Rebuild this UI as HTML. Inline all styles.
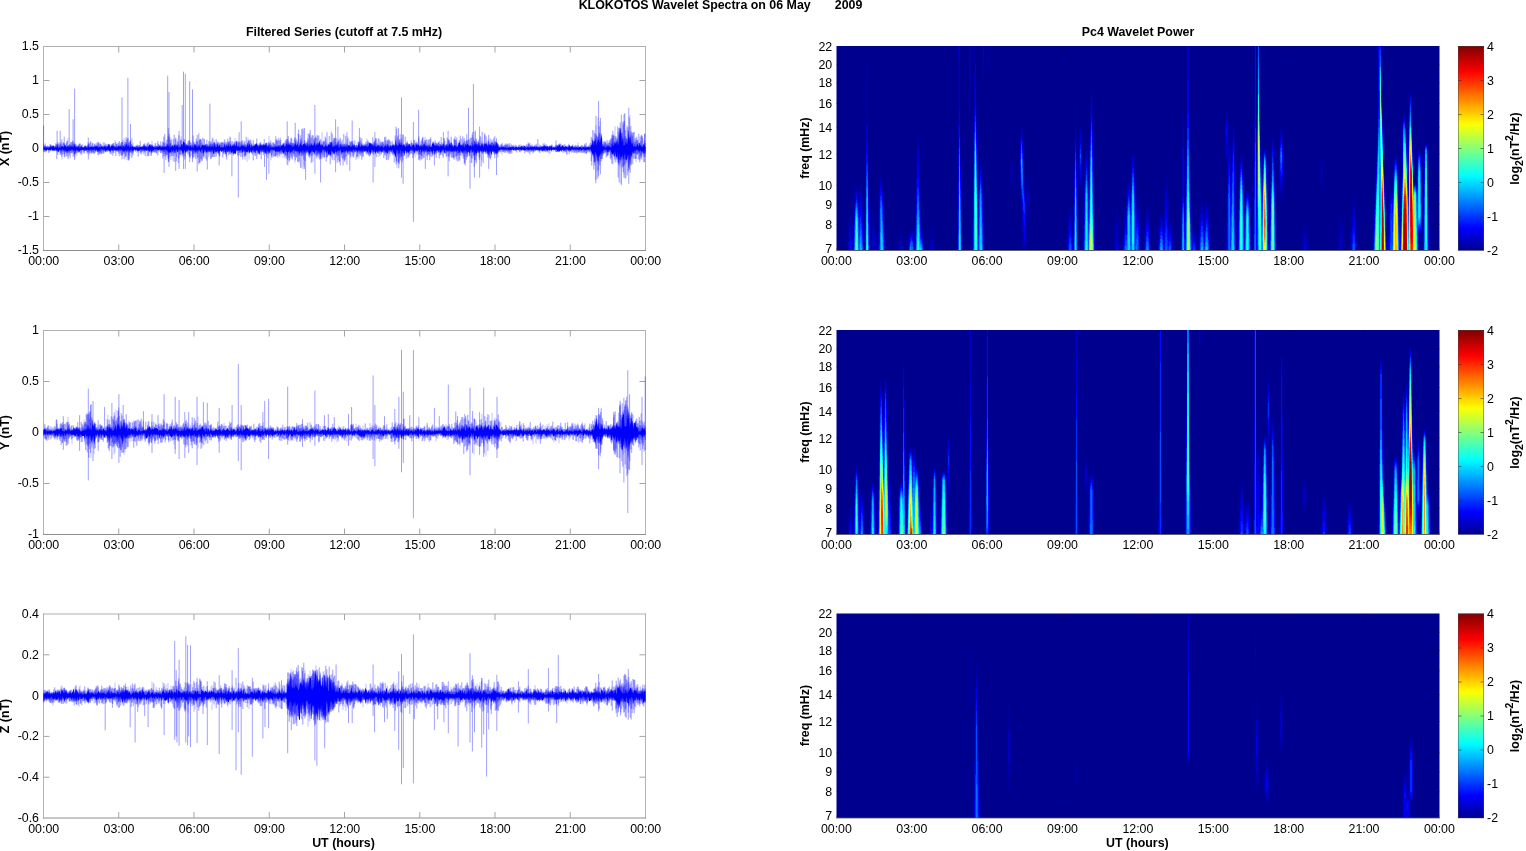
<!DOCTYPE html>
<html lang="en"><head><meta charset="utf-8"><title>KLOKOTOS Wavelet Spectra on 06 May 2009</title>
<style>html,body{margin:0;padding:0;background:#fff;overflow:hidden}svg{display:block}text{font-family:'Liberation Sans', sans-serif;fill:#000;white-space:pre}</style>
</head><body>
<svg width="1526" height="851" viewBox="0 0 1526 851">
<rect width="1526" height="851" fill="#fff"/>
<defs><linearGradient id="jet" x1="0" y1="1" x2="0" y2="0">
<stop offset="0.0000" stop-color="#00008f"/>
<stop offset="0.0156" stop-color="#00009f"/>
<stop offset="0.0312" stop-color="#0000af"/>
<stop offset="0.0469" stop-color="#0000be"/>
<stop offset="0.0625" stop-color="#0000ce"/>
<stop offset="0.0781" stop-color="#0000de"/>
<stop offset="0.0938" stop-color="#0000ee"/>
<stop offset="0.1094" stop-color="#0000fd"/>
<stop offset="0.1250" stop-color="#000eff"/>
<stop offset="0.1406" stop-color="#001eff"/>
<stop offset="0.1562" stop-color="#002dff"/>
<stop offset="0.1719" stop-color="#003dff"/>
<stop offset="0.1875" stop-color="#004dff"/>
<stop offset="0.2031" stop-color="#005cff"/>
<stop offset="0.2188" stop-color="#006cff"/>
<stop offset="0.2344" stop-color="#007cff"/>
<stop offset="0.2500" stop-color="#008bff"/>
<stop offset="0.2656" stop-color="#009bff"/>
<stop offset="0.2812" stop-color="#00abff"/>
<stop offset="0.2969" stop-color="#00bbff"/>
<stop offset="0.3125" stop-color="#00caff"/>
<stop offset="0.3281" stop-color="#00daff"/>
<stop offset="0.3438" stop-color="#00eaff"/>
<stop offset="0.3594" stop-color="#00f9ff"/>
<stop offset="0.3750" stop-color="#0afff5"/>
<stop offset="0.3906" stop-color="#1affe5"/>
<stop offset="0.4062" stop-color="#29ffd6"/>
<stop offset="0.4219" stop-color="#39ffc6"/>
<stop offset="0.4375" stop-color="#49ffb6"/>
<stop offset="0.4531" stop-color="#58ffa7"/>
<stop offset="0.4688" stop-color="#68ff97"/>
<stop offset="0.4844" stop-color="#78ff87"/>
<stop offset="0.5000" stop-color="#87ff78"/>
<stop offset="0.5156" stop-color="#97ff68"/>
<stop offset="0.5312" stop-color="#a7ff58"/>
<stop offset="0.5469" stop-color="#b7ff48"/>
<stop offset="0.5625" stop-color="#c6ff39"/>
<stop offset="0.5781" stop-color="#d6ff29"/>
<stop offset="0.5938" stop-color="#e6ff19"/>
<stop offset="0.6094" stop-color="#f5ff0a"/>
<stop offset="0.6250" stop-color="#fff900"/>
<stop offset="0.6406" stop-color="#ffe900"/>
<stop offset="0.6562" stop-color="#ffda00"/>
<stop offset="0.6719" stop-color="#ffca00"/>
<stop offset="0.6875" stop-color="#ffba00"/>
<stop offset="0.7031" stop-color="#ffab00"/>
<stop offset="0.7188" stop-color="#ff9b00"/>
<stop offset="0.7344" stop-color="#ff8b00"/>
<stop offset="0.7500" stop-color="#ff7c00"/>
<stop offset="0.7656" stop-color="#ff6c00"/>
<stop offset="0.7812" stop-color="#ff5c00"/>
<stop offset="0.7969" stop-color="#ff4c00"/>
<stop offset="0.8125" stop-color="#ff3d00"/>
<stop offset="0.8281" stop-color="#ff2d00"/>
<stop offset="0.8438" stop-color="#ff1d00"/>
<stop offset="0.8594" stop-color="#ff0e00"/>
<stop offset="0.8750" stop-color="#fd0000"/>
<stop offset="0.8906" stop-color="#ed0000"/>
<stop offset="0.9062" stop-color="#de0000"/>
<stop offset="0.9219" stop-color="#ce0000"/>
<stop offset="0.9375" stop-color="#be0000"/>
<stop offset="0.9531" stop-color="#af0000"/>
<stop offset="0.9688" stop-color="#9f0000"/>
<stop offset="0.9844" stop-color="#8f0000"/>
<stop offset="1.0000" stop-color="#800000"/>
</linearGradient>
<filter id="bl" color-interpolation-filters="sRGB" x="-5%" y="-5%" width="110%" height="110%"><feGaussianBlur stdDeviation="0.4 0.3"/></filter>
<clipPath id="cp0"><rect x="836.5" y="46.0" width="603.0" height="204.5"/></clipPath>
<clipPath id="cp1"><rect x="836.5" y="330.0" width="603.0" height="204.5"/></clipPath>
<clipPath id="cp2"><rect x="836.5" y="613.5" width="603.0" height="204.5"/></clipPath>
</defs>
<text x="720.5" y="9.4" text-anchor="middle" font-weight="bold" font-size="12.4" xml:space="preserve">KLOKOTOS Wavelet Spectra on 06 May       2009</text>
<text x="344.0" y="36.4" text-anchor="middle" font-weight="bold" font-size="12.4" >Filtered Series (cutoff at 7.5 mHz)</text>
<text x="1138.0" y="36.4" text-anchor="middle" font-weight="bold" font-size="12.4" >Pc4 Wavelet Power</text>
<text x="343.5" y="847.4" text-anchor="middle" font-weight="bold" font-size="12.4" >UT (hours)</text>
<text x="1137.4" y="847.4" text-anchor="middle" font-weight="bold" font-size="12.4" >UT (hours)</text>
<path d="M43.5 46.0V251.0M645.5 46.0V251.0" stroke="#b4b4b4" stroke-width="1" fill="none"/>
<path d="M43.0 46.5H646.0" stroke="#b0b0b0" stroke-width="1" fill="none"/>
<path d="M43.0 250.5H646.0" stroke="#8e8e8e" stroke-width="1" fill="none"/>
<path d="M118.75 46.5v6M118.75 250.5v-6M194.00 46.5v6M194.00 250.5v-6M269.25 46.5v6M269.25 250.5v-6M344.50 46.5v6M344.50 250.5v-6M419.75 46.5v6M419.75 250.5v-6M495.00 46.5v6M495.00 250.5v-6M570.25 46.5v6M570.25 250.5v-6M43.5 80.50h6M645.5 80.50h-6M43.5 114.50h6M645.5 114.50h-6M43.5 148.50h6M645.5 148.50h-6M43.5 182.50h6M645.5 182.50h-6M43.5 216.50h6M645.5 216.50h-6" stroke="#a4a4a4" stroke-width="1" fill="none"/>
<g transform="scale(0.1)"><path d="M435 1476L440 1477L445 1477L450 1466L455 1477L460 1474L465 1476L470 1477L475 1477L480 1476L485 1477L490 1477L495 1477L500 1465L505 1467L510 1463L515 1465L520 1477L525 1458L530 1454L535 1462L540 1456L545 1477L550 1477L555 1464L560 1477L565 1476L570 1468L575 1446L580 1475L585 1477L590 1477L595 1477L600 1477L605 1477L610 1477L615 1461L620 1460L625 1465L630 1475L635 1467L640 1477L645 1443L650 1448L655 1455L660 1468L665 1474L670 1469L675 1454L680 1474L685 1471L690 1445L695 1475L700 1472L705 1460L710 1477L715 1460L720 1459L725 1477L730 1461L735 1477L740 1436L745 1459L750 1438L755 1475L760 1472L765 1476L770 1458L775 1476L780 1477L785 1452L790 1477L795 1477L800 1475L805 1473L810 1477L815 1444L820 1477L825 1477L830 1467L835 1477L840 1477L845 1467L850 1452L855 1477L860 1472L865 1475L870 1474L875 1477L880 1477L885 1459L890 1473L895 1477L900 1471L905 1471L910 1473L915 1469L920 1459L925 1473L930 1477L935 1471L940 1464L945 1464L950 1477L955 1448L960 1467L965 1454L970 1474L975 1460L980 1474L985 1477L990 1465L995 1476L1000 1470L1005 1477L1010 1475L1015 1463L1020 1466L1025 1472L1030 1462L1035 1477L1040 1477L1045 1458L1050 1453L1055 1476L1060 1456L1065 1477L1070 1472L1075 1465L1080 1463L1085 1444L1090 1437L1095 1445L1100 1474L1105 1475L1110 1461L1115 1452L1120 1468L1125 1444L1130 1473L1135 1459L1140 1458L1145 1477L1150 1469L1155 1472L1160 1466L1165 1477L1170 1473L1175 1476L1180 1463L1185 1452L1190 1467L1195 1460L1200 1471L1205 1452L1210 1473L1215 1470L1220 1455L1225 1471L1230 1477L1235 1454L1240 1460L1245 1477L1250 1460L1255 1470L1260 1444L1265 1443L1270 1458L1275 1476L1280 1449L1285 1463L1290 1460L1295 1477L1300 1473L1305 1472L1310 1458L1315 1473L1320 1477L1325 1454L1330 1465L1335 1476L1340 1477L1345 1464L1350 1476L1355 1472L1360 1477L1365 1477L1370 1466L1375 1465L1380 1477L1385 1477L1390 1470L1395 1475L1400 1473L1405 1470L1410 1476L1415 1465L1420 1477L1425 1466L1430 1467L1435 1466L1440 1458L1445 1451L1450 1477L1455 1459L1460 1477L1465 1467L1470 1477L1475 1474L1480 1462L1485 1469L1490 1454L1495 1447L1500 1450L1505 1458L1510 1476L1515 1456L1520 1453L1525 1459L1530 1470L1535 1469L1540 1476L1545 1476L1550 1476L1555 1476L1560 1477L1565 1477L1570 1461L1575 1471L1580 1465L1585 1470L1590 1475L1595 1452L1600 1471L1605 1457L1610 1472L1615 1477L1620 1459L1625 1471L1630 1475L1635 1456L1640 1477L1645 1464L1650 1469L1655 1473L1660 1470L1665 1467L1670 1435L1675 1459L1680 1458L1685 1457L1690 1472L1695 1474L1700 1438L1705 1474L1710 1474L1715 1470L1720 1455L1725 1460L1730 1459L1735 1474L1740 1449L1745 1444L1750 1450L1755 1469L1760 1474L1765 1457L1770 1456L1775 1443L1780 1467L1785 1477L1790 1477L1795 1471L1800 1475L1805 1463L1810 1472L1815 1437L1820 1441L1825 1470L1830 1410L1835 1418L1840 1420L1845 1428L1850 1457L1855 1462L1860 1462L1865 1433L1870 1476L1875 1444L1880 1455L1885 1449L1890 1476L1895 1470L1900 1449L1905 1449L1910 1474L1915 1471L1920 1474L1925 1476L1930 1458L1935 1477L1940 1470L1945 1441L1950 1450L1955 1440L1960 1459L1965 1476L1970 1455L1975 1473L1980 1477L1985 1463L1990 1448L1995 1460L2000 1476L2005 1475L2010 1474L2015 1466L2020 1450L2025 1450L2030 1446L2035 1466L2040 1446L2045 1455L2050 1464L2055 1433L2060 1472L2065 1465L2070 1435L2075 1464L2080 1474L2085 1469L2090 1472L2095 1456L2100 1458L2105 1472L2110 1473L2115 1464L2120 1462L2125 1470L2130 1432L2135 1474L2140 1470L2145 1425L2150 1430L2155 1475L2160 1473L2165 1470L2170 1468L2175 1426L2180 1469L2185 1462L2190 1462L2195 1441L2200 1474L2205 1474L2210 1467L2215 1475L2220 1468L2225 1474L2230 1477L2235 1477L2240 1454L2245 1434L2250 1475L2255 1472L2260 1456L2265 1457L2270 1473L2275 1453L2280 1462L2285 1444L2290 1458L2295 1468L2300 1467L2305 1442L2310 1453L2315 1473L2320 1459L2325 1458L2330 1438L2335 1452L2340 1470L2345 1426L2350 1453L2355 1471L2360 1408L2365 1417L2370 1469L2375 1469L2380 1445L2385 1463L2390 1477L2395 1467L2400 1477L2405 1460L2410 1474L2415 1458L2420 1459L2425 1450L2430 1464L2435 1457L2440 1461L2445 1472L2450 1458L2455 1475L2460 1470L2465 1473L2470 1467L2475 1439L2480 1417L2485 1464L2490 1456L2495 1432L2500 1451L2505 1476L2510 1474L2515 1451L2520 1466L2525 1466L2530 1477L2535 1448L2540 1468L2545 1451L2550 1455L2555 1432L2560 1448L2565 1429L2570 1437L2575 1463L2580 1448L2585 1469L2590 1467L2595 1457L2600 1448L2605 1443L2610 1460L2615 1457L2620 1446L2625 1464L2630 1431L2635 1444L2640 1461L2645 1450L2650 1448L2655 1456L2660 1434L2665 1450L2670 1474L2675 1470L2680 1458L2685 1445L2690 1473L2695 1472L2700 1444L2705 1475L2710 1473L2715 1477L2720 1467L2725 1474L2730 1476L2735 1473L2740 1477L2745 1465L2750 1474L2755 1461L2760 1470L2765 1471L2770 1458L2775 1476L2780 1459L2785 1466L2790 1456L2795 1475L2800 1465L2805 1472L2810 1464L2815 1453L2820 1450L2825 1462L2830 1436L2835 1453L2840 1441L2845 1472L2850 1473L2855 1455L2860 1463L2865 1429L2870 1444L2875 1458L2880 1396L2885 1445L2890 1452L2895 1444L2900 1419L2905 1455L2910 1453L2915 1455L2920 1469L2925 1469L2930 1443L2935 1472L2940 1460L2945 1461L2950 1446L2955 1444L2960 1422L2965 1463L2970 1448L2975 1415L2980 1470L2985 1470L2990 1468L2995 1455L3000 1421L3005 1450L3010 1402L3015 1465L3020 1440L3025 1470L3030 1444L3035 1441L3040 1441L3045 1424L3050 1451L3055 1424L3060 1465L3065 1461L3070 1422L3075 1433L3080 1465L3085 1469L3090 1436L3095 1469L3100 1412L3105 1463L3110 1453L3115 1425L3120 1459L3125 1454L3130 1455L3135 1453L3140 1447L3145 1420L3150 1435L3155 1475L3160 1431L3165 1440L3170 1461L3175 1416L3180 1455L3185 1428L3190 1430L3195 1406L3200 1442L3205 1450L3210 1461L3215 1464L3220 1411L3225 1452L3230 1458L3235 1476L3240 1467L3245 1463L3250 1477L3255 1444L3260 1461L3265 1458L3270 1467L3275 1469L3280 1452L3285 1442L3290 1451L3295 1440L3300 1465L3305 1426L3310 1419L3315 1418L3320 1458L3325 1470L3330 1465L3335 1471L3340 1463L3345 1454L3350 1462L3355 1469L3360 1441L3365 1472L3370 1433L3375 1451L3380 1471L3385 1452L3390 1477L3395 1476L3400 1473L3405 1436L3410 1466L3415 1462L3420 1471L3425 1475L3430 1434L3435 1471L3440 1462L3445 1470L3450 1456L3455 1471L3460 1473L3465 1470L3470 1454L3475 1467L3480 1477L3485 1452L3490 1452L3495 1453L3500 1461L3505 1473L3510 1465L3515 1466L3520 1473L3525 1431L3530 1471L3535 1462L3540 1440L3545 1453L3550 1477L3555 1475L3560 1474L3565 1473L3570 1476L3575 1475L3580 1461L3585 1440L3590 1432L3595 1473L3600 1458L3605 1469L3610 1469L3615 1421L3620 1465L3625 1471L3630 1432L3635 1466L3640 1468L3645 1455L3650 1444L3655 1458L3660 1460L3665 1474L3670 1451L3675 1469L3680 1470L3685 1460L3690 1455L3695 1422L3700 1434L3705 1435L3710 1437L3715 1430L3720 1471L3725 1442L3730 1442L3735 1470L3740 1433L3745 1472L3750 1425L3755 1473L3760 1460L3765 1462L3770 1476L3775 1456L3780 1450L3785 1445L3790 1476L3795 1471L3800 1438L3805 1473L3810 1472L3815 1452L3820 1463L3825 1463L3830 1477L3835 1473L3840 1477L3845 1458L3850 1455L3855 1459L3860 1465L3865 1469L3870 1459L3875 1448L3880 1434L3885 1473L3890 1468L3895 1476L3900 1472L3905 1458L3910 1455L3915 1474L3920 1460L3925 1461L3930 1441L3935 1460L3940 1432L3945 1469L3950 1455L3955 1423L3960 1404L3965 1468L3970 1451L3975 1466L3980 1449L3985 1449L3990 1456L3995 1425L4000 1441L4005 1454L4010 1439L4015 1457L4020 1420L4025 1471L4030 1445L4035 1452L4040 1438L4045 1460L4050 1470L4055 1471L4060 1461L4065 1460L4070 1429L4075 1458L4080 1468L4085 1438L4090 1460L4095 1432L4100 1467L4105 1452L4110 1475L4115 1475L4120 1454L4125 1459L4130 1448L4135 1450L4140 1444L4145 1467L4150 1475L4155 1474L4160 1446L4165 1451L4170 1442L4175 1446L4180 1473L4185 1439L4190 1452L4195 1472L4200 1455L4205 1473L4210 1448L4215 1470L4220 1450L4225 1464L4230 1472L4235 1437L4240 1459L4245 1420L4250 1464L4255 1452L4260 1467L4265 1456L4270 1472L4275 1473L4280 1444L4285 1477L4290 1468L4295 1449L4300 1466L4305 1473L4310 1469L4315 1470L4320 1445L4325 1424L4330 1443L4335 1416L4340 1455L4345 1441L4350 1468L4355 1453L4360 1453L4365 1453L4370 1470L4375 1454L4380 1448L4385 1462L4390 1456L4395 1467L4400 1474L4405 1456L4410 1451L4415 1462L4420 1461L4425 1447L4430 1470L4435 1445L4440 1441L4445 1475L4450 1471L4455 1474L4460 1438L4465 1469L4470 1432L4475 1474L4480 1453L4485 1471L4490 1440L4495 1449L4500 1424L4505 1438L4510 1471L4515 1422L4520 1424L4525 1468L4530 1464L4535 1474L4540 1458L4545 1447L4550 1458L4555 1459L4560 1465L4565 1463L4570 1475L4575 1470L4580 1464L4585 1423L4590 1433L4595 1421L4600 1435L4605 1450L4610 1467L4615 1447L4620 1451L4625 1465L4630 1433L4635 1472L4640 1432L4645 1475L4650 1474L4655 1440L4660 1437L4665 1459L4670 1448L4675 1439L4680 1441L4685 1468L4690 1447L4695 1462L4700 1461L4705 1451L4710 1459L4715 1463L4720 1474L4725 1428L4730 1464L4735 1455L4740 1467L4745 1398L4750 1412L4755 1454L4760 1405L4765 1471L4770 1413L4775 1462L4780 1437L4785 1413L4790 1470L4795 1444L4800 1457L4805 1463L4810 1468L4815 1425L4820 1464L4825 1428L4830 1468L4835 1462L4840 1470L4845 1445L4850 1435L4855 1439L4860 1447L4865 1415L4870 1468L4875 1461L4880 1404L4885 1442L4890 1466L4895 1446L4900 1446L4905 1444L4910 1463L4915 1456L4920 1414L4925 1472L4930 1448L4935 1451L4940 1438L4945 1461L4950 1461L4955 1427L4960 1472L4965 1421L4970 1423L4975 1461L4980 1437L4985 1476L4990 1477L4995 1473L5000 1477L5005 1477L5010 1477L5015 1465L5020 1477L5025 1470L5030 1458L5035 1477L5040 1467L5045 1474L5050 1477L5055 1472L5060 1477L5065 1477L5070 1477L5075 1477L5080 1477L5085 1477L5090 1472L5095 1477L5100 1466L5105 1477L5110 1469L5115 1477L5120 1466L5125 1477L5130 1468L5135 1475L5140 1477L5145 1477L5150 1477L5155 1471L5160 1475L5165 1462L5170 1476L5175 1477L5180 1476L5185 1464L5190 1473L5195 1477L5200 1472L5205 1471L5210 1469L5215 1465L5220 1456L5225 1476L5230 1475L5235 1477L5240 1466L5245 1459L5250 1460L5255 1474L5260 1477L5265 1477L5270 1477L5275 1471L5280 1471L5285 1477L5290 1469L5295 1476L5300 1474L5305 1462L5310 1466L5315 1472L5320 1469L5325 1465L5330 1471L5335 1465L5340 1477L5345 1463L5350 1469L5355 1477L5360 1462L5365 1464L5370 1477L5375 1473L5380 1477L5385 1477L5390 1468L5395 1477L5400 1473L5405 1477L5410 1471L5415 1471L5420 1462L5425 1460L5430 1477L5435 1453L5440 1475L5445 1451L5450 1455L5455 1458L5460 1473L5465 1464L5470 1463L5475 1454L5480 1477L5485 1470L5490 1477L5495 1455L5500 1477L5505 1462L5510 1458L5515 1461L5520 1477L5525 1477L5530 1477L5535 1475L5540 1470L5545 1477L5550 1477L5555 1477L5560 1470L5565 1474L5570 1477L5575 1452L5580 1462L5585 1464L5590 1455L5595 1444L5600 1461L5605 1473L5610 1465L5615 1475L5620 1448L5625 1457L5630 1449L5635 1466L5640 1475L5645 1471L5650 1468L5655 1461L5660 1467L5665 1465L5670 1477L5675 1476L5680 1476L5685 1476L5690 1453L5695 1454L5700 1454L5705 1477L5710 1470L5715 1458L5720 1472L5725 1461L5730 1471L5735 1477L5740 1477L5745 1477L5750 1477L5755 1472L5760 1472L5765 1473L5770 1477L5775 1477L5780 1477L5785 1476L5790 1471L5795 1470L5800 1472L5805 1468L5810 1477L5815 1477L5820 1477L5825 1477L5830 1463L5835 1475L5840 1468L5845 1477L5850 1476L5855 1475L5860 1475L5865 1477L5870 1470L5875 1477L5880 1470L5885 1468L5890 1465L5895 1477L5900 1476L5905 1477L5910 1453L5915 1445L5920 1452L5925 1394L5930 1414L5935 1459L5940 1429L5945 1412L5950 1397L5955 1401L5960 1452L5965 1451L5970 1433L5975 1415L5980 1392L5985 1406L5990 1400L5995 1427L6000 1426L6005 1408L6010 1333L6015 1352L6020 1388L6025 1459L6030 1470L6035 1462L6040 1457L6045 1467L6050 1477L6055 1476L6060 1477L6065 1472L6070 1449L6075 1470L6080 1461L6085 1452L6090 1476L6095 1467L6100 1459L6105 1477L6110 1476L6115 1466L6120 1417L6125 1446L6130 1465L6135 1448L6140 1461L6145 1409L6150 1442L6155 1424L6160 1438L6165 1400L6170 1461L6175 1428L6180 1369L6185 1448L6190 1443L6195 1264L6200 1359L6205 1271L6210 1328L6215 1397L6220 1428L6225 1384L6230 1388L6235 1460L6240 1458L6245 1447L6250 1454L6255 1405L6260 1439L6265 1434L6270 1393L6275 1449L6280 1418L6285 1297L6290 1385L6295 1361L6300 1439L6305 1310L6310 1440L6315 1420L6320 1455L6325 1421L6330 1454L6335 1472L6340 1451L6345 1467L6350 1461L6355 1470L6360 1467L6365 1466L6370 1444L6375 1436L6380 1459L6385 1472L6390 1429L6395 1431L6400 1458L6405 1442L6410 1471L6415 1465L6420 1468L6425 1471L6430 1475L6435 1445L6440 1433L6445 1449L6450 1470L6455 1464L6455 1542L6450 1503L6445 1549L6440 1495L6435 1530L6430 1538L6425 1499L6420 1529L6415 1512L6410 1514L6405 1503L6400 1497L6395 1534L6390 1499L6385 1525L6380 1496L6375 1506L6370 1497L6365 1501L6360 1494L6355 1503L6350 1535L6345 1502L6340 1511L6335 1532L6330 1535L6325 1507L6320 1549L6315 1567L6310 1510L6305 1654L6300 1526L6295 1599L6290 1690L6285 1536L6280 1559L6275 1546L6270 1596L6265 1602L6260 1591L6255 1586L6250 1517L6245 1559L6240 1548L6235 1598L6230 1574L6225 1533L6220 1589L6215 1558L6210 1568L6205 1572L6200 1699L6195 1550L6190 1530L6185 1656L6180 1592L6175 1521L6170 1609L6165 1562L6160 1575L6155 1536L6150 1501L6145 1565L6140 1571L6135 1531L6130 1536L6125 1546L6120 1536L6115 1526L6110 1513L6105 1493L6100 1501L6095 1499L6090 1494L6085 1514L6080 1518L6075 1517L6070 1510L6065 1501L6060 1493L6055 1499L6050 1493L6045 1493L6040 1505L6035 1497L6030 1514L6025 1511L6020 1576L6015 1511L6010 1545L6005 1523L6000 1553L5995 1578L5990 1517L5985 1651L5980 1540L5975 1640L5970 1529L5965 1578L5960 1518L5955 1523L5950 1532L5945 1630L5940 1511L5935 1580L5930 1532L5925 1560L5920 1526L5915 1516L5910 1494L5905 1496L5900 1493L5895 1493L5890 1493L5885 1493L5880 1499L5875 1493L5870 1504L5865 1493L5860 1499L5855 1502L5850 1499L5845 1498L5840 1493L5835 1493L5830 1500L5825 1493L5820 1498L5815 1510L5810 1496L5805 1496L5800 1496L5795 1494L5790 1502L5785 1501L5780 1499L5775 1493L5770 1498L5765 1493L5760 1501L5755 1493L5750 1493L5745 1493L5740 1504L5735 1493L5730 1495L5725 1493L5720 1493L5715 1498L5710 1508L5705 1502L5700 1523L5695 1500L5690 1499L5685 1504L5680 1493L5675 1493L5670 1493L5665 1494L5660 1493L5655 1498L5650 1498L5645 1510L5640 1493L5635 1515L5630 1502L5625 1497L5620 1495L5615 1518L5610 1502L5605 1500L5600 1513L5595 1510L5590 1523L5585 1497L5580 1513L5575 1518L5570 1505L5565 1493L5560 1501L5555 1493L5550 1493L5545 1501L5540 1499L5535 1496L5530 1493L5525 1495L5520 1500L5515 1510L5510 1493L5505 1497L5500 1496L5495 1505L5490 1509L5485 1494L5480 1495L5475 1523L5470 1497L5465 1497L5460 1508L5455 1493L5450 1493L5445 1506L5440 1510L5435 1497L5430 1509L5425 1513L5420 1493L5415 1506L5410 1493L5405 1496L5400 1502L5395 1497L5390 1511L5385 1495L5380 1493L5375 1500L5370 1499L5365 1493L5360 1507L5355 1503L5350 1493L5345 1493L5340 1497L5335 1501L5330 1493L5325 1493L5320 1513L5315 1501L5310 1495L5305 1493L5300 1507L5295 1493L5290 1501L5285 1503L5280 1493L5275 1497L5270 1493L5265 1493L5260 1493L5255 1502L5250 1501L5245 1505L5240 1503L5235 1495L5230 1504L5225 1495L5220 1493L5215 1515L5210 1494L5205 1498L5200 1493L5195 1493L5190 1500L5185 1493L5180 1498L5175 1493L5170 1502L5165 1493L5160 1509L5155 1493L5150 1501L5145 1493L5140 1495L5135 1510L5130 1494L5125 1493L5120 1494L5115 1503L5110 1493L5105 1502L5100 1506L5095 1502L5090 1494L5085 1507L5080 1501L5075 1493L5070 1495L5065 1493L5060 1501L5055 1493L5050 1498L5045 1493L5040 1505L5035 1493L5030 1498L5025 1493L5020 1501L5015 1493L5010 1493L5005 1493L5000 1502L4995 1506L4990 1500L4985 1503L4980 1531L4975 1532L4970 1504L4965 1541L4960 1528L4955 1541L4950 1505L4945 1517L4940 1528L4935 1528L4930 1495L4925 1515L4920 1521L4915 1545L4910 1545L4905 1509L4900 1507L4895 1530L4890 1504L4885 1554L4880 1513L4875 1553L4870 1505L4865 1498L4860 1545L4855 1510L4850 1515L4845 1495L4840 1510L4835 1517L4830 1512L4825 1504L4820 1529L4815 1514L4810 1500L4805 1508L4800 1507L4795 1522L4790 1541L4785 1510L4780 1506L4775 1502L4770 1524L4765 1546L4760 1509L4755 1532L4750 1553L4745 1547L4740 1503L4735 1501L4730 1535L4725 1517L4720 1509L4715 1495L4710 1495L4705 1496L4700 1530L4695 1536L4690 1495L4685 1515L4680 1528L4675 1514L4670 1538L4665 1508L4660 1501L4655 1506L4650 1531L4645 1507L4640 1500L4635 1532L4630 1497L4625 1535L4620 1507L4615 1533L4610 1496L4605 1499L4600 1531L4595 1519L4590 1509L4585 1507L4580 1540L4575 1495L4570 1497L4565 1525L4560 1509L4555 1496L4550 1523L4545 1506L4540 1512L4535 1503L4530 1515L4525 1509L4520 1523L4515 1501L4510 1522L4505 1500L4500 1515L4495 1496L4490 1524L4485 1497L4480 1506L4475 1515L4470 1501L4465 1521L4460 1496L4455 1498L4450 1506L4445 1539L4440 1496L4435 1499L4430 1496L4425 1495L4420 1504L4415 1502L4410 1539L4405 1515L4400 1530L4395 1503L4390 1496L4385 1533L4380 1505L4375 1497L4370 1511L4365 1499L4360 1530L4355 1504L4350 1524L4345 1529L4340 1501L4335 1510L4330 1512L4325 1539L4320 1544L4315 1507L4310 1518L4305 1497L4300 1496L4295 1521L4290 1518L4285 1506L4280 1515L4275 1516L4270 1518L4265 1497L4260 1497L4255 1504L4250 1504L4245 1498L4240 1541L4235 1503L4230 1506L4225 1495L4220 1523L4215 1530L4210 1496L4205 1499L4200 1498L4195 1530L4190 1495L4185 1501L4180 1498L4175 1506L4170 1514L4165 1496L4160 1512L4155 1493L4150 1509L4145 1532L4140 1524L4135 1500L4130 1495L4125 1511L4120 1493L4115 1495L4110 1494L4105 1496L4100 1512L4095 1510L4090 1529L4085 1529L4080 1504L4075 1529L4070 1514L4065 1544L4060 1504L4055 1509L4050 1500L4045 1551L4040 1545L4035 1499L4030 1527L4025 1501L4020 1550L4015 1521L4010 1502L4005 1496L4000 1544L3995 1538L3990 1496L3985 1519L3980 1548L3975 1508L3970 1497L3965 1506L3960 1547L3955 1578L3950 1563L3945 1529L3940 1538L3935 1526L3930 1506L3925 1498L3920 1496L3915 1518L3910 1503L3905 1500L3900 1500L3895 1498L3890 1517L3885 1496L3880 1528L3875 1537L3870 1507L3865 1540L3860 1498L3855 1532L3850 1517L3845 1496L3840 1516L3835 1493L3830 1498L3825 1517L3820 1529L3815 1504L3810 1526L3805 1497L3800 1518L3795 1507L3790 1497L3785 1513L3780 1520L3775 1532L3770 1494L3765 1521L3760 1513L3755 1542L3750 1529L3745 1499L3740 1496L3735 1516L3730 1532L3725 1500L3720 1500L3715 1497L3710 1546L3705 1547L3700 1518L3695 1531L3690 1508L3685 1496L3680 1521L3675 1521L3670 1515L3665 1509L3660 1504L3655 1518L3650 1493L3645 1515L3640 1508L3635 1496L3630 1533L3625 1500L3620 1530L3615 1498L3610 1521L3605 1503L3600 1511L3595 1498L3590 1522L3585 1504L3580 1496L3575 1529L3570 1526L3565 1506L3560 1495L3555 1493L3550 1526L3545 1508L3540 1495L3535 1496L3530 1499L3525 1526L3520 1496L3515 1529L3510 1505L3505 1503L3500 1522L3495 1493L3490 1526L3485 1513L3480 1494L3475 1534L3470 1531L3465 1497L3460 1500L3455 1517L3450 1530L3445 1527L3440 1493L3435 1522L3430 1520L3425 1529L3420 1514L3415 1539L3410 1503L3405 1496L3400 1494L3395 1520L3390 1493L3385 1518L3380 1499L3375 1513L3370 1517L3365 1516L3360 1536L3355 1496L3350 1504L3345 1547L3340 1531L3335 1547L3330 1512L3325 1527L3320 1505L3315 1505L3310 1536L3305 1556L3300 1564L3295 1514L3290 1555L3285 1540L3280 1535L3275 1495L3270 1524L3265 1531L3260 1511L3255 1494L3250 1527L3245 1508L3240 1493L3235 1501L3230 1496L3225 1498L3220 1503L3215 1523L3210 1534L3205 1502L3200 1567L3195 1501L3190 1553L3185 1519L3180 1499L3175 1510L3170 1547L3165 1501L3160 1496L3155 1513L3150 1496L3145 1548L3140 1514L3135 1522L3130 1520L3125 1497L3120 1520L3115 1503L3110 1525L3105 1533L3100 1516L3095 1562L3090 1543L3085 1527L3080 1500L3075 1500L3070 1531L3065 1509L3060 1498L3055 1506L3050 1540L3045 1504L3040 1554L3035 1506L3030 1502L3025 1500L3020 1573L3015 1500L3010 1552L3005 1499L3000 1528L2995 1547L2990 1510L2985 1515L2980 1540L2975 1510L2970 1506L2965 1523L2960 1505L2955 1513L2950 1496L2945 1519L2940 1503L2935 1495L2930 1498L2925 1517L2920 1506L2915 1521L2910 1522L2905 1525L2900 1542L2895 1499L2890 1509L2885 1528L2880 1509L2875 1560L2870 1518L2865 1515L2860 1523L2855 1499L2850 1495L2845 1536L2840 1515L2835 1535L2830 1535L2825 1518L2820 1497L2815 1511L2810 1493L2805 1503L2800 1511L2795 1518L2790 1504L2785 1523L2780 1497L2775 1516L2770 1528L2765 1507L2760 1514L2755 1519L2750 1509L2745 1494L2740 1502L2735 1499L2730 1500L2725 1493L2720 1499L2715 1493L2710 1496L2705 1497L2700 1517L2695 1518L2690 1535L2685 1509L2680 1503L2675 1522L2670 1498L2665 1510L2660 1520L2655 1532L2650 1536L2645 1497L2640 1543L2635 1504L2630 1501L2625 1494L2620 1519L2615 1493L2610 1521L2605 1494L2600 1498L2595 1539L2590 1539L2585 1514L2580 1536L2575 1500L2570 1510L2565 1506L2560 1496L2555 1531L2550 1536L2545 1504L2540 1530L2535 1493L2530 1499L2525 1499L2520 1511L2515 1520L2510 1518L2505 1494L2500 1526L2495 1537L2490 1514L2485 1498L2480 1513L2475 1520L2470 1518L2465 1528L2460 1505L2455 1537L2450 1498L2445 1523L2440 1496L2435 1506L2430 1515L2425 1520L2420 1515L2415 1496L2410 1494L2405 1501L2400 1516L2395 1499L2390 1504L2385 1500L2380 1502L2375 1507L2370 1497L2365 1498L2360 1531L2355 1540L2350 1546L2345 1524L2340 1542L2335 1541L2330 1505L2325 1528L2320 1509L2315 1529L2310 1528L2305 1506L2300 1501L2295 1503L2290 1529L2285 1501L2280 1507L2275 1518L2270 1508L2265 1498L2260 1546L2255 1522L2250 1511L2245 1497L2240 1496L2235 1513L2230 1511L2225 1505L2220 1498L2215 1519L2210 1519L2205 1495L2200 1509L2195 1531L2190 1503L2185 1538L2180 1534L2175 1513L2170 1503L2165 1522L2160 1513L2155 1526L2150 1497L2145 1503L2140 1541L2135 1541L2130 1525L2125 1494L2120 1502L2115 1503L2110 1523L2105 1505L2100 1508L2095 1526L2090 1494L2085 1504L2080 1533L2075 1496L2070 1534L2065 1521L2060 1516L2055 1497L2050 1503L2045 1496L2040 1532L2035 1537L2030 1516L2025 1495L2020 1500L2015 1495L2010 1511L2005 1519L2000 1509L1995 1495L1990 1506L1985 1495L1980 1516L1975 1506L1970 1493L1965 1526L1960 1496L1955 1520L1950 1529L1945 1496L1940 1505L1935 1500L1930 1513L1925 1499L1920 1494L1915 1495L1910 1505L1905 1509L1900 1495L1895 1503L1890 1495L1885 1493L1880 1503L1875 1521L1870 1498L1865 1508L1860 1533L1855 1531L1850 1506L1845 1502L1840 1501L1835 1552L1830 1515L1825 1565L1820 1511L1815 1499L1810 1504L1805 1494L1800 1493L1795 1493L1790 1496L1785 1493L1780 1517L1775 1524L1770 1496L1765 1498L1760 1496L1755 1497L1750 1539L1745 1508L1740 1507L1735 1496L1730 1516L1725 1520L1720 1499L1715 1498L1710 1527L1705 1521L1700 1524L1695 1523L1690 1529L1685 1506L1680 1533L1675 1498L1670 1512L1665 1495L1660 1508L1655 1493L1650 1495L1645 1495L1640 1508L1635 1499L1630 1494L1625 1507L1620 1496L1615 1502L1610 1505L1605 1494L1600 1498L1595 1493L1590 1498L1585 1500L1580 1505L1575 1497L1570 1493L1565 1493L1560 1493L1555 1500L1550 1493L1545 1493L1540 1493L1535 1506L1530 1494L1525 1518L1520 1508L1515 1535L1510 1495L1505 1507L1500 1497L1495 1528L1490 1505L1485 1509L1480 1497L1475 1493L1470 1493L1465 1511L1460 1501L1455 1505L1450 1493L1445 1504L1440 1505L1435 1493L1430 1497L1425 1493L1420 1500L1415 1493L1410 1496L1405 1493L1400 1498L1395 1502L1390 1508L1385 1502L1380 1515L1375 1512L1370 1493L1365 1493L1360 1515L1355 1496L1350 1496L1345 1493L1340 1496L1335 1505L1330 1515L1325 1510L1320 1508L1315 1493L1310 1493L1305 1507L1300 1499L1295 1530L1290 1501L1285 1500L1280 1535L1275 1495L1270 1495L1265 1522L1260 1501L1255 1503L1250 1501L1245 1519L1240 1512L1235 1505L1230 1509L1225 1502L1220 1494L1215 1498L1210 1496L1205 1493L1200 1518L1195 1493L1190 1496L1185 1502L1180 1505L1175 1500L1170 1506L1165 1494L1160 1508L1155 1500L1150 1504L1145 1493L1140 1503L1135 1493L1130 1502L1125 1507L1120 1506L1115 1494L1110 1501L1105 1512L1100 1531L1095 1508L1090 1510L1085 1493L1080 1504L1075 1493L1070 1501L1065 1505L1060 1503L1055 1524L1050 1493L1045 1495L1040 1514L1035 1495L1030 1493L1025 1493L1020 1493L1015 1493L1010 1495L1005 1495L1000 1520L995 1504L990 1504L985 1502L980 1519L975 1513L970 1500L965 1493L960 1512L955 1509L950 1493L945 1493L940 1493L935 1502L930 1501L925 1496L920 1510L915 1493L910 1493L905 1503L900 1510L895 1493L890 1498L885 1508L880 1493L875 1494L870 1502L865 1502L860 1501L855 1510L850 1493L845 1510L840 1498L835 1493L830 1501L825 1493L820 1508L815 1500L810 1501L805 1507L800 1503L795 1524L790 1507L785 1519L780 1493L775 1511L770 1497L765 1493L760 1513L755 1514L750 1508L745 1495L740 1499L735 1515L730 1494L725 1501L720 1493L715 1493L710 1507L705 1501L700 1515L695 1495L690 1515L685 1495L680 1523L675 1516L670 1508L665 1512L660 1527L655 1494L650 1527L645 1494L640 1509L635 1493L630 1504L625 1493L620 1493L615 1511L610 1493L605 1508L600 1495L595 1493L590 1505L585 1523L580 1518L575 1498L570 1511L565 1504L560 1493L555 1493L550 1493L545 1510L540 1495L535 1511L530 1503L525 1510L520 1493L515 1493L510 1493L505 1508L500 1504L495 1493L490 1503L485 1497L480 1495L475 1493L470 1494L465 1512L460 1505L455 1497L450 1510L445 1493L440 1499L435 1503Z" fill="#0000ff"/>
<path d="M438 1444v74M448 1463v40M458 1454v42M468 1462v38M478 1455v42M488 1460v70M498 1467v34M508 1442v59M518 1452v54M528 1468v38M538 1474v32M548 1470v40M558 1432v78M568 1445v145M578 1419v131M588 1443v69M598 1457v53M608 1435v106M618 1393v173M628 1458v54M638 1427v113M648 1433v141M658 1466v39M668 1415v115M678 1466v68M688 1454v67M698 1444v84M708 1422v82M718 1451v75M728 1407v108M738 1433v132M748 1470v77M758 1461v69M768 1466v46M778 1449v80M788 1448v70M798 1440v67M808 1463v39M818 1468v30M828 1472v33M838 1471v41M848 1461v46M858 1463v38M868 1465v49M878 1453v70M888 1451v74M898 1465v59M908 1410v122M918 1452v85M928 1434v91M938 1464v73M948 1442v67M958 1475v25M968 1459v62M978 1460v62M988 1419v105M998 1438v107M1008 1443v90M1018 1461v80M1028 1454v72M1038 1463v50M1048 1426v84M1058 1440v82M1068 1446v68M1078 1446v60M1088 1473v37M1098 1456v47M1108 1473v39M1118 1444v64M1128 1453v105M1138 1433v98M1148 1461v45M1158 1420v141M1168 1442v73M1178 1466v50M1188 1425v112M1198 1455v57M1208 1465v90M1218 1420v129M1228 1404v140M1238 1466v73M1248 1418v88M1258 1419v156M1268 1398v125M1278 1450v59M1288 1428v175M1298 1418v97M1308 1400v120M1318 1442v138M1328 1455v60M1338 1469v37M1348 1469v34M1358 1455v45M1368 1459v37M1378 1474v37M1388 1472v24M1398 1454v48M1408 1470v54M1418 1471v46M1428 1471v37M1438 1442v100M1448 1434v84M1458 1455v45M1468 1468v42M1478 1445v65M1488 1421v139M1498 1443v77M1508 1446v77M1518 1470v30M1528 1466v38M1538 1453v73M1548 1458v67M1558 1458v45M1568 1459v69M1578 1412v144M1588 1446v72M1598 1461v45M1608 1414v117M1618 1455v53M1628 1416v170M1638 1365v198M1648 1340v177M1658 1457v141M1668 1400v150M1678 1456v91M1688 1442v174M1698 1368v206M1708 1432v76M1718 1462v75M1728 1469v46M1738 1468v92M1748 1464v62M1758 1446v73M1768 1460v112M1778 1461v61M1788 1352v235M1798 1454v90M1808 1397v117M1818 1451v92M1828 1452v57M1838 1460v49M1848 1394v201M1858 1444v76M1868 1450v57M1878 1429v75M1888 1465v39M1898 1469v90M1908 1455v48M1918 1454v60M1928 1452v134M1938 1423v109M1948 1447v73M1958 1453v138M1968 1412v123M1978 1412v169M1988 1333v312M1998 1390v239M2008 1395v194M2018 1425v172M2028 1378v151M2038 1448v131M2048 1451v66M2058 1441v147M2068 1397v208M2078 1458v60M2088 1412v156M2098 1456v58M2108 1437v155M2118 1442v85M2128 1443v124M2138 1426v143M2148 1419v150M2158 1444v93M2168 1442v76M2178 1447v58M2188 1443v67M2198 1447v118M2208 1449v60M2218 1419v95M2228 1429v147M2238 1417v121M2248 1393v128M2258 1425v115M2268 1438v158M2278 1385v139M2288 1418v134M2298 1437v102M2308 1436v79M2318 1455v59M2328 1412v122M2338 1461v80M2348 1449v57M2358 1414v118M2368 1407v101M2378 1422v131M2388 1430v84M2398 1461v67M2408 1441v129M2418 1451v79M2428 1435v159M2438 1446v72M2448 1455v97M2458 1444v113M2468 1450v69M2478 1447v87M2488 1413v104M2498 1447v71M2508 1451v70M2518 1434v93M2528 1460v84M2538 1460v54M2548 1456v101M2558 1443v116M2568 1385v205M2578 1448v96M2588 1446v89M2598 1433v96M2608 1418v98M2618 1453v70M2628 1470v48M2638 1453v72M2648 1463v40M2658 1432v81M2668 1424v112M2678 1452v131M2688 1420v113M2698 1439v94M2708 1406v103M2718 1456v120M2728 1428v97M2738 1427v136M2748 1445v120M2758 1364v192M2768 1401v115M2778 1405v172M2788 1452v87M2798 1400v134M2808 1445v82M2818 1450v72M2828 1437v84M2838 1435v71M2848 1461v115M2858 1439v120M2868 1423v96M2878 1443v157M2888 1427v89M2898 1460v143M2908 1427v89M2918 1439v144M2928 1429v105M2938 1435v104M2948 1377v190M2958 1410v108M2968 1449v128M2978 1407v212M2988 1340v181M2998 1433v124M3008 1352v328M3018 1289v274M3028 1446v111M3038 1458v138M3048 1403v113M3058 1466v38M3068 1429v89M3078 1384v136M3088 1447v124M3098 1352v228M3108 1382v166M3118 1367v149M3128 1434v84M3138 1392v128M3148 1384v152M3158 1364v157M3168 1379v208M3178 1356v207M3188 1355v222M3198 1408v189M3208 1442v132M3218 1441v150M3228 1460v111M3238 1404v163M3248 1463v109M3258 1384v141M3268 1463v110M3278 1458v101M3288 1467v83M3298 1425v114M3308 1420v123M3318 1426v148M3328 1406v132M3338 1378v139M3348 1385v134M3358 1416v101M3368 1433v114M3378 1424v133M3388 1417v145M3398 1439v175M3408 1436v77M3418 1446v135M3428 1437v158M3438 1340v241M3448 1439v181M3458 1360v209M3468 1451v56M3478 1386v128M3488 1458v81M3498 1407v133M3508 1421v155M3518 1410v105M3528 1410v118M3538 1458v93M3548 1404v127M3558 1457v54M3568 1451v118M3578 1453v117M3588 1415v101M3598 1431v103M3608 1406v121M3618 1382v214M3628 1451v117M3638 1466v53M3648 1437v78M3658 1421v96M3668 1444v66M3678 1433v103M3688 1422v117M3698 1430v136M3708 1429v89M3718 1441v84M3728 1373v167M3738 1422v129M3748 1422v98M3758 1381v144M3768 1436v83M3778 1457v76M3788 1453v64M3798 1455v106M3808 1445v72M3818 1418v103M3828 1415v101M3838 1417v163M3848 1371v184M3858 1400v123M3868 1444v158M3878 1403v125M3888 1463v49M3898 1451v90M3908 1453v63M3918 1460v76M3928 1448v96M3938 1463v45M3948 1458v99M3958 1397v124M3968 1288v329M3978 1356v208M3988 1405v279M3998 1397v180M4008 1428v147M4018 1434v127M4028 1344v253M4038 1453v77M4048 1453v69M4058 1432v76M4068 1426v84M4078 1431v145M4088 1440v134M4098 1441v104M4108 1434v76M4118 1430v79M4128 1455v127M4138 1405v147M4148 1398v116M4158 1447v76M4168 1415v99M4178 1446v75M4188 1379v218M4198 1454v132M4208 1446v108M4218 1400v161M4228 1367v151M4238 1446v135M4248 1401v124M4258 1400v115M4268 1392v170M4278 1455v100M4288 1452v93M4298 1438v165M4308 1373v147M4318 1456v112M4328 1414v147M4338 1422v120M4348 1429v107M4358 1427v113M4368 1428v84M4378 1469v39M4388 1428v93M4398 1440v72M4408 1446v70M4418 1440v71M4428 1439v116M4438 1440v75M4448 1410v119M4458 1452v81M4468 1446v113M4478 1452v58M4488 1404v110M4498 1413v144M4508 1429v111M4518 1459v59M4528 1444v125M4538 1460v120M4548 1399v119M4558 1396v121M4568 1374v185M4578 1455v100M4588 1454v159M4598 1455v97M4608 1453v100M4618 1458v53M4628 1363v163M4638 1417v173M4648 1409v218M4658 1450v88M4668 1343v195M4678 1398v157M4688 1452v65M4698 1462v97M4708 1378v134M4718 1417v211M4728 1319v266M4738 1446v113M4748 1443v158M4758 1441v71M4768 1441v122M4778 1449v77M4788 1396v131M4798 1455v49M4808 1451v58M4818 1445v63M4828 1435v104M4838 1434v91M4848 1332v188M4858 1450v71M4868 1441v96M4878 1448v129M4888 1457v99M4898 1443v141M4908 1431v87M4918 1398v151M4928 1464v44M4938 1378v134M4948 1362v220M4958 1414v105M4968 1431v100M4978 1437v138M4988 1459v65M4998 1463v51M5008 1459v44M5018 1452v44M5028 1468v30M5038 1468v39M5048 1444v57M5058 1433v93M5068 1444v68M5078 1457v66M5088 1467v33M5098 1431v109M5108 1465v54M5118 1470v66M5128 1462v34M5138 1463v42M5148 1458v53M5158 1447v64M5168 1464v61M5178 1474v24M5188 1451v48M5198 1446v78M5208 1462v39M5218 1458v42M5228 1465v37M5238 1450v53M5248 1467v68M5258 1472v26M5268 1444v66M5278 1454v71M5288 1437v71M5298 1429v114M5308 1453v64M5318 1467v39M5328 1472v38M5338 1466v46M5348 1449v47M5358 1477v15M5368 1461v32M5378 1475v38M5388 1462v46M5398 1459v73M5408 1467v42M5418 1476v36M5428 1474v40M5438 1461v52M5448 1467v48M5458 1469v54M5468 1461v49M5478 1463v37M5488 1459v71M5498 1456v44M5508 1453v49M5518 1446v71M5528 1460v38M5538 1476v38M5548 1475v24M5558 1456v61M5568 1450v67M5578 1453v60M5588 1442v79M5598 1432v79M5608 1438v59M5618 1462v57M5628 1475v25M5638 1473v23M5648 1473v29M5658 1458v61M5668 1468v76M5678 1466v35M5688 1437v76M5698 1473v31M5708 1461v42M5718 1459v69M5728 1446v77M5738 1472v40M5748 1456v44M5758 1449v65M5768 1455v80M5778 1460v66M5788 1472v50M5798 1467v57M5808 1460v46M5818 1476v38M5828 1477v16M5838 1475v44M5848 1437v95M5858 1466v35M5868 1466v66M5878 1460v41M5888 1472v44M5898 1471v47M5908 1459v47M5918 1455v201M5928 1301v242M5938 1412v284M5948 1327v329M5958 1385v447M5968 1358v249M5978 1369v417M5988 1354v260M5998 1330v323M6008 1446v142M6018 1446v144M6028 1458v97M6038 1415v126M6048 1445v68M6058 1424v96M6068 1454v73M6078 1438v124M6088 1426v89M6098 1429v84M6108 1391v163M6118 1351v284M6128 1348v176M6138 1345v183M6148 1436v161M6158 1365v170M6168 1417v132M6178 1264v327M6188 1280v367M6198 1285v312M6208 1284v323M6218 1332v255M6228 1216v460M6238 1386v273M6248 1131v467M6258 1363v244M6268 1387v204M6278 1388v184M6288 1399v268M6298 1396v198M6308 1398v156M6318 1348v226M6328 1364v278M6338 1423v162M6348 1438v101M6358 1381v150M6368 1366v179M6378 1404v143M6388 1338v188M6398 1429v194M6408 1409v183M6418 1346v229M6428 1380v155M6438 1443v180M6448 1342v180" fill="none" stroke="#0000ff" stroke-width="5" stroke-opacity="0.8"/>
<path d="M442 1460v60M452 1435v89M462 1468v48M472 1462v35M482 1474v28M492 1467v50M502 1449v51M512 1474v24M522 1462v32M532 1457v47M542 1471v32M552 1459v48M562 1445v54M572 1439v85M582 1471v41M592 1461v41M602 1448v102M612 1464v63M622 1465v81M632 1422v98M642 1367v198M652 1456v60M662 1436v123M672 1407v161M682 1458v132M692 1454v104M702 1441v137M712 1421v110M722 1437v97M732 1467v48M742 1464v67M752 1445v98M762 1442v83M772 1469v34M782 1463v61M792 1434v71M802 1434v101M812 1457v77M822 1442v56M832 1470v53M842 1470v65M852 1448v55M862 1463v41M872 1458v77M882 1438v63M892 1428v119M902 1426v78M912 1461v63M922 1428v86M932 1464v60M942 1435v103M952 1467v61M962 1456v44M972 1422v81M982 1425v127M992 1465v70M1002 1431v92M1012 1443v95M1022 1464v43M1032 1424v111M1042 1468v34M1052 1458v51M1062 1470v29M1072 1465v55M1082 1437v77M1092 1456v43M1102 1445v92M1112 1463v81M1122 1439v67M1132 1430v97M1142 1454v55M1152 1464v35M1162 1440v65M1172 1433v76M1182 1458v61M1192 1411v151M1202 1435v96M1212 1425v83M1222 1422v139M1232 1451v70M1242 1438v154M1252 1446v120M1262 1430v125M1272 1381v127M1282 1383v222M1292 1448v145M1302 1418v109M1312 1446v82M1322 1471v74M1332 1473v60M1342 1463v33M1352 1474v44M1362 1458v46M1372 1445v59M1382 1451v115M1392 1453v55M1402 1410v121M1412 1467v80M1422 1461v63M1432 1448v63M1442 1464v47M1452 1463v97M1462 1461v46M1472 1427v139M1482 1461v94M1492 1460v49M1502 1440v77M1512 1448v110M1522 1443v86M1532 1467v49M1542 1469v48M1552 1430v90M1562 1465v71M1572 1466v43M1582 1435v68M1592 1451v45M1602 1458v58M1612 1470v60M1622 1458v65M1632 1419v98M1642 1432v87M1652 1426v116M1662 1458v94M1672 1440v83M1682 1362v231M1692 1336v189M1702 1427v109M1712 1398v162M1722 1451v110M1732 1392v136M1742 1347v273M1752 1392v139M1762 1445v168M1772 1413v113M1782 1422v207M1792 1445v71M1802 1411v137M1812 1396v113M1822 1439v63M1832 1450v78M1842 1422v92M1852 1432v133M1862 1444v74M1872 1455v46M1882 1410v127M1892 1400v170M1902 1414v167M1912 1426v86M1922 1450v95M1932 1355v218M1942 1432v138M1952 1454v87M1962 1387v125M1972 1454v78M1982 1441v76M1992 1405v103M2002 1392v124M2012 1394v137M2022 1448v165M2032 1454v113M2042 1391v172M2052 1455v72M2062 1463v41M2072 1440v68M2082 1452v68M2092 1457v57M2102 1437v83M2112 1417v168M2122 1386v185M2132 1428v85M2142 1461v74M2152 1455v66M2162 1392v174M2172 1422v114M2182 1427v86M2192 1457v103M2202 1426v79M2212 1432v73M2222 1429v78M2232 1464v59M2242 1434v86M2252 1453v84M2262 1443v114M2272 1419v103M2282 1424v93M2292 1412v109M2302 1376v167M2312 1412v112M2322 1462v72M2332 1443v114M2342 1427v81M2352 1469v34M2362 1451v53M2372 1460v52M2382 1461v44M2392 1416v137M2402 1415v109M2412 1422v91M2422 1407v158M2432 1446v67M2442 1424v143M2452 1443v124M2462 1368v151M2472 1431v87M2482 1401v115M2492 1405v116M2502 1407v107M2512 1432v99M2522 1445v79M2532 1399v205M2542 1439v79M2552 1448v65M2562 1452v51M2572 1460v50M2582 1468v34M2592 1457v92M2602 1425v92M2612 1442v149M2622 1445v68M2632 1450v101M2642 1391v125M2652 1435v101M2662 1429v110M2672 1450v87M2682 1465v73M2692 1431v91M2702 1451v80M2712 1442v115M2722 1463v90M2732 1461v44M2742 1440v70M2752 1448v119M2762 1394v170M2772 1454v98M2782 1382v137M2792 1451v108M2802 1375v150M2812 1464v84M2822 1463v37M2832 1433v107M2842 1426v119M2852 1408v144M2862 1391v197M2872 1390v134M2882 1359v222M2892 1443v175M2902 1415v161M2912 1377v181M2922 1430v165M2932 1429v137M2942 1439v106M2952 1435v168M2962 1388v185M2972 1458v48M2982 1445v115M2992 1457v156M3002 1394v123M3012 1386v138M3022 1460v58M3032 1459v83M3042 1451v66M3052 1454v156M3062 1414v123M3072 1459v70M3082 1339v218M3092 1331v196M3102 1299v233M3112 1439v190M3122 1349v212M3132 1355v189M3142 1411v122M3152 1376v177M3162 1453v110M3172 1462v82M3182 1462v68M3192 1436v100M3202 1391v197M3212 1454v72M3222 1451v96M3232 1417v96M3242 1419v163M3252 1365v148M3262 1415v201M3272 1452v124M3282 1443v98M3292 1361v192M3302 1444v199M3312 1317v231M3322 1338v261M3332 1425v95M3342 1384v221M3352 1450v70M3362 1382v193M3372 1448v180M3382 1410v193M3392 1449v174M3402 1377v277M3412 1416v135M3422 1396v133M3432 1463v46M3442 1436v171M3452 1454v141M3462 1446v67M3472 1438v74M3482 1449v101M3492 1460v47M3502 1427v89M3512 1415v92M3522 1461v101M3532 1446v129M3542 1450v60M3552 1457v63M3562 1452v55M3572 1462v40M3582 1420v83M3592 1414v127M3602 1373v184M3612 1447v92M3622 1451v75M3632 1450v114M3642 1463v56M3652 1469v36M3662 1440v104M3672 1412v123M3682 1407v146M3692 1438v121M3702 1426v95M3712 1437v64M3722 1469v53M3732 1455v56M3742 1412v106M3752 1400v114M3762 1386v187M3772 1432v91M3782 1385v151M3792 1459v74M3802 1419v87M3812 1461v78M3822 1420v84M3832 1437v75M3842 1463v65M3852 1445v101M3862 1435v84M3872 1406v124M3882 1392v208M3892 1396v127M3902 1410v106M3912 1453v64M3922 1412v110M3932 1452v92M3942 1451v175M3952 1355v191M3962 1440v205M3972 1373v164M3982 1423v205M3992 1392v248M4002 1343v259M4012 1392v168M4022 1453v173M4032 1348v183M4042 1442v119M4052 1367v162M4062 1442v145M4072 1409v103M4082 1453v77M4092 1436v84M4102 1457v51M4112 1404v128M4122 1430v108M4132 1443v78M4142 1445v61M4152 1429v80M4162 1446v64M4172 1429v81M4182 1463v78M4192 1459v79M4202 1453v89M4212 1444v154M4222 1383v207M4232 1422v93M4242 1437v108M4252 1416v99M4262 1445v70M4272 1449v150M4282 1401v140M4292 1391v154M4302 1390v174M4312 1465v47M4322 1445v61M4332 1440v70M4342 1462v86M4352 1403v112M4362 1439v140M4372 1439v91M4382 1428v94M4392 1412v174M4402 1442v113M4412 1371v166M4422 1457v58M4432 1431v149M4442 1382v144M4452 1456v79M4462 1458v114M4472 1376v150M4482 1392v173M4492 1396v216M4502 1452v64M4512 1367v208M4522 1454v67M4532 1458v123M4542 1386v212M4552 1451v113M4562 1424v170M4572 1446v167M4582 1453v76M4592 1402v195M4602 1356v173M4612 1389v127M4622 1443v92M4632 1432v108M4642 1379v261M4652 1433v222M4662 1408v190M4672 1421v152M4682 1451v69M4692 1391v170M4702 1453v76M4712 1376v205M4722 1347v174M4732 1378v179M4742 1444v222M4752 1305v294M4762 1391v232M4772 1413v119M4782 1463v48M4792 1434v163M4802 1361v159M4812 1414v251M4822 1319v214M4832 1437v195M4842 1445v73M4852 1425v86M4862 1364v150M4872 1449v76M4882 1399v144M4892 1419v147M4902 1385v210M4912 1429v145M4922 1416v102M4932 1432v84M4942 1427v120M4952 1416v124M4962 1440v107M4972 1426v115M4982 1443v77M4992 1464v37M5002 1472v51M5012 1440v57M5022 1426v91M5032 1469v50M5042 1458v66M5052 1453v58M5062 1452v54M5072 1439v74M5082 1434v99M5092 1449v72M5102 1470v67M5112 1443v58M5122 1455v43M5132 1454v41M5142 1477v20M5152 1465v31M5162 1475v27M5172 1476v22M5182 1477v16M5192 1476v36M5202 1470v45M5212 1467v32M5222 1458v35M5232 1458v50M5242 1474v24M5252 1460v46M5262 1462v58M5272 1467v41M5282 1424v92M5292 1443v54M5302 1475v24M5312 1455v66M5322 1443v60M5332 1467v59M5342 1458v56M5352 1458v53M5362 1437v69M5372 1462v40M5382 1472v28M5392 1474v42M5402 1452v46M5412 1456v44M5422 1467v37M5432 1437v70M5442 1433v67M5452 1470v35M5462 1442v72M5472 1473v39M5482 1472v28M5492 1463v30M5502 1478v16M5512 1463v49M5522 1470v29M5532 1471v27M5542 1468v31M5552 1468v36M5562 1455v66M5572 1469v36M5582 1446v73M5592 1448v59M5602 1444v65M5612 1465v35M5622 1475v26M5632 1458v47M5642 1444v67M5652 1470v46M5662 1466v42M5672 1468v37M5682 1454v59M5692 1469v72M5702 1462v52M5712 1476v24M5722 1454v49M5732 1466v35M5742 1466v61M5752 1460v69M5762 1475v43M5772 1469v32M5782 1452v72M5792 1472v39M5802 1468v41M5812 1452v74M5822 1448v82M5832 1473v57M5842 1456v61M5852 1449v63M5862 1428v113M5872 1470v47M5882 1467v38M5892 1446v70M5902 1427v82M5912 1369v242M5922 1386v131M5932 1406v116M5942 1411v211M5952 1343v283M5962 1344v203M5972 1370v205M5982 1391v213M5992 1262v295M6002 1390v153M6012 1381v231M6022 1439v151M6032 1444v92M6042 1412v120M6052 1424v108M6062 1439v134M6072 1405v147M6082 1456v91M6092 1401v119M6102 1409v178M6112 1382v196M6122 1381v162M6132 1359v191M6142 1364v193M6152 1416v207M6162 1388v156M6172 1383v242M6182 1320v456M6192 1351v474M6202 1225v370M6212 1357v196M6222 1327v341M6232 1245v476M6242 1209v435M6252 1301v484M6262 1384v245M6272 1272v482M6282 1303v413M6292 1175v525M6302 1369v360M6312 1314v339M6322 1326v217M6332 1323v207M6342 1320v214M6352 1420v171M6362 1400v187M6372 1397v141M6382 1426v166M6392 1455v142M6402 1368v195M6412 1355v200M6422 1361v152M6432 1454v94M6442 1407v164M6452 1430v138" fill="none" stroke="#0000ff" stroke-width="5" stroke-opacity="0.8"/>
<path d="M440 1451v49M450 1461v39M460 1469v41M470 1470v31M480 1469v37M490 1469v31M500 1442v59M510 1457v58M520 1472v23M530 1475v21M540 1449v48M550 1466v34M560 1464v40M570 1459v44M580 1433v74M590 1435v91M600 1423v96M610 1419v92M620 1437v158M630 1441v64M640 1471v34M650 1468v71M660 1470v30M670 1466v38M680 1382v128M690 1459v75M700 1459v52M710 1464v45M720 1418v87M730 1413v156M740 1434v105M750 1422v160M760 1463v81M770 1463v93M780 1465v52M790 1464v57M800 1462v43M810 1459v94M820 1467v80M830 1466v35M840 1465v63M850 1459v48M860 1460v45M870 1456v68M880 1420v85M890 1441v68M900 1468v37M910 1471v32M920 1473v53M930 1471v25M940 1465v36M950 1463v57M960 1430v75M970 1441v66M980 1443v102M990 1455v51M1000 1460v45M1010 1462v53M1020 1465v41M1030 1465v41M1040 1464v73M1050 1464v58M1060 1462v46M1070 1459v40M1080 1473v32M1090 1464v34M1100 1472v33M1110 1467v33M1120 1468v39M1130 1436v73M1140 1462v44M1150 1400v106M1160 1466v55M1170 1457v43M1180 1468v42M1190 1471v30M1200 1467v36M1210 1447v54M1220 1458v51M1230 1456v50M1240 1385v136M1250 1445v85M1260 1445v66M1270 1440v159M1280 1412v162M1290 1428v121M1300 1406v163M1310 1444v71M1320 1379v132M1330 1428v130M1340 1466v33M1350 1472v28M1360 1471v35M1370 1458v73M1380 1470v43M1390 1457v57M1400 1465v42M1410 1464v45M1420 1465v41M1430 1456v52M1440 1435v72M1450 1464v62M1460 1452v54M1470 1439v65M1480 1469v38M1490 1456v47M1500 1471v36M1510 1467v87M1520 1407v102M1530 1464v55M1540 1467v38M1550 1461v42M1560 1433v95M1570 1470v31M1580 1461v36M1590 1475v20M1600 1445v50M1610 1474v21M1620 1448v48M1630 1461v81M1640 1462v71M1650 1461v103M1660 1461v103M1670 1432v77M1680 1386v189M1690 1462v53M1700 1396v122M1710 1388v212M1720 1450v69M1730 1438v171M1740 1451v84M1750 1455v71M1760 1443v73M1770 1386v124M1780 1444v64M1790 1467v37M1800 1463v87M1810 1364v204M1820 1466v39M1830 1462v116M1840 1389v168M1850 1460v56M1860 1444v84M1870 1469v53M1880 1464v88M1890 1406v102M1900 1430v75M1910 1461v51M1920 1439v121M1930 1407v117M1940 1456v81M1950 1418v86M1960 1443v122M1970 1417v103M1980 1462v109M1990 1455v171M2000 1431v192M2010 1454v159M2020 1454v83M2030 1445v112M2040 1385v131M2050 1454v63M2060 1446v85M2070 1461v48M2080 1457v51M2090 1437v68M2100 1410v137M2110 1424v101M2120 1453v67M2130 1372v145M2140 1395v123M2150 1454v62M2160 1435v75M2170 1451v56M2180 1410v97M2190 1427v118M2200 1420v91M2210 1460v49M2220 1416v97M2230 1467v63M2240 1427v121M2250 1456v66M2260 1415v158M2270 1450v69M2280 1439v76M2290 1432v84M2300 1363v161M2310 1451v95M2320 1463v44M2330 1461v48M2340 1418v105M2350 1382v138M2360 1460v52M2370 1420v88M2380 1411v153M2390 1430v99M2400 1454v62M2410 1454v77M2420 1403v130M2430 1458v69M2440 1406v111M2450 1409v190M2460 1454v97M2470 1453v163M2480 1377v155M2490 1446v150M2500 1392v124M2510 1397v119M2520 1455v89M2530 1464v43M2540 1469v59M2550 1459v43M2560 1467v36M2570 1432v92M2580 1460v73M2590 1435v72M2600 1450v99M2610 1463v74M2620 1452v65M2630 1453v63M2640 1441v75M2650 1443v74M2660 1430v133M2670 1429v77M2680 1434v83M2690 1359v190M2700 1426v90M2710 1429v173M2720 1455v63M2730 1420v157M2740 1466v43M2750 1422v81M2760 1464v74M2770 1459v55M2780 1409v107M2790 1453v67M2800 1417v159M2810 1400v140M2820 1454v81M2830 1454v124M2840 1428v89M2850 1454v62M2860 1403v153M2870 1449v124M2880 1392v263M2890 1449v67M2900 1461v68M2910 1381v125M2920 1391v128M2930 1463v66M2940 1399v109M2950 1376v251M2960 1409v104M2970 1453v80M2980 1341v278M2990 1457v173M3000 1455v60M3010 1451v220M3020 1408v113M3030 1299v221M3040 1415v241M3050 1457v53M3060 1441v113M3070 1460v66M3080 1408v104M3090 1403v108M3100 1463v47M3110 1460v101M3120 1449v167M3130 1445v179M3140 1446v66M3150 1458v49M3160 1462v51M3170 1345v210M3180 1451v65M3190 1458v54M3200 1450v59M3210 1398v114M3220 1323v206M3230 1449v72M3240 1406v143M3250 1434v87M3260 1440v101M3270 1465v44M3280 1435v76M3290 1428v89M3300 1463v45M3310 1435v74M3320 1436v85M3330 1448v73M3340 1451v91M3350 1376v167M3360 1447v68M3370 1452v92M3380 1390v141M3390 1398v119M3400 1392v132M3410 1447v97M3420 1445v74M3430 1456v79M3440 1458v63M3450 1439v69M3460 1417v92M3470 1445v115M3480 1366v153M3490 1453v61M3500 1455v105M3510 1445v73M3520 1454v62M3530 1427v88M3540 1443v132M3550 1457v61M3560 1452v150M3570 1423v168M3580 1457v104M3590 1451v133M3600 1458v62M3610 1465v93M3620 1464v49M3630 1433v68M3640 1466v47M3650 1464v62M3660 1461v48M3670 1387v144M3680 1455v48M3690 1433v106M3700 1453v61M3710 1468v61M3720 1470v32M3730 1436v64M3740 1469v43M3750 1453v75M3760 1466v44M3770 1468v36M3780 1449v121M3790 1384v132M3800 1400v116M3810 1425v121M3820 1433v75M3830 1446v80M3840 1446v74M3850 1367v149M3860 1366v229M3870 1455v107M3880 1453v87M3890 1407v176M3900 1453v112M3910 1420v96M3920 1454v71M3930 1433v124M3940 1459v56M3950 1447v79M3960 1452v62M3970 1451v227M3980 1438v84M3990 1449v85M4000 1418v199M4010 1416v129M4020 1382v184M4030 1459v55M4040 1455v108M4050 1467v39M4060 1467v36M4070 1427v75M4080 1466v38M4090 1442v115M4100 1461v86M4110 1466v73M4120 1446v56M4130 1447v56M4140 1459v79M4150 1433v141M4160 1422v113M4170 1433v120M4180 1454v62M4190 1357v243M4200 1419v191M4210 1408v135M4220 1453v119M4230 1380v136M4240 1441v135M4250 1369v148M4260 1453v75M4270 1425v106M4280 1434v83M4290 1451v69M4300 1470v50M4310 1470v65M4320 1467v34M4330 1456v47M4340 1467v36M4350 1465v85M4360 1467v37M4370 1434v67M4380 1415v88M4390 1458v49M4400 1460v88M4410 1422v129M4420 1463v55M4430 1425v92M4440 1383v146M4450 1452v85M4460 1441v75M4470 1425v94M4480 1437v76M4490 1452v122M4500 1442v87M4510 1449v60M4520 1455v127M4530 1451v82M4540 1388v134M4550 1454v62M4560 1399v173M4570 1467v42M4580 1466v81M4590 1451v80M4600 1409v198M4610 1454v60M4620 1443v138M4630 1396v165M4640 1460v102M4650 1451v71M4660 1403v163M4670 1400v170M4680 1444v83M4690 1399v122M4700 1433v91M4710 1449v182M4720 1432v92M4730 1407v114M4740 1449v72M4750 1320v208M4760 1383v253M4770 1445v77M4780 1443v80M4790 1414v158M4800 1431v147M4810 1374v143M4820 1447v158M4830 1407v105M4840 1457v59M4850 1431v108M4860 1443v92M4870 1457v54M4880 1460v51M4890 1459v82M4900 1439v78M4910 1455v72M4920 1423v91M4930 1405v105M4940 1462v43M4950 1415v118M4960 1466v37M4970 1431v103M4980 1453v48M4990 1472v25M5000 1448v49M5010 1447v76M5020 1470v74M5030 1448v69M5040 1451v73M5050 1472v58M5060 1453v52M5070 1478v33M5080 1472v29M5090 1458v41M5100 1474v20M5110 1475v18M5120 1451v52M5130 1469v27M5140 1445v51M5150 1473v23M5160 1473v24M5170 1463v35M5180 1464v35M5190 1455v47M5200 1471v36M5210 1444v53M5220 1475v20M5230 1477v16M5240 1458v37M5250 1473v34M5260 1446v63M5270 1470v27M5280 1446v52M5290 1470v59M5300 1464v40M5310 1466v32M5320 1473v25M5330 1471v67M5340 1460v60M5350 1469v31M5360 1451v49M5370 1470v30M5380 1470v33M5390 1437v61M5400 1466v49M5410 1467v30M5420 1468v51M5430 1466v30M5440 1460v36M5450 1455v43M5460 1462v35M5470 1475v19M5480 1477v30M5490 1474v25M5500 1469v73M5510 1467v36M5520 1446v50M5530 1477v16M5540 1466v29M5550 1460v35M5560 1445v78M5570 1466v30M5580 1468v32M5590 1444v64M5600 1470v46M5610 1461v35M5620 1473v26M5630 1470v59M5640 1470v56M5650 1442v83M5660 1469v42M5670 1454v94M5680 1463v38M5690 1472v44M5700 1475v20M5710 1474v20M5720 1474v23M5730 1453v50M5740 1470v55M5750 1469v31M5760 1468v41M5770 1471v32M5780 1426v74M5790 1471v35M5800 1468v59M5810 1469v42M5820 1467v30M5830 1458v42M5840 1464v47M5850 1456v73M5860 1471v62M5870 1470v31M5880 1470v58M5890 1468v37M5900 1461v70M5910 1433v101M5920 1442v78M5930 1429v147M5940 1305v319M5950 1384v226M5960 1253v294M5970 1416v301M5980 1175v528M5990 1323v382M6000 1213v362M6010 1419v129M6020 1377v156M6030 1456v73M6040 1427v79M6050 1422v98M6060 1398v129M6070 1453v115M6080 1431v94M6090 1462v66M6100 1455v70M6110 1441v158M6120 1437v94M6130 1428v111M6140 1413v146M6150 1263v291M6160 1359v227M6170 1419v128M6180 1426v141M6190 1410v220M6200 1293v331M6210 1328v511M6220 1373v227M6230 1367v238M6240 1224v520M6250 1361v290M6260 1382v396M6270 1251v340M6280 1340v276M6290 1268v418M6300 1151v451M6310 1405v160M6320 1430v153M6330 1334v186M6340 1412v109M6350 1383v202M6360 1443v179M6370 1420v88M6380 1464v75M6390 1454v53M6400 1462v74M6410 1456v119M6420 1453v149M6430 1448v73M6440 1459v76M6450 1462v71" fill="none" stroke="#0000ff" stroke-width="10" stroke-opacity="0.25"/>
<path d="M436 1254v231M571 1308v177M602 1308v177M692 1091v394M731 1193v292M746 887v714M883 1376v218M1220 975v619M1260 1369v116M1279 778v707M1305 1240v245M1641 1485v245M1677 757v728M1683 1281v340M1690 921v748M1757 1376v333M1791 1308v381M1822 1050v435M1835 717v972M1853 737v952M1897 812v809M1925 893v728M1972 1349v367M2073 1485v211M2099 1036v449M2192 1485v170M2319 1485v279M2383 1485v490M2391 1322v163M2412 1213v272M2645 1485v184M2665 1485v313M2689 1485v252M2872 1213v435M2952 1227v258M2986 1295v190M3030 1281v408M3045 1281v408M3056 1485v313M3149 1050v687M3206 1485v340M3270 1322v163M3356 1193v530M3379 1267v218M3469 1322v326M3431 1485v170M3498 1485v224M3522 1206v279M3594 1281v204M3731 1485v340M3749 1322v347M3960 1267v340M3985 1281v340M4015 975v802M4031 1485v354M4134 1220v999M4186 1097v388M4253 1485v204M4344 1485v170M4434 1322v163M4481 1308v456M4550 1363v122M4685 1077v408M4700 1485v401M4734 839v646M4744 1485v292M4796 1267v510M4848 1349v136M4887 1349v340M4965 1383v367M5378 1390v95M5560 1403v82M5960 1159v639M5986 1009v755M6004 1179v564M6128 1308v333M6213 1145v707M6240 1145v632M6288 1077v762M6309 1261v380M6446 1335v286" fill="none" stroke="#0000ff" stroke-width="9" stroke-opacity="0.42"/></g>
<text x="39.0" y="50.4" text-anchor="end" font-weight="normal" font-size="12.4" >1.5</text>
<text x="39.0" y="84.4" text-anchor="end" font-weight="normal" font-size="12.4" >1</text>
<text x="39.0" y="118.4" text-anchor="end" font-weight="normal" font-size="12.4" >0.5</text>
<text x="39.0" y="152.4" text-anchor="end" font-weight="normal" font-size="12.4" >0</text>
<text x="39.0" y="186.4" text-anchor="end" font-weight="normal" font-size="12.4" >-0.5</text>
<text x="39.0" y="220.4" text-anchor="end" font-weight="normal" font-size="12.4" >-1</text>
<text x="39.0" y="254.4" text-anchor="end" font-weight="normal" font-size="12.4" >-1.5</text>
<text x="43.7" y="265.1" text-anchor="middle" font-weight="normal" font-size="12.4" >00:00</text>
<text x="119.0" y="265.1" text-anchor="middle" font-weight="normal" font-size="12.4" >03:00</text>
<text x="194.2" y="265.1" text-anchor="middle" font-weight="normal" font-size="12.4" >06:00</text>
<text x="269.4" y="265.1" text-anchor="middle" font-weight="normal" font-size="12.4" >09:00</text>
<text x="344.7" y="265.1" text-anchor="middle" font-weight="normal" font-size="12.4" >12:00</text>
<text x="419.9" y="265.1" text-anchor="middle" font-weight="normal" font-size="12.4" >15:00</text>
<text x="495.2" y="265.1" text-anchor="middle" font-weight="normal" font-size="12.4" >18:00</text>
<text x="570.5" y="265.1" text-anchor="middle" font-weight="normal" font-size="12.4" >21:00</text>
<text x="645.7" y="265.1" text-anchor="middle" font-weight="normal" font-size="12.4" >00:00</text>
<text transform="translate(9.0,148.5) rotate(-90)" text-anchor="middle" font-weight="bold" font-size="12.4">X (nT)</text>
<rect x="836.5" y="46.0" width="603.0" height="204.5" fill="#00008f"/>
<g clip-path="url(#cp0)"><g fill="none" stroke-width="1" filter="url(#bl)" shape-rendering="crispEdges">
<path stroke="#0000a2" d="M847.5 237v13M848.5 223v18M849.5 217v12M850.5 216v10M851.5 217v12M852.5 223v18M853.5 208v19M854.5 193v10M855.5 187v6M856.5 186v4M857.5 187v5M858.5 190v10M859.5 185v13M860.5 183v9M861.5 185v11M862.5 195v17M863.5 214v19M864.5 228v22M865.5 166v31M866.5 66v58M867.5 66v58M868.5 163v22M869.5 218v24M870.5 241v9M871.5 222v26M872.5 212v19M873.5 209v17M874.5 212v19M875.5 222v26M876.5 241v9M877.5 244v6M878.5 192v42M879.5 176v11M880.5 174v5M881.5 175v7M882.5 181v10M883.5 194v11M884.5 212v18M885.5 235v15M898.5 241v9M899.5 234v13M900.5 231v10M901.5 231v10M902.5 234v13M903.5 241v9M907.5 245v5M908.5 235v9M909.5 231v5M910.5 230v3M911.5 229v3M912.5 230v3M913.5 231v5M914.5 224v18M915.5 189v25M916.5 151v28M917.5 136v13M918.5 136v13M919.5 151v28M920.5 188v21M921.5 217v15M922.5 230v5M923.5 234v7M924.5 242v8M928.5 248v2M929.5 235v15M930.5 229v14M931.5 227v12M932.5 228v13M933.5 233v17M934.5 245v5M957.5 205v39M958.5 60v64M960.5 137v20M961.5 191v24M962.5 239v11M969.5 114v14M970.5 46v61M971.5 240v10M972.5 191v37M973.5 129v30M974.5 46v30M975.5 46v16M976.5 102v20M977.5 147v20M978.5 173v17M979.5 160v10M980.5 158v6M981.5 160v9M982.5 173v14M983.5 61v20M983.5 197v25M984.5 46v14M984.5 230v20M987.5 46v27M988.5 46v27M1009.5 169v6M1010.5 160v25M1011.5 158v9M1011.5 176v10M1012.5 161v23M1019.5 153v26M1020.5 130v9M1020.5 189v9M1021.5 126v4M1021.5 201v30M1022.5 128v8M1022.5 228v19M1023.5 146v18M1024.5 178v11M1025.5 189v11M1026.5 177v70M1027.5 174v15M1027.5 204v16M1027.5 232v15M1028.5 176v18M1028.5 199v20M1029.5 186v26M1066.5 242v8M1067.5 224v18M1068.5 212v14M1069.5 208v9M1070.5 207v8M1071.5 209v12M1072.5 218v17M1073.5 203v30M1074.5 142v21M1075.5 101v26M1076.5 129v22M1077.5 190v30M1078.5 150v29M1078.5 247v3M1079.5 128v11M1079.5 180v11M1080.5 125v7M1080.5 185v7M1081.5 130v14M1081.5 177v13M1082.5 235v15M1083.5 196v30M1084.5 167v17M1085.5 151v9M1086.5 149v5M1087.5 151v9M1088.5 165v18M1089.5 140v19M1090.5 102v18M1091.5 89v8M1092.5 93v24M1093.5 149v31M1094.5 200v23M1095.5 232v18M1113.5 246v4M1114.5 223v27M1115.5 210v23M1116.5 205v19M1117.5 207v21M1118.5 217v27M1119.5 236v14M1122.5 237v13M1123.5 220v16M1124.5 210v12M1125.5 207v8M1126.5 192v13M1127.5 181v8M1128.5 179v5M1129.5 179v6M1130.5 179v13M1131.5 157v13M1132.5 151v5M1133.5 151v5M1134.5 157v13M1135.5 180v20M1136.5 196v11M1137.5 195v9M1138.5 198v12M1139.5 208v18M1140.5 227v21M1141.5 249v1M1143.5 243v7M1144.5 225v17M1145.5 212v14M1146.5 207v9M1147.5 206v7M1148.5 208v9M1149.5 214v14M1150.5 228v18M1151.5 247v3M1157.5 242v8M1158.5 226v14M1159.5 217v10M1160.5 214v6M1161.5 213v5M1162.5 214v7M1163.5 215v14M1164.5 190v25M1165.5 176v18M1166.5 174v15M1167.5 180v20M1168.5 200v24M1169.5 219v6M1170.5 219v6M1171.5 221v10M1172.5 228v14M1173.5 242v8M1180.5 241v9M1181.5 199v17M1182.5 114v35M1183.5 46v81M1184.5 164v38M1185.5 170v29M1186.5 115v29M1189.5 115v29M1190.5 170v24M1191.5 205v17M1192.5 228v8M1193.5 228v5M1194.5 228v5M1195.5 230v6M1196.5 234v10M1197.5 243v7M1198.5 232v18M1199.5 214v16M1200.5 203v11M1201.5 200v7M1202.5 200v7M1203.5 203v11M1204.5 208v14M1205.5 201v9M1206.5 199v7M1207.5 200v8M1208.5 205v13M1209.5 218v17M1210.5 237v13M1225.5 119v11M1225.5 135v25M1225.5 236v14M1226.5 112v7M1226.5 156v7M1226.5 193v37M1227.5 114v7M1227.5 153v27M1228.5 126v24M1229.5 137v9M1230.5 146v19M1231.5 154v19M1232.5 129v15M1233.5 121v9M1234.5 124v18M1235.5 170v48M1236.5 227v23M1237.5 222v28M1238.5 186v23M1239.5 162v12M1240.5 154v5M1241.5 153v4M1242.5 155v9M1243.5 170v15M1244.5 197v17M1245.5 192v8M1246.5 188v4M1247.5 188v3M1248.5 188v5M1249.5 193v9M1250.5 207v20M1251.5 236v14M1253.5 188v39M1254.5 46v77M1256.5 119v34M1259.5 62v20M1260.5 121v18M1261.5 163v16M1262.5 160v17M1263.5 149v4M1264.5 148v2M1265.5 148v2M1266.5 152v6M1267.5 174v18M1268.5 209v23M1269.5 203v27M1270.5 168v21M1271.5 140v14M1272.5 133v6M1273.5 134v8M1274.5 149v18M1275.5 183v20M1276.5 218v28M1279.5 135v13M1279.5 179v17M1280.5 127v6M1280.5 191v8M1281.5 126v5M1281.5 192v8M1282.5 130v11M1282.5 187v11M1283.5 148v42M1301.5 241v9M1302.5 231v18M1303.5 227v12M1304.5 225v10M1305.5 225v11M1306.5 227v14M1307.5 233v17M1308.5 244v6M1320.5 163v20M1321.5 156v11M1321.5 176v13M1322.5 157v31M1337.5 235v15M1338.5 221v27M1339.5 214v22M1340.5 213v19M1341.5 214v22M1342.5 221v27M1343.5 235v15M1350.5 232v18M1351.5 212v20M1352.5 200v14M1353.5 196v10M1354.5 197v11M1355.5 203v18M1356.5 220v21M1357.5 241v9M1372.5 238v12M1373.5 216v16M1374.5 194v14M1375.5 175v11M1376.5 149v13M1377.5 99v34M1381.5 68v12M1382.5 111v8M1383.5 139v12M1384.5 167v10M1385.5 193v12M1386.5 217v18M1387.5 237v13M1388.5 205v33M1389.5 192v10M1390.5 189v5M1391.5 188v4M1392.5 186v7M1393.5 163v10M1394.5 156v4M1395.5 155v3M1396.5 156v2M1397.5 159v7M1398.5 174v16M1399.5 204v22M1400.5 207v18M1401.5 176v16M1402.5 117v8M1403.5 113v3M1404.5 113v3M1405.5 115v5M1406.5 130v9M1407.5 151v11M1408.5 116v26M1409.5 91v6M1410.5 90v4M1411.5 96v9M1412.5 127v12M1413.5 156v11M1414.5 181v2M1415.5 182v1M1416.5 173v11M1417.5 152v8M1418.5 148v3M1419.5 148v2M1419.5 233v2M1419.5 239v11M1420.5 149v4M1420.5 233v2M1421.5 157v13M1421.5 231v3M1422.5 193v57M1423.5 178v29M1424.5 145v5M1425.5 142v2M1426.5 142v2M1427.5 145v5M1428.5 178v29M1429.5 227v23"/>
<path stroke="#0000c3" d="M848.5 241v9M849.5 229v12M850.5 226v10M851.5 229v12M852.5 241v9M853.5 227v16M854.5 203v8M855.5 193v5M856.5 190v4M857.5 192v4M858.5 200v7M859.5 198v12M860.5 192v9M861.5 196v11M862.5 212v10M863.5 233v12M865.5 197v21M866.5 124v17M867.5 124v17M868.5 185v14M869.5 242v8M871.5 248v2M872.5 231v18M873.5 226v16M874.5 231v18M875.5 248v2M878.5 234v16M879.5 187v11M880.5 179v6M881.5 182v5M882.5 191v6M883.5 205v11M884.5 230v11M899.5 247v3M900.5 241v9M901.5 241v9M902.5 247v3M908.5 244v6M909.5 236v4M910.5 233v3M911.5 232v3M912.5 233v3M913.5 236v4M914.5 242v7M915.5 214v16M916.5 179v14M917.5 149v14M918.5 149v14M919.5 179v12M920.5 209v12M921.5 232v3M922.5 235v4M923.5 241v6M930.5 243v7M931.5 239v11M932.5 241v9M957.5 244v6M958.5 46v14M958.5 124v26M959.5 46v62M960.5 157v13M961.5 215v15M969.5 46v68M972.5 228v22M973.5 159v22M974.5 76v34M975.5 62v25M976.5 122v11M977.5 167v13M978.5 190v16M979.5 170v8M980.5 164v6M981.5 169v8M982.5 187v11M983.5 46v15M983.5 222v16M1011.5 167v9M1020.5 139v7M1020.5 182v7M1021.5 130v5M1021.5 196v5M1022.5 136v6M1022.5 210v18M1023.5 164v10M1023.5 232v15M1024.5 189v5M1024.5 240v7M1025.5 200v5M1025.5 232v15M1027.5 189v15M1028.5 194v5M1067.5 242v8M1068.5 226v10M1069.5 217v8M1070.5 215v8M1071.5 221v10M1072.5 235v10M1073.5 233v17M1074.5 163v15M1075.5 127v13M1076.5 151v14M1077.5 220v19M1079.5 139v9M1079.5 169v11M1080.5 132v6M1080.5 177v8M1081.5 144v9M1081.5 163v14M1083.5 226v18M1084.5 184v11M1085.5 160v8M1086.5 154v5M1087.5 160v8M1088.5 183v11M1089.5 159v15M1090.5 120v10M1091.5 97v8M1092.5 117v15M1093.5 180v16M1094.5 223v12M1115.5 233v17M1116.5 224v18M1117.5 228v19M1118.5 244v6M1123.5 236v11M1124.5 222v9M1125.5 215v8M1126.5 205v10M1127.5 189v7M1128.5 184v5M1129.5 185v5M1130.5 192v8M1131.5 170v9M1132.5 156v7M1133.5 156v7M1134.5 170v9M1135.5 200v16M1136.5 207v9M1137.5 204v9M1138.5 210v11M1139.5 226v12M1140.5 248v2M1144.5 242v8M1145.5 226v9M1146.5 216v8M1147.5 213v7M1148.5 217v8M1149.5 228v10M1150.5 246v4M1158.5 240v10M1159.5 227v7M1160.5 220v6M1161.5 218v5M1162.5 221v6M1163.5 229v7M1164.5 215v15M1165.5 194v15M1166.5 189v14M1167.5 200v17M1168.5 224v10M1169.5 225v6M1170.5 225v6M1171.5 231v7M1172.5 242v8M1181.5 216v18M1182.5 149v48M1183.5 127v22M1184.5 202v10M1185.5 199v22M1186.5 144v14M1187.5 46v33M1188.5 46v33M1189.5 144v14M1190.5 194v10M1191.5 222v13M1192.5 236v6M1193.5 233v5M1194.5 233v5M1195.5 236v6M1196.5 244v6M1199.5 230v11M1200.5 214v9M1201.5 207v7M1202.5 207v7M1203.5 214v9M1204.5 222v9M1205.5 210v9M1206.5 206v6M1207.5 208v7M1208.5 218v8M1209.5 235v10M1225.5 130v5M1226.5 119v5M1226.5 145v11M1226.5 230v20M1227.5 121v7M1227.5 139v14M1227.5 180v15M1228.5 150v12M1229.5 146v9M1230.5 165v15M1231.5 173v13M1232.5 144v9M1233.5 130v9M1234.5 142v22M1235.5 218v18M1238.5 209v17M1239.5 174v9M1240.5 159v6M1241.5 157v4M1242.5 164v6M1243.5 185v12M1244.5 214v17M1245.5 200v5M1246.5 192v4M1247.5 191v3M1248.5 193v4M1249.5 202v6M1250.5 227v18M1253.5 227v23M1254.5 123v22M1256.5 153v33M1259.5 82v12M1260.5 139v9M1261.5 179v10M1262.5 177v10M1263.5 153v4M1264.5 150v1M1265.5 150v3M1266.5 158v7M1267.5 192v11M1268.5 232v18M1269.5 230v19M1270.5 189v11M1271.5 154v10M1272.5 139v7M1273.5 142v8M1274.5 167v13M1275.5 203v17M1276.5 246v4M1279.5 148v31M1280.5 133v6M1280.5 183v8M1281.5 131v5M1281.5 185v7M1282.5 141v6M1282.5 175v12M1302.5 249v1M1303.5 239v11M1304.5 235v11M1305.5 236v10M1306.5 241v9M1321.5 167v9M1338.5 248v2M1339.5 236v14M1340.5 232v18M1341.5 236v14M1342.5 248v2M1351.5 232v13M1352.5 214v13M1353.5 206v11M1354.5 208v11M1355.5 221v12M1356.5 241v9M1373.5 232v10M1374.5 208v9M1375.5 186v6M1376.5 162v8M1377.5 133v8M1381.5 80v8M1382.5 119v4M1383.5 151v6M1384.5 177v7M1385.5 205v7M1386.5 235v10M1388.5 238v12M1389.5 202v15M1390.5 194v4M1391.5 192v4M1392.5 193v5M1393.5 173v8M1394.5 160v3M1395.5 158v2M1396.5 158v3M1397.5 166v5M1398.5 190v10M1399.5 226v13M1400.5 225v11M1401.5 192v9M1402.5 125v11M1403.5 116v3M1404.5 116v3M1405.5 120v4M1406.5 139v5M1407.5 162v6M1408.5 142v20M1409.5 97v5M1410.5 94v3M1411.5 105v9M1412.5 139v6M1413.5 167v5M1414.5 183v1M1415.5 183v1M1416.5 184v3M1417.5 160v7M1418.5 151v2M1418.5 232v13M1419.5 150v2M1419.5 232v1M1420.5 153v3M1420.5 231v2M1421.5 170v17M1421.5 227v4M1423.5 207v21M1424.5 150v10M1425.5 144v1M1426.5 144v1M1427.5 150v10M1428.5 207v21"/>
<path stroke="#0000e6" d="M849.5 241v9M850.5 236v9M851.5 241v9M853.5 243v7M854.5 211v6M855.5 198v4M856.5 194v3M857.5 196v4M858.5 207v6M859.5 210v9M860.5 201v9M861.5 207v8M862.5 222v9M863.5 245v5M865.5 218v17M866.5 141v13M867.5 141v13M868.5 199v13M872.5 249v1M873.5 242v8M874.5 249v1M879.5 198v19M880.5 185v6M881.5 187v5M882.5 197v5M883.5 216v9M884.5 241v9M909.5 240v4M910.5 236v3M911.5 235v2M912.5 236v3M913.5 240v4M914.5 249v1M915.5 230v14M916.5 193v12M917.5 163v16M918.5 163v16M919.5 191v10M920.5 221v11M921.5 235v2M922.5 239v3M923.5 247v3M958.5 150v32M959.5 108v18M960.5 170v10M961.5 230v13M973.5 181v16M974.5 110v12M975.5 87v20M976.5 133v8M977.5 180v10M978.5 206v16M979.5 178v7M980.5 170v6M981.5 177v6M982.5 198v13M983.5 238v12M1020.5 146v7M1020.5 172v10M1021.5 135v4M1021.5 193v3M1022.5 142v6M1022.5 203v7M1023.5 174v12M1023.5 220v12M1024.5 194v3M1024.5 226v14M1025.5 205v27M1068.5 236v8M1069.5 225v8M1070.5 223v8M1071.5 231v7M1072.5 245v5M1074.5 178v13M1075.5 140v7M1076.5 165v12M1077.5 239v11M1079.5 148v7M1079.5 158v11M1080.5 138v7M1080.5 170v7M1081.5 153v10M1083.5 244v6M1084.5 195v15M1085.5 168v7M1086.5 159v7M1087.5 168v7M1088.5 194v15M1089.5 174v13M1090.5 130v8M1091.5 105v12M1092.5 132v13M1093.5 196v13M1094.5 235v10M1116.5 242v8M1117.5 247v3M1123.5 247v3M1124.5 231v7M1125.5 223v7M1126.5 215v10M1127.5 196v5M1128.5 189v4M1129.5 190v5M1130.5 200v7M1131.5 179v7M1132.5 163v5M1133.5 163v5M1134.5 179v7M1135.5 216v13M1136.5 216v8M1137.5 213v8M1138.5 221v8M1139.5 238v9M1145.5 235v7M1146.5 224v6M1147.5 220v7M1148.5 225v7M1149.5 238v8M1159.5 234v6M1160.5 226v5M1161.5 223v5M1162.5 227v5M1163.5 236v7M1164.5 230v13M1165.5 209v13M1166.5 203v14M1167.5 217v12M1168.5 234v7M1169.5 231v6M1170.5 231v6M1171.5 238v6M1181.5 234v15M1182.5 197v6M1183.5 149v49M1184.5 212v11M1185.5 221v19M1186.5 158v13M1187.5 79v35M1188.5 79v35M1189.5 158v13M1190.5 204v7M1191.5 235v10M1192.5 242v5M1193.5 238v4M1194.5 238v4M1195.5 242v5M1199.5 241v8M1200.5 223v7M1201.5 214v7M1202.5 214v7M1203.5 223v7M1204.5 231v8M1205.5 219v6M1206.5 212v7M1207.5 215v6M1208.5 226v7M1209.5 245v5M1226.5 124v5M1226.5 136v9M1227.5 128v11M1227.5 195v28M1228.5 162v12M1229.5 155v12M1230.5 180v13M1231.5 186v10M1232.5 153v9M1233.5 139v8M1234.5 164v33M1235.5 236v14M1238.5 226v18M1239.5 183v8M1240.5 165v4M1241.5 161v4M1242.5 170v5M1243.5 197v13M1244.5 231v15M1245.5 205v5M1246.5 196v3M1247.5 194v3M1248.5 197v3M1249.5 208v6M1250.5 245v5M1254.5 145v22M1256.5 186v35M1257.5 46v48M1259.5 94v7M1260.5 148v8M1261.5 189v8M1262.5 187v8M1263.5 157v3M1264.5 151v2M1265.5 153v1M1266.5 165v7M1267.5 203v11M1269.5 249v1M1270.5 200v12M1271.5 164v10M1272.5 146v6M1273.5 150v6M1274.5 180v8M1275.5 220v15M1280.5 139v5M1280.5 176v7M1281.5 136v5M1281.5 179v6M1282.5 147v6M1282.5 163v12M1304.5 246v4M1305.5 246v4M1351.5 245v5M1352.5 227v9M1353.5 217v9M1354.5 219v10M1355.5 233v10M1373.5 242v8M1374.5 217v7M1375.5 192v6M1376.5 170v6M1377.5 141v5M1378.5 46v63M1381.5 88v5M1382.5 123v4M1383.5 157v4M1384.5 184v5M1385.5 212v6M1386.5 245v5M1389.5 217v23M1390.5 198v5M1391.5 196v4M1392.5 198v5M1393.5 181v6M1394.5 163v4M1395.5 160v2M1396.5 161v3M1397.5 171v5M1398.5 200v9M1399.5 239v11M1400.5 236v8M1401.5 201v8M1402.5 136v36M1403.5 119v3M1404.5 119v2M1405.5 124v4M1406.5 144v4M1407.5 168v5M1408.5 162v23M1409.5 102v5M1410.5 97v3M1411.5 114v6M1412.5 145v5M1413.5 172v6M1414.5 184v1M1415.5 184v1M1416.5 187v2M1417.5 167v8M1418.5 153v3M1418.5 230v2M1418.5 245v5M1419.5 152v2M1419.5 230v2M1420.5 156v3M1420.5 229v2M1421.5 187v16M1421.5 222v5M1423.5 228v20M1424.5 160v11M1425.5 145v1M1426.5 145v1M1427.5 160v11M1428.5 228v20"/>
<path stroke="#0008ff" d="M850.5 245v5M854.5 217v9M855.5 202v3M856.5 197v3M857.5 200v3M858.5 213v5M859.5 219v9M860.5 210v7M861.5 215v7M862.5 231v8M865.5 235v14M866.5 154v11M867.5 154v9M868.5 212v12M879.5 217v28M880.5 191v5M881.5 192v4M882.5 202v4M883.5 225v8M909.5 244v3M910.5 239v2M911.5 237v2M912.5 239v2M913.5 244v3M915.5 244v6M916.5 205v10M917.5 179v9M918.5 179v9M919.5 201v9M920.5 232v6M921.5 237v2M922.5 242v2M958.5 182v28M959.5 126v12M960.5 180v9M961.5 243v7M973.5 197v22M974.5 122v10M975.5 107v9M976.5 141v7M977.5 190v9M978.5 222v13M979.5 185v6M980.5 176v5M981.5 183v5M982.5 211v12M1020.5 153v7M1020.5 164v8M1021.5 139v3M1021.5 189v4M1022.5 148v5M1022.5 199v4M1023.5 186v3M1023.5 211v9M1024.5 197v5M1024.5 214v12M1068.5 244v6M1069.5 233v6M1070.5 231v6M1071.5 238v7M1074.5 191v14M1075.5 147v6M1076.5 177v11M1079.5 155v3M1080.5 145v4M1080.5 164v6M1084.5 210v15M1085.5 175v6M1086.5 166v4M1087.5 175v6M1088.5 209v13M1089.5 187v12M1090.5 138v7M1091.5 117v6M1092.5 145v12M1093.5 209v10M1094.5 245v5M1124.5 238v7M1125.5 230v5M1126.5 225v9M1127.5 201v5M1128.5 193v4M1129.5 195v4M1130.5 207v7M1131.5 186v7M1132.5 168v5M1133.5 168v5M1134.5 186v7M1135.5 229v13M1136.5 224v7M1137.5 221v6M1138.5 229v7M1139.5 247v3M1145.5 242v7M1146.5 230v6M1147.5 227v5M1148.5 232v6M1149.5 246v4M1159.5 240v5M1160.5 231v4M1161.5 228v4M1162.5 232v4M1163.5 243v6M1164.5 243v7M1165.5 222v11M1166.5 217v10M1167.5 229v11M1168.5 241v6M1169.5 237v4M1170.5 237v5M1171.5 244v6M1181.5 249v1M1182.5 203v5M1183.5 198v5M1184.5 223v15M1185.5 240v10M1186.5 171v13M1187.5 114v14M1188.5 114v14M1189.5 171v13M1190.5 211v7M1191.5 245v5M1192.5 247v3M1193.5 242v3M1194.5 242v3M1195.5 247v3M1199.5 249v1M1200.5 230v7M1201.5 221v5M1202.5 221v5M1203.5 230v7M1204.5 239v7M1205.5 225v6M1206.5 219v5M1207.5 221v6M1208.5 233v7M1226.5 129v7M1227.5 223v27M1228.5 174v10M1229.5 167v10M1230.5 193v25M1231.5 196v10M1232.5 162v11M1233.5 147v8M1234.5 197v23M1238.5 244v6M1239.5 191v8M1240.5 169v4M1241.5 165v4M1242.5 175v5M1243.5 210v11M1244.5 246v4M1245.5 210v5M1246.5 199v3M1247.5 197v2M1248.5 200v3M1249.5 214v12M1254.5 167v31M1255.5 46v82M1256.5 221v29M1257.5 94v20M1259.5 101v8M1260.5 156v6M1261.5 197v7M1262.5 195v8M1263.5 160v4M1264.5 153v1M1265.5 154v2M1266.5 172v6M1267.5 214v8M1270.5 212v14M1271.5 174v8M1272.5 152v5M1273.5 156v7M1274.5 188v7M1275.5 235v15M1280.5 144v4M1280.5 170v6M1281.5 141v4M1281.5 173v6M1282.5 153v10M1352.5 236v8M1353.5 226v8M1354.5 229v7M1355.5 243v7M1374.5 224v7M1375.5 198v6M1376.5 176v4M1377.5 146v5M1378.5 109v10M1379.5 46v4M1380.5 46v3M1381.5 93v5M1382.5 127v3M1383.5 161v3M1384.5 189v4M1385.5 218v7M1389.5 240v10M1390.5 203v10M1391.5 200v4M1392.5 203v10M1393.5 187v6M1394.5 167v3M1395.5 162v2M1396.5 164v2M1397.5 176v5M1398.5 209v8M1400.5 244v6M1401.5 209v6M1402.5 172v6M1403.5 122v2M1404.5 121v2M1405.5 128v3M1406.5 148v4M1407.5 173v5M1408.5 185v12M1409.5 107v8M1410.5 100v3M1411.5 120v6M1412.5 150v3M1413.5 178v5M1414.5 185v1M1415.5 185v1M1416.5 189v2M1417.5 175v15M1418.5 156v2M1418.5 228v2M1419.5 154v2M1419.5 229v1M1420.5 159v4M1420.5 227v2M1421.5 203v19M1423.5 248v2M1424.5 171v13M1425.5 146v1M1426.5 146v1M1427.5 171v13M1428.5 248v2"/>
<path stroke="#002aff" d="M854.5 226v11M855.5 205v4M856.5 200v3M857.5 203v4M858.5 218v9M859.5 228v8M860.5 217v7M861.5 222v7M862.5 239v7M865.5 249v1M866.5 165v11M867.5 163v9M868.5 224v11M879.5 245v5M880.5 196v5M881.5 196v4M882.5 206v8M883.5 233v7M909.5 247v3M910.5 241v2M911.5 239v2M912.5 241v2M913.5 247v3M916.5 215v10M917.5 188v8M918.5 188v7M919.5 210v7M920.5 238v2M921.5 239v3M922.5 244v3M958.5 210v24M959.5 138v10M960.5 189v9M973.5 219v29M974.5 132v9M975.5 116v6M976.5 148v7M977.5 199v9M978.5 235v15M979.5 191v8M980.5 181v4M981.5 188v5M982.5 223v12M1020.5 160v4M1021.5 142v4M1021.5 186v3M1022.5 153v6M1022.5 195v4M1023.5 189v5M1023.5 203v8M1024.5 202v12M1069.5 239v6M1070.5 237v6M1071.5 245v5M1074.5 205v16M1075.5 153v8M1076.5 188v11M1080.5 149v5M1080.5 158v6M1084.5 225v15M1085.5 181v6M1086.5 170v5M1087.5 181v6M1088.5 222v11M1089.5 199v10M1090.5 145v6M1091.5 123v7M1092.5 157v15M1093.5 219v7M1124.5 245v5M1125.5 235v6M1126.5 234v6M1127.5 206v5M1128.5 197v4M1129.5 199v4M1130.5 214v11M1131.5 193v10M1132.5 173v4M1133.5 173v4M1134.5 193v10M1135.5 242v8M1136.5 231v7M1137.5 227v7M1138.5 236v7M1145.5 249v1M1146.5 236v5M1147.5 232v5M1148.5 238v5M1159.5 245v5M1160.5 235v4M1161.5 232v4M1162.5 236v4M1163.5 249v1M1165.5 233v10M1166.5 227v10M1167.5 240v10M1168.5 247v3M1169.5 241v4M1170.5 242v4M1182.5 208v6M1183.5 203v4M1184.5 238v12M1186.5 184v13M1187.5 128v12M1188.5 128v12M1189.5 184v9M1190.5 218v6M1193.5 245v4M1194.5 245v4M1200.5 237v6M1201.5 226v6M1202.5 226v6M1203.5 237v6M1204.5 246v4M1205.5 231v5M1206.5 224v4M1207.5 227v5M1208.5 240v6M1228.5 184v10M1229.5 177v9M1230.5 218v29M1231.5 206v8M1232.5 173v10M1233.5 155v16M1234.5 220v13M1239.5 199v11M1240.5 173v4M1241.5 169v3M1242.5 180v5M1243.5 221v17M1245.5 215v13M1246.5 202v3M1247.5 199v2M1248.5 203v3M1249.5 226v13M1254.5 198v37M1255.5 128v15M1257.5 114v16M1257.5 207v43M1259.5 109v6M1260.5 162v6M1261.5 204v7M1262.5 203v8M1263.5 164v5M1264.5 154v2M1265.5 156v2M1266.5 178v6M1267.5 222v10M1270.5 226v14M1271.5 182v6M1272.5 157v6M1273.5 163v8M1274.5 195v7M1280.5 148v4M1280.5 163v7M1281.5 145v3M1281.5 168v5M1352.5 244v6M1353.5 234v7M1354.5 236v8M1374.5 231v6M1375.5 204v5M1376.5 180v4M1377.5 151v5M1378.5 119v9M1379.5 50v17M1379.5 91v28M1380.5 49v7M1381.5 98v4M1382.5 130v4M1383.5 164v3M1384.5 193v4M1385.5 225v6M1390.5 213v30M1391.5 204v16M1392.5 213v19M1393.5 193v6M1394.5 170v3M1395.5 164v2M1396.5 166v3M1397.5 181v5M1398.5 217v9M1401.5 215v7M1402.5 178v5M1403.5 124v2M1404.5 123v2M1405.5 131v3M1406.5 152v3M1407.5 178v5M1408.5 197v9M1409.5 115v7M1410.5 103v4M1411.5 126v2M1412.5 153v4M1413.5 183v3M1414.5 186v1M1415.5 186v1M1416.5 191v2M1417.5 190v14M1417.5 221v15M1418.5 158v2M1418.5 226v2M1419.5 156v2M1419.5 227v2M1420.5 163v4M1420.5 225v2M1424.5 184v13M1425.5 147v1M1426.5 147v1M1427.5 184v13"/>
<path stroke="#004dff" d="M854.5 237v10M855.5 209v3M856.5 203v3M857.5 207v3M858.5 227v11M859.5 236v8M860.5 224v7M861.5 229v6M862.5 246v4M866.5 176v11M867.5 172v8M868.5 235v10M880.5 201v7M881.5 200v3M882.5 214v7M883.5 240v8M910.5 243v2M911.5 241v2M912.5 243v2M916.5 225v10M917.5 196v8M918.5 195v7M919.5 217v8M920.5 240v2M921.5 242v2M922.5 247v3M958.5 234v16M959.5 148v7M960.5 198v12M973.5 248v2M974.5 141v10M975.5 122v5M976.5 155v8M977.5 208v10M979.5 199v19M980.5 185v4M981.5 193v8M982.5 235v12M1021.5 146v4M1021.5 180v6M1022.5 159v9M1022.5 185v2M1022.5 188v7M1023.5 194v9M1069.5 245v5M1070.5 243v6M1074.5 221v15M1075.5 161v9M1076.5 199v17M1080.5 154v4M1084.5 240v10M1085.5 187v6M1086.5 175v5M1087.5 187v6M1088.5 233v11M1089.5 209v9M1090.5 151v7M1091.5 130v6M1092.5 172v11M1093.5 226v6M1125.5 241v5M1126.5 240v6M1127.5 211v5M1128.5 201v3M1129.5 203v4M1130.5 225v20M1131.5 203v13M1132.5 177v5M1133.5 177v5M1134.5 203v13M1136.5 238v6M1137.5 234v6M1138.5 243v7M1146.5 241v5M1147.5 237v5M1148.5 243v6M1160.5 239v4M1161.5 236v3M1162.5 240v5M1165.5 243v7M1166.5 237v10M1169.5 245v4M1170.5 246v4M1182.5 214v10M1183.5 207v5M1186.5 197v13M1187.5 140v9M1188.5 140v9M1189.5 193v5M1190.5 224v8M1193.5 249v1M1194.5 249v1M1200.5 243v6M1201.5 232v5M1202.5 232v5M1203.5 243v6M1205.5 236v6M1206.5 228v5M1207.5 232v5M1208.5 246v4M1228.5 194v56M1229.5 186v12M1230.5 247v3M1231.5 214v13M1232.5 183v10M1233.5 171v20M1234.5 233v13M1239.5 210v11M1240.5 177v4M1241.5 172v3M1242.5 185v5M1243.5 238v12M1245.5 228v13M1246.5 205v2M1247.5 201v3M1248.5 206v3M1249.5 239v11M1254.5 235v15M1255.5 143v18M1257.5 130v77M1258.5 46v11M1259.5 115v6M1260.5 168v5M1261.5 211v7M1262.5 211v7M1263.5 169v5M1264.5 156v1M1265.5 158v1M1266.5 184v5M1267.5 232v18M1270.5 240v10M1271.5 188v5M1272.5 163v7M1273.5 171v6M1274.5 202v8M1280.5 152v11M1281.5 148v4M1281.5 162v6M1353.5 241v8M1354.5 244v6M1374.5 237v6M1375.5 209v5M1376.5 184v4M1377.5 156v6M1378.5 128v6M1379.5 67v24M1379.5 119v8M1379.5 191v15M1380.5 56v6M1381.5 102v4M1382.5 134v3M1383.5 167v3M1384.5 197v3M1385.5 231v5M1390.5 243v7M1391.5 220v30M1392.5 232v14M1393.5 199v5M1394.5 173v3M1395.5 166v3M1396.5 169v2M1397.5 186v4M1398.5 226v8M1401.5 222v5M1402.5 183v5M1403.5 126v3M1404.5 125v3M1405.5 134v3M1406.5 155v3M1407.5 183v5M1408.5 206v9M1409.5 122v5M1410.5 107v5M1411.5 128v4M1412.5 157v3M1413.5 186v2M1414.5 187v1M1415.5 187v1M1416.5 193v2M1417.5 204v17M1417.5 236v8M1418.5 160v3M1418.5 225v1M1419.5 158v2M1419.5 225v2M1420.5 167v4M1420.5 223v2M1424.5 197v18M1425.5 148v1M1426.5 148v1M1427.5 197v18"/>
<path stroke="#006eff" d="M854.5 247v3M855.5 212v4M856.5 206v2M857.5 210v3M858.5 238v10M859.5 244v6M860.5 231v6M861.5 235v7M866.5 187v11M867.5 180v8M868.5 245v5M880.5 208v24M881.5 203v6M882.5 221v8M883.5 248v2M910.5 245v2M911.5 243v2M912.5 245v2M916.5 235v10M917.5 204v8M918.5 202v8M919.5 225v8M920.5 242v2M921.5 244v2M959.5 155v12M960.5 210v12M974.5 151v13M975.5 127v6M976.5 163v8M977.5 218v11M979.5 218v18M980.5 189v5M981.5 201v14M982.5 247v3M1021.5 150v4M1021.5 173v7M1022.5 168v17M1022.5 187v1M1070.5 249v1M1074.5 236v14M1075.5 170v9M1076.5 216v16M1085.5 193v9M1086.5 180v4M1087.5 193v9M1088.5 244v6M1089.5 218v6M1090.5 158v8M1091.5 136v7M1092.5 183v11M1093.5 232v6M1125.5 246v4M1126.5 246v4M1127.5 216v19M1128.5 204v4M1129.5 207v4M1130.5 245v5M1131.5 216v34M1132.5 182v4M1133.5 182v4M1134.5 216v34M1136.5 244v6M1137.5 240v6M1146.5 246v4M1147.5 242v5M1148.5 249v1M1160.5 243v4M1161.5 239v4M1162.5 245v4M1166.5 247v3M1169.5 249v1M1182.5 224v14M1183.5 212v5M1186.5 210v12M1187.5 149v7M1188.5 149v7M1189.5 198v5M1190.5 232v7M1200.5 249v1M1201.5 237v5M1202.5 237v5M1203.5 249v1M1205.5 242v5M1206.5 233v5M1207.5 237v5M1229.5 198v52M1231.5 227v13M1232.5 193v11M1233.5 191v21M1234.5 246v4M1239.5 221v19M1240.5 181v4M1241.5 175v3M1242.5 190v5M1245.5 241v9M1246.5 207v3M1247.5 204v2M1248.5 209v3M1255.5 161v89M1258.5 57v11M1259.5 121v5M1260.5 173v5M1261.5 218v9M1262.5 218v8M1263.5 174v5M1264.5 157v1M1265.5 159v2M1266.5 189v4M1271.5 193v6M1272.5 170v6M1273.5 177v6M1274.5 210v15M1281.5 152v3M1281.5 157v5M1353.5 249v1M1374.5 243v6M1375.5 214v4M1376.5 188v4M1377.5 162v5M1378.5 134v6M1379.5 127v10M1379.5 168v23M1379.5 206v32M1380.5 62v5M1381.5 106v2M1382.5 137v3M1383.5 170v3M1384.5 200v4M1385.5 236v6M1392.5 246v4M1393.5 204v6M1394.5 176v3M1395.5 169v2M1396.5 171v2M1397.5 190v4M1398.5 234v7M1401.5 227v6M1402.5 188v3M1403.5 129v4M1404.5 128v2M1405.5 137v3M1406.5 158v3M1407.5 188v3M1408.5 215v8M1409.5 127v2M1410.5 112v5M1411.5 132v2M1412.5 160v2M1413.5 188v2M1414.5 188v1M1415.5 188v2M1416.5 195v7M1417.5 244v6M1418.5 163v4M1418.5 223v2M1419.5 160v2M1419.5 224v1M1420.5 171v12M1420.5 220v3M1424.5 215v27M1425.5 149v1M1426.5 149v1M1427.5 215v27"/>
<path stroke="#0090ff" d="M855.5 216v4M856.5 208v3M857.5 213v4M858.5 248v2M860.5 237v7M861.5 242v6M866.5 198v16M867.5 188v8M880.5 232v18M881.5 209v12M882.5 229v8M910.5 247v3M911.5 245v2M912.5 247v3M916.5 245v5M917.5 212v8M918.5 210v7M919.5 233v8M920.5 244v2M921.5 246v2M959.5 167v14M960.5 222v13M974.5 164v14M975.5 133v6M976.5 171v8M977.5 229v21M979.5 236v14M980.5 194v13M981.5 215v13M1021.5 154v5M1021.5 167v6M1075.5 179v8M1076.5 232v17M1085.5 202v19M1086.5 184v5M1087.5 202v19M1089.5 224v6M1090.5 166v12M1091.5 143v7M1092.5 194v10M1093.5 238v6M1127.5 235v15M1128.5 208v3M1129.5 211v4M1132.5 186v4M1133.5 186v4M1137.5 246v4M1147.5 247v3M1160.5 247v3M1161.5 243v4M1162.5 249v1M1182.5 238v12M1183.5 217v15M1186.5 222v21M1187.5 156v10M1188.5 156v10M1189.5 203v5M1190.5 239v8M1201.5 242v5M1202.5 242v5M1205.5 247v3M1206.5 238v5M1207.5 242v5M1231.5 240v10M1232.5 204v12M1233.5 212v16M1239.5 240v10M1240.5 185v4M1241.5 178v3M1242.5 195v10M1246.5 210v3M1247.5 206v2M1248.5 212v4M1258.5 68v11M1259.5 126v5M1260.5 178v5M1261.5 227v11M1262.5 226v9M1262.5 241v9M1263.5 179v4M1264.5 158v2M1265.5 161v4M1266.5 193v5M1271.5 199v5M1272.5 176v6M1273.5 183v4M1274.5 225v16M1281.5 155v2M1374.5 249v1M1375.5 218v6M1376.5 192v3M1377.5 167v7M1378.5 140v6M1379.5 137v31M1379.5 238v12M1380.5 166v24M1381.5 108v2M1382.5 140v4M1383.5 173v2M1384.5 204v3M1385.5 242v5M1393.5 210v7M1394.5 179v3M1395.5 171v2M1396.5 173v3M1397.5 194v4M1398.5 241v8M1401.5 233v5M1402.5 191v4M1403.5 133v6M1404.5 130v4M1405.5 140v3M1406.5 161v3M1407.5 191v4M1408.5 223v7M1409.5 129v6M1410.5 117v4M1411.5 134v3M1412.5 162v3M1413.5 190v2M1414.5 189v1M1415.5 190v1M1416.5 202v9M1418.5 167v3M1418.5 220v3M1419.5 162v3M1419.5 222v2M1420.5 183v21M1420.5 217v3M1424.5 242v8M1425.5 150v4M1426.5 150v4M1427.5 242v8"/>
<path stroke="#00b2ff" d="M855.5 220v10M856.5 211v3M857.5 217v4M860.5 244v6M861.5 248v2M866.5 214v16M867.5 196v13M881.5 221v13M882.5 237v9M911.5 247v2M917.5 220v8M918.5 217v7M919.5 241v6M920.5 246v2M921.5 248v2M959.5 181v14M960.5 235v14M974.5 178v14M975.5 139v5M976.5 179v8M980.5 207v20M981.5 228v16M1021.5 159v8M1075.5 187v9M1076.5 249v1M1085.5 221v20M1086.5 189v5M1087.5 221v20M1089.5 230v5M1090.5 178v11M1091.5 150v7M1092.5 204v10M1093.5 244v6M1128.5 211v4M1129.5 215v22M1132.5 190v5M1133.5 190v5M1161.5 247v3M1183.5 232v16M1186.5 243v7M1187.5 166v13M1188.5 166v13M1189.5 208v5M1190.5 247v3M1201.5 247v3M1202.5 247v3M1206.5 243v4M1207.5 247v3M1232.5 216v16M1233.5 228v16M1240.5 189v5M1241.5 181v4M1242.5 205v11M1246.5 213v5M1247.5 208v2M1248.5 216v17M1258.5 79v15M1258.5 245v5M1259.5 131v5M1260.5 183v6M1261.5 238v12M1262.5 235v6M1263.5 183v3M1264.5 160v2M1265.5 165v3M1266.5 198v6M1271.5 204v15M1272.5 182v3M1273.5 187v5M1274.5 241v9M1375.5 224v5M1376.5 195v5M1377.5 174v4M1378.5 146v8M1380.5 67v4M1380.5 159v7M1380.5 190v20M1381.5 110v3M1382.5 144v3M1383.5 175v3M1384.5 207v2M1385.5 247v3M1393.5 217v7M1394.5 182v3M1395.5 173v2M1396.5 176v3M1397.5 198v5M1398.5 249v1M1401.5 238v5M1402.5 195v4M1403.5 139v4M1404.5 134v3M1405.5 143v1M1406.5 164v2M1407.5 195v4M1408.5 230v8M1409.5 135v6M1410.5 121v4M1411.5 137v2M1412.5 165v1M1413.5 192v2M1414.5 190v1M1415.5 191v1M1416.5 211v8M1418.5 170v7M1418.5 218v2M1419.5 165v3M1419.5 220v2M1420.5 204v13M1425.5 154v7M1426.5 154v7"/>
<path stroke="#00d4ff" d="M855.5 230v12M856.5 214v3M857.5 221v11M866.5 230v15M867.5 209v13M881.5 234v16M882.5 246v4M911.5 249v1M917.5 228v10M918.5 224v8M919.5 247v3M920.5 248v2M959.5 195v35M960.5 249v1M974.5 192v58M975.5 144v7M976.5 187v7M980.5 227v23M981.5 244v6M1075.5 196v28M1085.5 241v9M1086.5 194v19M1087.5 241v9M1089.5 235v5M1090.5 189v11M1091.5 157v14M1092.5 214v6M1128.5 215v35M1129.5 237v13M1132.5 195v16M1132.5 244v6M1133.5 195v16M1133.5 244v6M1183.5 248v2M1187.5 179v13M1188.5 179v12M1189.5 213v4M1206.5 247v3M1232.5 232v18M1233.5 244v6M1240.5 194v8M1241.5 185v4M1242.5 216v34M1246.5 218v20M1247.5 210v3M1248.5 233v17M1258.5 228v17M1259.5 136v4M1260.5 189v5M1263.5 186v4M1264.5 162v3M1265.5 168v4M1266.5 204v6M1271.5 219v22M1272.5 185v5M1273.5 192v5M1375.5 229v6M1376.5 200v5M1377.5 178v5M1378.5 154v20M1380.5 71v5M1380.5 148v11M1380.5 210v15M1381.5 113v2M1382.5 147v3M1383.5 178v2M1384.5 209v3M1393.5 224v8M1394.5 185v4M1395.5 175v2M1396.5 179v2M1397.5 203v5M1401.5 243v4M1402.5 199v4M1403.5 143v9M1404.5 137v5M1405.5 144v3M1406.5 166v3M1407.5 199v4M1408.5 238v6M1409.5 141v6M1410.5 125v2M1411.5 139v2M1412.5 166v2M1413.5 194v2M1414.5 191v1M1415.5 192v1M1416.5 219v9M1418.5 177v41M1419.5 168v3M1419.5 218v2M1425.5 161v7M1426.5 161v7"/>
<path stroke="#00f6ff" d="M855.5 242v8M856.5 217v4M857.5 232v12M866.5 245v5M867.5 222v14M917.5 238v10M918.5 232v10M959.5 230v20M975.5 151v9M976.5 194v8M1075.5 224v26M1086.5 213v33M1089.5 240v8M1090.5 200v12M1091.5 171v14M1092.5 220v5M1132.5 211v33M1133.5 211v33M1187.5 192v9M1188.5 191v6M1189.5 217v5M1240.5 202v12M1241.5 189v4M1246.5 238v12M1247.5 213v3M1258.5 94v4M1258.5 215v13M1259.5 140v5M1260.5 194v8M1263.5 190v3M1264.5 165v3M1265.5 172v3M1266.5 210v6M1271.5 241v9M1272.5 190v4M1273.5 197v4M1375.5 235v7M1376.5 205v6M1377.5 183v7M1378.5 174v21M1380.5 76v5M1380.5 136v12M1380.5 225v10M1381.5 115v2M1382.5 150v3M1383.5 180v3M1384.5 212v3M1393.5 232v7M1394.5 189v3M1395.5 177v3M1396.5 181v3M1397.5 208v6M1401.5 247v3M1402.5 203v4M1403.5 152v12M1404.5 142v1M1405.5 147v4M1406.5 169v2M1407.5 203v4M1408.5 244v6M1409.5 147v6M1410.5 127v1M1411.5 141v3M1412.5 168v2M1413.5 196v4M1414.5 192v1M1415.5 193v1M1416.5 228v8M1419.5 171v47M1425.5 168v12M1425.5 241v9M1426.5 168v12M1426.5 241v9"/>
<path stroke="#1affe5" d="M856.5 221v14M857.5 244v6M867.5 236v14M917.5 248v2M918.5 242v8M975.5 160v13M975.5 249v1M976.5 202v20M976.5 240v10M1086.5 246v4M1089.5 248v2M1090.5 212v7M1091.5 185v13M1092.5 225v5M1187.5 201v9M1188.5 197v5M1189.5 222v10M1240.5 214v36M1241.5 193v7M1247.5 216v32M1258.5 98v12M1258.5 208v7M1259.5 145v5M1260.5 202v12M1263.5 193v4M1264.5 168v3M1265.5 175v4M1266.5 216v7M1266.5 245v5M1272.5 194v5M1273.5 201v5M1375.5 242v7M1376.5 211v5M1377.5 190v8M1378.5 195v37M1380.5 81v6M1380.5 128v8M1380.5 235v11M1381.5 117v3M1382.5 153v3M1383.5 183v2M1384.5 215v3M1393.5 239v8M1394.5 192v3M1395.5 180v3M1396.5 184v3M1397.5 214v8M1402.5 207v3M1403.5 164v10M1404.5 143v5M1405.5 151v3M1406.5 171v3M1407.5 207v3M1409.5 153v6M1410.5 128v4M1411.5 144v2M1412.5 170v2M1413.5 200v5M1414.5 193v1M1415.5 194v1M1416.5 236v9M1425.5 180v61M1426.5 180v61"/>
<path stroke="#3cffc3" d="M856.5 235v14M975.5 173v12M975.5 239v10M976.5 222v18M1090.5 219v5M1091.5 198v14M1092.5 230v5M1187.5 210v9M1188.5 202v6M1189.5 232v10M1241.5 200v16M1241.5 233v17M1247.5 248v2M1258.5 110v7M1258.5 202v6M1259.5 150v6M1259.5 239v11M1260.5 214v36M1263.5 197v6M1264.5 171v3M1265.5 179v3M1266.5 223v22M1272.5 199v5M1273.5 206v44M1375.5 249v1M1376.5 216v8M1377.5 198v11M1378.5 232v18M1380.5 87v7M1380.5 121v7M1380.5 246v4M1381.5 120v2M1382.5 156v2M1383.5 185v2M1384.5 218v5M1393.5 247v3M1394.5 195v3M1395.5 183v2M1396.5 187v3M1397.5 222v8M1402.5 210v5M1403.5 174v3M1404.5 148v5M1405.5 154v4M1406.5 174v3M1407.5 210v5M1409.5 159v18M1410.5 132v2M1411.5 146v2M1412.5 172v1M1413.5 205v5M1414.5 194v1M1415.5 195v6M1416.5 245v5"/>
<path stroke="#5effa2" d="M856.5 249v1M975.5 185v14M975.5 214v25M1090.5 224v5M1091.5 212v7M1092.5 235v5M1187.5 219v31M1188.5 208v5M1189.5 242v8M1241.5 216v17M1258.5 117v8M1258.5 196v6M1259.5 156v6M1259.5 227v12M1263.5 203v7M1263.5 249v1M1264.5 174v4M1265.5 182v3M1272.5 204v46M1376.5 224v12M1377.5 209v12M1380.5 94v10M1380.5 112v9M1381.5 122v3M1382.5 158v3M1383.5 187v3M1384.5 223v4M1394.5 198v5M1395.5 185v3M1396.5 190v3M1397.5 230v9M1402.5 215v5M1403.5 177v3M1404.5 153v5M1405.5 158v3M1406.5 177v3M1407.5 215v5M1409.5 177v18M1409.5 249v1M1410.5 134v3M1411.5 148v2M1412.5 173v4M1413.5 210v6M1414.5 195v5M1415.5 201v12"/>
<path stroke="#80ff80" d="M975.5 199v15M1090.5 229v5M1091.5 219v5M1092.5 240v9M1188.5 213v6M1258.5 125v8M1258.5 184v12M1259.5 162v7M1259.5 215v12M1263.5 210v6M1263.5 244v5M1264.5 178v3M1265.5 185v3M1376.5 236v14M1377.5 221v29M1380.5 104v8M1381.5 125v3M1382.5 161v2M1383.5 190v2M1384.5 227v5M1394.5 203v4M1395.5 188v3M1396.5 193v3M1397.5 239v9M1402.5 220v4M1403.5 180v3M1404.5 158v5M1405.5 161v4M1406.5 180v3M1407.5 220v4M1409.5 195v33M1409.5 238v11M1410.5 137v3M1411.5 150v2M1412.5 177v3M1413.5 216v5M1414.5 200v15M1415.5 213v13"/>
<path stroke="#a2ff5e" d="M1090.5 234v5M1091.5 224v5M1092.5 249v1M1188.5 219v29M1258.5 133v8M1258.5 153v31M1259.5 169v8M1259.5 206v9M1263.5 216v8M1263.5 239v5M1264.5 181v2M1265.5 188v3M1381.5 128v5M1382.5 163v3M1383.5 192v2M1384.5 232v5M1394.5 207v6M1395.5 191v3M1396.5 196v4M1397.5 248v2M1402.5 224v5M1403.5 183v3M1404.5 163v5M1405.5 165v4M1406.5 183v3M1407.5 224v5M1409.5 228v10M1410.5 140v2M1411.5 152v2M1412.5 180v3M1413.5 221v6M1414.5 215v14M1415.5 226v13"/>
<path stroke="#c3ff3c" d="M1090.5 239v9M1091.5 229v5M1188.5 248v2M1258.5 141v12M1259.5 177v12M1259.5 194v12M1263.5 224v15M1264.5 183v3M1265.5 191v3M1265.5 249v1M1381.5 133v7M1382.5 166v3M1383.5 194v2M1384.5 237v5M1394.5 213v13M1395.5 194v3M1396.5 200v5M1402.5 229v5M1403.5 186v3M1404.5 168v5M1405.5 169v4M1406.5 186v3M1407.5 229v5M1410.5 142v3M1411.5 154v2M1412.5 183v3M1413.5 227v5M1414.5 229v15M1415.5 239v11"/>
<path stroke="#e5ff1a" d="M1090.5 248v2M1091.5 234v5M1259.5 189v5M1264.5 186v3M1264.5 249v1M1265.5 194v3M1265.5 246v3M1381.5 140v13M1382.5 169v4M1383.5 196v3M1384.5 242v5M1394.5 226v13M1395.5 197v5M1396.5 205v4M1402.5 234v5M1403.5 189v2M1404.5 173v3M1405.5 173v3M1406.5 189v2M1407.5 234v5M1410.5 145v3M1411.5 156v2M1412.5 186v4M1413.5 232v6M1414.5 244v6"/>
<path stroke="#fff700" d="M1091.5 239v11M1264.5 189v3M1264.5 246v3M1265.5 197v7M1265.5 242v4M1381.5 153v27M1382.5 173v3M1383.5 199v3M1384.5 247v3M1394.5 239v11M1395.5 202v4M1396.5 209v14M1402.5 239v5M1403.5 191v3M1404.5 176v3M1405.5 176v3M1406.5 191v3M1407.5 239v5M1410.5 148v3M1411.5 158v2M1412.5 190v3M1413.5 238v11"/>
<path stroke="#ffd500" d="M1264.5 192v3M1264.5 243v3M1265.5 204v8M1265.5 239v3M1381.5 180v7M1382.5 176v3M1383.5 202v2M1395.5 206v8M1396.5 223v22M1402.5 244v5M1403.5 194v2M1404.5 179v4M1405.5 179v4M1406.5 194v2M1407.5 244v5M1410.5 151v3M1411.5 160v2M1412.5 193v4M1413.5 249v1"/>
<path stroke="#ffb300" d="M1264.5 195v5M1264.5 240v3M1265.5 212v8M1265.5 228v11M1381.5 187v5M1382.5 179v3M1383.5 204v3M1395.5 214v36M1396.5 245v5M1402.5 249v1M1403.5 196v4M1404.5 183v3M1405.5 183v3M1406.5 196v4M1407.5 249v1M1410.5 154v2M1411.5 162v2M1412.5 197v3"/>
<path stroke="#ff9100" d="M1264.5 200v9M1264.5 237v3M1265.5 220v8M1381.5 192v41M1382.5 182v3M1383.5 207v3M1403.5 200v4M1404.5 186v2M1405.5 186v2M1406.5 200v4M1410.5 156v3M1410.5 249v1M1411.5 164v2M1412.5 200v4"/>
<path stroke="#ff6e00" d="M1264.5 209v9M1264.5 226v11M1381.5 233v17M1382.5 185v3M1383.5 210v3M1403.5 204v5M1404.5 188v3M1405.5 188v3M1406.5 204v5M1410.5 159v3M1410.5 243v6M1411.5 166v2M1412.5 204v5"/>
<path stroke="#ff4c00" d="M1264.5 218v8M1382.5 188v3M1383.5 213v4M1403.5 209v5M1404.5 191v3M1405.5 191v3M1406.5 209v5M1410.5 162v4M1410.5 238v5M1411.5 168v1M1412.5 209v7"/>
<path stroke="#ff2a00" d="M1382.5 191v3M1383.5 217v10M1403.5 214v9M1404.5 194v2M1405.5 194v2M1406.5 214v9M1410.5 166v4M1410.5 227v11M1411.5 169v2M1412.5 216v9M1412.5 244v6"/>
<path stroke="#ff0800" d="M1382.5 194v5M1383.5 227v17M1403.5 223v10M1404.5 196v6M1405.5 196v6M1406.5 223v10M1410.5 170v14M1410.5 212v15M1411.5 171v3M1411.5 244v6M1412.5 225v19"/>
<path stroke="#e50000" d="M1382.5 199v8M1383.5 244v6M1403.5 233v10M1404.5 202v6M1405.5 202v6M1406.5 233v10M1410.5 184v28M1411.5 174v9M1411.5 239v5"/>
<path stroke="#c30000" d="M1382.5 207v43M1403.5 243v7M1404.5 208v16M1405.5 208v16M1406.5 243v7M1411.5 183v11M1411.5 226v13"/>
<path stroke="#a20000" d="M1404.5 224v26M1405.5 224v26M1411.5 194v32"/>
</g></g>
<path d="M836.5 64.90h6M1439.5 64.90h-6M836.5 83.00h6M1439.5 83.00h-6M836.5 103.50h6M1439.5 103.50h-6M836.5 127.20h6M1439.5 127.20h-6M836.5 154.10h6M1439.5 154.10h-6M836.5 185.30h6M1439.5 185.30h-6M836.5 204.30h6M1439.5 204.30h-6M836.5 224.30h6M1439.5 224.30h-6M836.5 248.30h6M1439.5 248.30h-6M911.88 46.5v6M911.88 250.5v-6M987.25 46.5v6M987.25 250.5v-6M1062.62 46.5v6M1062.62 250.5v-6M1138.00 46.5v6M1138.00 250.5v-6M1213.38 46.5v6M1213.38 250.5v-6M1288.75 46.5v6M1288.75 250.5v-6M1364.12 46.5v6M1364.12 250.5v-6" stroke="#000060" stroke-width="1" fill="none" opacity="0.55"/>
<path d="M836.0 250.5H1440.0" stroke="#555" stroke-width="1" fill="none" opacity="0.8"/>
<text x="832.2" y="50.6" text-anchor="end" font-weight="normal" font-size="12.4" >22</text>
<text x="832.2" y="69.3" text-anchor="end" font-weight="normal" font-size="12.4" >20</text>
<text x="832.2" y="87.4" text-anchor="end" font-weight="normal" font-size="12.4" >18</text>
<text x="832.2" y="107.9" text-anchor="end" font-weight="normal" font-size="12.4" >16</text>
<text x="832.2" y="131.6" text-anchor="end" font-weight="normal" font-size="12.4" >14</text>
<text x="832.2" y="158.5" text-anchor="end" font-weight="normal" font-size="12.4" >12</text>
<text x="832.2" y="189.7" text-anchor="end" font-weight="normal" font-size="12.4" >10</text>
<text x="832.2" y="208.7" text-anchor="end" font-weight="normal" font-size="12.4" >9</text>
<text x="832.2" y="228.7" text-anchor="end" font-weight="normal" font-size="12.4" >8</text>
<text x="832.2" y="252.7" text-anchor="end" font-weight="normal" font-size="12.4" >7</text>
<text x="836.4" y="265.1" text-anchor="middle" font-weight="normal" font-size="12.4" >00:00</text>
<text x="911.8" y="265.1" text-anchor="middle" font-weight="normal" font-size="12.4" >03:00</text>
<text x="987.1" y="265.1" text-anchor="middle" font-weight="normal" font-size="12.4" >06:00</text>
<text x="1062.5" y="265.1" text-anchor="middle" font-weight="normal" font-size="12.4" >09:00</text>
<text x="1137.9" y="265.1" text-anchor="middle" font-weight="normal" font-size="12.4" >12:00</text>
<text x="1213.3" y="265.1" text-anchor="middle" font-weight="normal" font-size="12.4" >15:00</text>
<text x="1288.7" y="265.1" text-anchor="middle" font-weight="normal" font-size="12.4" >18:00</text>
<text x="1364.0" y="265.1" text-anchor="middle" font-weight="normal" font-size="12.4" >21:00</text>
<text x="1439.4" y="265.1" text-anchor="middle" font-weight="normal" font-size="12.4" >00:00</text>
<text transform="translate(809.3,148.0) rotate(-90)" text-anchor="middle" font-weight="bold" font-size="12.4">freq (mHz)</text>
<rect x="1458.0" y="46.0" width="26.0" height="204.5" fill="url(#jet)"/>
<rect x="1458.5" y="46.5" width="25.0" height="204.0" fill="none" stroke="#444" stroke-opacity="0.45" stroke-width="1"/>
<text x="1487.0" y="50.5" text-anchor="start" font-weight="normal" font-size="12.4" >4</text>
<text x="1487.0" y="84.5" text-anchor="start" font-weight="normal" font-size="12.4" >3</text>
<text x="1487.0" y="118.5" text-anchor="start" font-weight="normal" font-size="12.4" >2</text>
<text x="1487.0" y="152.5" text-anchor="start" font-weight="normal" font-size="12.4" >1</text>
<text x="1487.0" y="186.5" text-anchor="start" font-weight="normal" font-size="12.4" >0</text>
<text x="1487.0" y="220.5" text-anchor="start" font-weight="normal" font-size="12.4" >-1</text>
<text x="1487.0" y="254.5" text-anchor="start" font-weight="normal" font-size="12.4" >-2</text>
<path d="M1458.5 80.50h3M1483.5 80.50h-3M1458.5 114.50h3M1483.5 114.50h-3M1458.5 148.50h3M1483.5 148.50h-3M1458.5 182.50h3M1483.5 182.50h-3M1458.5 216.50h3M1483.5 216.50h-3" stroke="#333" stroke-width="1" fill="none" opacity="0.6"/>
<text transform="translate(1518.8,148.5) rotate(-90)" text-anchor="middle" font-weight="bold" font-size="12.4">log<tspan dy="4.5" font-size="10.5">2</tspan><tspan dy="-4.5">(nT</tspan><tspan dy="-5.5" font-size="10.5">2</tspan><tspan dy="5.5">/Hz)</tspan></text>
<path d="M43.5 330.0V535.0M645.5 330.0V535.0" stroke="#b4b4b4" stroke-width="1" fill="none"/>
<path d="M43.0 330.5H646.0" stroke="#b0b0b0" stroke-width="1" fill="none"/>
<path d="M43.0 534.5H646.0" stroke="#8e8e8e" stroke-width="1" fill="none"/>
<path d="M118.75 330.5v6M118.75 534.5v-6M194.00 330.5v6M194.00 534.5v-6M269.25 330.5v6M269.25 534.5v-6M344.50 330.5v6M344.50 534.5v-6M419.75 330.5v6M419.75 534.5v-6M495.00 330.5v6M495.00 534.5v-6M570.25 330.5v6M570.25 534.5v-6M43.5 381.50h6M645.5 381.50h-6M43.5 432.50h6M645.5 432.50h-6M43.5 483.50h6M645.5 483.50h-6" stroke="#a4a4a4" stroke-width="1" fill="none"/>
<g transform="scale(0.1)"><path d="M435 4312L440 4284L445 4298L450 4275L455 4312L460 4282L465 4317L470 4314L475 4305L480 4317L485 4313L490 4303L495 4312L500 4311L505 4300L510 4317L515 4305L520 4317L525 4317L530 4307L535 4303L540 4316L545 4303L550 4314L555 4294L560 4305L565 4289L570 4289L575 4280L580 4312L585 4295L590 4285L595 4312L600 4277L605 4289L610 4285L615 4274L620 4300L625 4315L630 4308L635 4316L640 4313L645 4317L650 4289L655 4311L660 4293L665 4310L670 4311L675 4270L680 4308L685 4277L690 4310L695 4281L700 4310L705 4317L710 4300L715 4306L720 4308L725 4292L730 4316L735 4274L740 4276L745 4302L750 4272L755 4307L760 4256L765 4291L770 4273L775 4301L780 4268L785 4298L790 4293L795 4299L800 4311L805 4314L810 4317L815 4316L820 4312L825 4312L830 4290L835 4311L840 4307L845 4290L850 4308L855 4293L860 4301L865 4278L870 4307L875 4264L880 4244L885 4283L890 4303L895 4279L900 4276L905 4301L910 4305L915 4295L920 4279L925 4247L930 4196L935 4297L940 4236L945 4221L950 4286L955 4304L960 4266L965 4305L970 4313L975 4299L980 4296L985 4317L990 4295L995 4295L1000 4290L1005 4312L1010 4257L1015 4311L1020 4308L1025 4309L1030 4282L1035 4294L1040 4281L1045 4307L1050 4313L1055 4317L1060 4290L1065 4312L1070 4310L1075 4257L1080 4244L1085 4303L1090 4273L1095 4266L1100 4294L1105 4281L1110 4290L1115 4297L1120 4297L1125 4309L1130 4304L1135 4307L1140 4300L1145 4278L1150 4283L1155 4237L1160 4291L1165 4300L1170 4280L1175 4251L1180 4235L1185 4247L1190 4261L1195 4277L1200 4301L1205 4291L1210 4274L1215 4230L1220 4283L1225 4286L1230 4230L1235 4188L1240 4300L1245 4190L1250 4260L1255 4293L1260 4278L1265 4265L1270 4215L1275 4298L1280 4310L1285 4274L1290 4287L1295 4293L1300 4273L1305 4306L1310 4301L1315 4275L1320 4296L1325 4296L1330 4288L1335 4295L1340 4314L1345 4278L1350 4287L1355 4281L1360 4271L1365 4310L1370 4308L1375 4314L1380 4313L1385 4281L1390 4312L1395 4283L1400 4310L1405 4307L1410 4317L1415 4313L1420 4308L1425 4313L1430 4303L1435 4303L1440 4303L1445 4306L1450 4302L1455 4314L1460 4279L1465 4309L1470 4309L1475 4281L1480 4257L1485 4295L1490 4266L1495 4266L1500 4264L1505 4292L1510 4299L1515 4290L1520 4308L1525 4276L1530 4291L1535 4294L1540 4290L1545 4267L1550 4291L1555 4282L1560 4279L1565 4285L1570 4277L1575 4291L1580 4284L1585 4314L1590 4306L1595 4302L1600 4303L1605 4298L1610 4314L1615 4296L1620 4313L1625 4293L1630 4280L1635 4308L1640 4286L1645 4311L1650 4287L1655 4311L1660 4304L1665 4306L1670 4308L1675 4313L1680 4316L1685 4298L1690 4283L1695 4297L1700 4276L1705 4305L1710 4272L1715 4257L1720 4306L1725 4304L1730 4273L1735 4297L1740 4286L1745 4306L1750 4287L1755 4289L1760 4274L1765 4301L1770 4284L1775 4314L1780 4285L1785 4305L1790 4312L1795 4307L1800 4315L1805 4310L1810 4315L1815 4284L1820 4314L1825 4308L1830 4271L1835 4307L1840 4309L1845 4259L1850 4310L1855 4312L1860 4288L1865 4301L1870 4278L1875 4285L1880 4300L1885 4294L1890 4286L1895 4286L1900 4297L1905 4311L1910 4278L1915 4297L1920 4299L1925 4270L1930 4308L1935 4314L1940 4294L1945 4315L1950 4267L1955 4294L1960 4294L1965 4311L1970 4309L1975 4314L1980 4291L1985 4301L1990 4297L1995 4298L2000 4280L2005 4305L2010 4243L2015 4305L2020 4256L2025 4272L2030 4263L2035 4299L2040 4287L2045 4299L2050 4316L2055 4316L2060 4276L2065 4284L2070 4311L2075 4314L2080 4290L2085 4282L2090 4304L2095 4313L2100 4315L2105 4289L2110 4285L2115 4305L2120 4312L2125 4303L2130 4316L2135 4309L2140 4307L2145 4315L2150 4278L2155 4300L2160 4291L2165 4293L2170 4299L2175 4305L2180 4298L2185 4305L2190 4293L2195 4295L2200 4292L2205 4297L2210 4315L2215 4317L2220 4297L2225 4300L2230 4315L2235 4283L2240 4290L2245 4299L2250 4306L2255 4312L2260 4301L2265 4294L2270 4290L2275 4278L2280 4289L2285 4307L2290 4300L2295 4313L2300 4306L2305 4305L2310 4312L2315 4272L2320 4316L2325 4305L2330 4302L2335 4289L2340 4293L2345 4302L2350 4303L2355 4317L2360 4317L2365 4313L2370 4296L2375 4280L2380 4286L2385 4307L2390 4311L2395 4310L2400 4303L2405 4282L2410 4298L2415 4316L2420 4291L2425 4315L2430 4314L2435 4268L2440 4307L2445 4298L2450 4287L2455 4294L2460 4262L2465 4287L2470 4268L2475 4290L2480 4277L2485 4305L2490 4270L2495 4300L2500 4313L2505 4316L2510 4297L2515 4317L2520 4299L2525 4296L2530 4314L2535 4307L2540 4289L2545 4312L2550 4276L2555 4294L2560 4317L2565 4315L2570 4296L2575 4317L2580 4285L2585 4276L2590 4282L2595 4304L2600 4313L2605 4313L2610 4308L2615 4317L2620 4302L2625 4297L2630 4317L2635 4315L2640 4314L2645 4312L2650 4313L2655 4291L2660 4285L2665 4300L2670 4310L2675 4286L2680 4312L2685 4314L2690 4275L2695 4304L2700 4313L2705 4285L2710 4316L2715 4278L2720 4295L2725 4301L2730 4272L2735 4299L2740 4316L2745 4317L2750 4317L2755 4313L2760 4298L2765 4317L2770 4314L2775 4302L2780 4303L2785 4312L2790 4314L2795 4313L2800 4311L2805 4307L2810 4305L2815 4302L2820 4313L2825 4297L2830 4300L2835 4312L2840 4315L2845 4296L2850 4317L2855 4317L2860 4310L2865 4302L2870 4294L2875 4287L2880 4312L2885 4308L2890 4298L2895 4301L2900 4317L2905 4311L2910 4287L2915 4302L2920 4306L2925 4315L2930 4316L2935 4299L2940 4268L2945 4272L2950 4301L2955 4306L2960 4306L2965 4286L2970 4315L2975 4313L2980 4315L2985 4314L2990 4317L2995 4310L3000 4287L3005 4315L3010 4316L3015 4315L3020 4297L3025 4313L3030 4306L3035 4286L3040 4317L3045 4305L3050 4310L3055 4314L3060 4310L3065 4312L3070 4307L3075 4315L3080 4315L3085 4309L3090 4304L3095 4313L3100 4289L3105 4294L3110 4301L3115 4288L3120 4286L3125 4286L3130 4317L3135 4290L3140 4307L3145 4317L3150 4307L3155 4292L3160 4303L3165 4306L3170 4291L3175 4290L3180 4311L3185 4304L3190 4317L3195 4317L3200 4317L3205 4307L3210 4309L3215 4313L3220 4299L3225 4293L3230 4305L3235 4299L3240 4300L3245 4314L3250 4304L3255 4291L3260 4301L3265 4315L3270 4292L3275 4304L3280 4300L3285 4278L3290 4315L3295 4306L3300 4312L3305 4282L3310 4307L3315 4316L3320 4306L3325 4310L3330 4297L3335 4284L3340 4267L3345 4275L3350 4303L3355 4277L3360 4296L3365 4312L3370 4310L3375 4317L3380 4305L3385 4293L3390 4299L3395 4299L3400 4303L3405 4278L3410 4298L3415 4300L3420 4309L3425 4307L3430 4290L3435 4294L3440 4305L3445 4297L3450 4290L3455 4281L3460 4314L3465 4317L3470 4290L3475 4316L3480 4289L3485 4312L3490 4286L3495 4303L3500 4314L3505 4317L3510 4317L3515 4304L3520 4315L3525 4313L3530 4317L3535 4306L3540 4314L3545 4292L3550 4307L3555 4307L3560 4312L3565 4317L3570 4307L3575 4314L3580 4293L3585 4292L3590 4308L3595 4295L3600 4315L3605 4298L3610 4315L3615 4315L3620 4291L3625 4299L3630 4313L3635 4312L3640 4303L3645 4307L3650 4292L3655 4308L3660 4313L3665 4302L3670 4302L3675 4305L3680 4297L3685 4307L3690 4300L3695 4315L3700 4316L3705 4317L3710 4315L3715 4303L3720 4297L3725 4306L3730 4292L3735 4317L3740 4314L3745 4317L3750 4317L3755 4307L3760 4301L3765 4307L3770 4316L3775 4302L3780 4289L3785 4287L3790 4305L3795 4302L3800 4317L3805 4313L3810 4290L3815 4315L3820 4297L3825 4315L3830 4293L3835 4314L3840 4311L3845 4301L3850 4317L3855 4300L3860 4295L3865 4308L3870 4305L3875 4317L3880 4314L3885 4300L3890 4316L3895 4317L3900 4305L3905 4315L3910 4316L3915 4306L3920 4304L3925 4296L3930 4303L3935 4309L3940 4304L3945 4275L3950 4299L3955 4301L3960 4283L3965 4309L3970 4312L3975 4257L3980 4309L3985 4296L3990 4313L3995 4305L4000 4270L4005 4314L4010 4297L4015 4311L4020 4306L4025 4304L4030 4313L4035 4284L4040 4306L4045 4314L4050 4307L4055 4312L4060 4288L4065 4295L4070 4293L4075 4313L4080 4300L4085 4290L4090 4312L4095 4317L4100 4304L4105 4314L4110 4311L4115 4294L4120 4317L4125 4312L4130 4308L4135 4317L4140 4317L4145 4317L4150 4297L4155 4298L4160 4307L4165 4310L4170 4274L4175 4296L4180 4282L4185 4288L4190 4301L4195 4316L4200 4309L4205 4292L4210 4280L4215 4301L4220 4306L4225 4314L4230 4317L4235 4302L4240 4317L4245 4307L4250 4295L4255 4317L4260 4314L4265 4317L4270 4299L4275 4307L4280 4295L4285 4316L4290 4304L4295 4312L4300 4300L4305 4303L4310 4317L4315 4317L4320 4312L4325 4311L4330 4317L4335 4317L4340 4313L4345 4302L4350 4294L4355 4317L4360 4299L4365 4313L4370 4312L4375 4306L4380 4308L4385 4313L4390 4301L4395 4317L4400 4301L4405 4306L4410 4311L4415 4312L4420 4293L4425 4316L4430 4286L4435 4271L4440 4286L4445 4252L4450 4272L4455 4309L4460 4252L4465 4301L4470 4316L4475 4311L4480 4310L4485 4316L4490 4300L4495 4316L4500 4308L4505 4291L4510 4303L4515 4303L4520 4308L4525 4312L4530 4310L4535 4281L4540 4302L4545 4307L4550 4302L4555 4283L4560 4317L4565 4292L4570 4316L4575 4304L4580 4291L4585 4306L4590 4281L4595 4291L4600 4312L4605 4303L4610 4310L4615 4276L4620 4277L4625 4297L4630 4246L4635 4285L4640 4304L4645 4239L4650 4307L4655 4308L4660 4307L4665 4251L4670 4248L4675 4277L4680 4305L4685 4274L4690 4261L4695 4273L4700 4269L4705 4300L4710 4314L4715 4286L4720 4288L4725 4293L4730 4285L4735 4289L4740 4311L4745 4302L4750 4310L4755 4311L4760 4275L4765 4256L4770 4277L4775 4255L4780 4303L4785 4297L4790 4264L4795 4286L4800 4270L4805 4290L4810 4241L4815 4277L4820 4245L4825 4310L4830 4257L4835 4310L4840 4284L4845 4273L4850 4253L4855 4246L4860 4300L4865 4260L4870 4288L4875 4263L4880 4254L4885 4241L4890 4297L4895 4292L4900 4307L4905 4259L4910 4244L4915 4299L4920 4296L4925 4291L4930 4297L4935 4309L4940 4254L4945 4259L4950 4277L4955 4308L4960 4251L4965 4253L4970 4249L4975 4264L4980 4281L4985 4303L4990 4264L4995 4308L5000 4282L5005 4309L5010 4313L5015 4317L5020 4317L5025 4310L5030 4301L5035 4314L5040 4292L5045 4317L5050 4309L5055 4313L5060 4309L5065 4303L5070 4303L5075 4291L5080 4317L5085 4291L5090 4313L5095 4306L5100 4308L5105 4301L5110 4312L5115 4293L5120 4312L5125 4301L5130 4310L5135 4306L5140 4301L5145 4301L5150 4290L5155 4311L5160 4283L5165 4281L5170 4309L5175 4303L5180 4310L5185 4286L5190 4314L5195 4296L5200 4303L5205 4289L5210 4307L5215 4301L5220 4292L5225 4317L5230 4300L5235 4284L5240 4317L5245 4316L5250 4288L5255 4313L5260 4305L5265 4317L5270 4283L5275 4306L5280 4316L5285 4313L5290 4306L5295 4308L5300 4294L5305 4316L5310 4312L5315 4303L5320 4308L5325 4289L5330 4317L5335 4317L5340 4312L5345 4295L5350 4300L5355 4299L5360 4316L5365 4316L5370 4317L5375 4298L5380 4293L5385 4317L5390 4286L5395 4300L5400 4314L5405 4290L5410 4311L5415 4301L5420 4304L5425 4307L5430 4299L5435 4296L5440 4293L5445 4295L5450 4309L5455 4311L5460 4293L5465 4294L5470 4314L5475 4280L5480 4312L5485 4291L5490 4297L5495 4304L5500 4316L5505 4317L5510 4290L5515 4314L5520 4293L5525 4311L5530 4291L5535 4298L5540 4279L5545 4300L5550 4316L5555 4317L5560 4313L5565 4307L5570 4297L5575 4286L5580 4317L5585 4315L5590 4314L5595 4307L5600 4316L5605 4311L5610 4304L5615 4293L5620 4314L5625 4291L5630 4316L5635 4317L5640 4317L5645 4317L5650 4317L5655 4314L5660 4289L5665 4294L5670 4308L5675 4307L5680 4317L5685 4317L5690 4311L5695 4302L5700 4308L5705 4313L5710 4317L5715 4298L5720 4312L5725 4314L5730 4317L5735 4317L5740 4303L5745 4296L5750 4312L5755 4306L5760 4306L5765 4299L5770 4310L5775 4309L5780 4308L5785 4307L5790 4288L5795 4305L5800 4293L5805 4305L5810 4317L5815 4316L5820 4317L5825 4317L5830 4299L5835 4289L5840 4310L5845 4286L5850 4308L5855 4312L5860 4302L5865 4288L5870 4317L5875 4289L5880 4317L5885 4312L5890 4300L5895 4308L5900 4317L5905 4317L5910 4314L5915 4316L5920 4293L5925 4287L5930 4303L5935 4312L5940 4267L5945 4305L5950 4259L5955 4249L5960 4203L5965 4176L5970 4256L5975 4278L5980 4225L5985 4261L5990 4280L5995 4292L6000 4289L6005 4300L6010 4225L6015 4250L6020 4298L6025 4245L6030 4293L6035 4302L6040 4287L6045 4286L6050 4269L6055 4305L6060 4291L6065 4278L6070 4306L6075 4298L6080 4253L6085 4270L6090 4278L6095 4299L6100 4291L6105 4299L6110 4262L6115 4297L6120 4280L6125 4258L6130 4296L6135 4226L6140 4287L6145 4246L6150 4292L6155 4280L6160 4264L6165 4232L6170 4219L6175 4254L6180 4283L6185 4255L6190 4273L6195 4277L6200 4254L6205 4295L6210 4242L6215 4295L6220 4169L6225 4179L6230 4098L6235 4153L6240 4138L6245 4270L6250 4261L6255 4270L6260 4256L6265 4259L6270 4037L6275 4149L6280 4219L6285 4063L6290 4200L6295 4279L6300 4261L6305 4220L6310 4238L6315 4137L6320 4252L6325 4199L6330 4244L6335 4300L6340 4215L6345 4231L6350 4234L6355 4204L6360 4270L6365 4269L6370 4264L6375 4304L6380 4252L6385 4314L6390 4316L6395 4310L6400 4314L6405 4316L6410 4293L6415 4309L6420 4281L6425 4276L6430 4303L6435 4280L6440 4300L6445 4282L6450 4303L6455 4314L6455 4333L6450 4354L6445 4358L6440 4359L6435 4337L6430 4376L6425 4382L6420 4359L6415 4358L6410 4346L6405 4348L6400 4349L6395 4351L6390 4334L6385 4356L6380 4397L6375 4356L6370 4405L6365 4401L6360 4360L6355 4444L6350 4348L6345 4385L6340 4383L6335 4375L6330 4390L6325 4449L6320 4372L6315 4436L6310 4384L6305 4442L6300 4403L6295 4520L6290 4421L6285 4476L6280 4596L6275 4398L6270 4385L6265 4514L6260 4433L6255 4399L6250 4484L6245 4372L6240 4392L6235 4456L6230 4470L6225 4498L6220 4496L6215 4494L6210 4387L6205 4367L6200 4420L6195 4399L6190 4411L6185 4410L6180 4380L6175 4369L6170 4437L6165 4408L6160 4431L6155 4359L6150 4371L6145 4411L6140 4383L6135 4376L6130 4376L6125 4344L6120 4401L6115 4402L6110 4375L6105 4339L6100 4375L6095 4337L6090 4347L6085 4372L6080 4346L6075 4386L6070 4366L6065 4337L6060 4336L6055 4342L6050 4347L6045 4343L6040 4335L6035 4351L6030 4351L6025 4393L6020 4363L6015 4384L6010 4414L6005 4413L6000 4419L5995 4356L5990 4366L5985 4404L5980 4373L5975 4361L5970 4423L5965 4371L5960 4360L5955 4460L5950 4404L5945 4424L5940 4384L5935 4393L5930 4382L5925 4348L5920 4342L5915 4345L5910 4347L5905 4340L5900 4358L5895 4334L5890 4351L5885 4357L5880 4368L5875 4333L5870 4334L5865 4360L5860 4333L5855 4354L5850 4335L5845 4333L5840 4348L5835 4358L5830 4356L5825 4337L5820 4336L5815 4333L5810 4335L5805 4334L5800 4333L5795 4339L5790 4345L5785 4349L5780 4358L5775 4375L5770 4340L5765 4336L5760 4337L5755 4342L5750 4350L5745 4347L5740 4333L5735 4333L5730 4337L5725 4334L5720 4360L5715 4337L5710 4333L5705 4333L5700 4349L5695 4333L5690 4353L5685 4351L5680 4342L5675 4333L5670 4347L5665 4336L5660 4333L5655 4348L5650 4339L5645 4346L5640 4333L5635 4339L5630 4344L5625 4353L5620 4345L5615 4333L5610 4338L5605 4354L5600 4348L5595 4343L5590 4336L5585 4335L5580 4352L5575 4333L5570 4349L5565 4334L5560 4345L5555 4356L5550 4334L5545 4365L5540 4355L5535 4369L5530 4352L5525 4334L5520 4340L5515 4335L5510 4334L5505 4334L5500 4362L5495 4335L5490 4344L5485 4339L5480 4370L5475 4336L5470 4380L5465 4371L5460 4344L5455 4365L5450 4334L5445 4341L5440 4335L5435 4334L5430 4345L5425 4337L5420 4361L5415 4361L5410 4345L5405 4333L5400 4348L5395 4343L5390 4343L5385 4344L5380 4339L5375 4334L5370 4335L5365 4342L5360 4335L5355 4347L5350 4333L5345 4333L5340 4337L5335 4344L5330 4351L5325 4339L5320 4348L5315 4362L5310 4352L5305 4354L5300 4340L5295 4337L5290 4335L5285 4339L5280 4339L5275 4361L5270 4341L5265 4363L5260 4337L5255 4343L5250 4338L5245 4341L5240 4352L5235 4363L5230 4358L5225 4343L5220 4363L5215 4333L5210 4334L5205 4336L5200 4337L5195 4370L5190 4347L5185 4359L5180 4365L5175 4363L5170 4355L5165 4333L5160 4365L5155 4351L5150 4359L5145 4333L5140 4363L5135 4353L5130 4340L5125 4335L5120 4350L5115 4334L5110 4339L5105 4347L5100 4336L5095 4335L5090 4342L5085 4353L5080 4358L5075 4349L5070 4334L5065 4339L5060 4334L5055 4354L5050 4349L5045 4348L5040 4346L5035 4356L5030 4353L5025 4349L5020 4333L5015 4336L5010 4343L5005 4339L5000 4334L4995 4375L4990 4340L4985 4384L4980 4363L4975 4361L4970 4390L4965 4354L4960 4345L4955 4366L4950 4387L4945 4369L4940 4343L4935 4341L4930 4375L4925 4345L4920 4349L4915 4359L4910 4382L4905 4356L4900 4357L4895 4421L4890 4391L4885 4393L4880 4342L4875 4357L4870 4365L4865 4345L4860 4401L4855 4392L4850 4344L4845 4383L4840 4339L4835 4375L4830 4353L4825 4406L4820 4387L4815 4357L4810 4411L4805 4342L4800 4366L4795 4346L4790 4365L4785 4359L4780 4373L4775 4394L4770 4368L4765 4352L4760 4367L4755 4347L4750 4380L4745 4399L4740 4388L4735 4335L4730 4334L4725 4363L4720 4335L4715 4335L4710 4348L4705 4362L4700 4377L4695 4384L4690 4336L4685 4355L4680 4365L4675 4367L4670 4377L4665 4365L4660 4367L4655 4381L4650 4349L4645 4406L4640 4344L4635 4396L4630 4387L4625 4410L4620 4375L4615 4360L4610 4356L4605 4383L4600 4341L4595 4374L4590 4389L4585 4363L4580 4343L4575 4338L4570 4335L4565 4355L4560 4368L4555 4337L4550 4334L4545 4363L4540 4339L4535 4340L4530 4378L4525 4336L4520 4348L4515 4356L4510 4345L4505 4366L4500 4344L4495 4333L4490 4342L4485 4352L4480 4359L4475 4335L4470 4361L4465 4344L4460 4353L4455 4388L4450 4351L4445 4352L4440 4379L4435 4362L4430 4343L4425 4364L4420 4337L4415 4349L4410 4333L4405 4333L4400 4333L4395 4333L4390 4334L4385 4336L4380 4336L4375 4340L4370 4337L4365 4341L4360 4335L4355 4343L4350 4341L4345 4350L4340 4341L4335 4338L4330 4344L4325 4346L4320 4341L4315 4345L4310 4356L4305 4348L4300 4333L4295 4345L4290 4343L4285 4360L4280 4333L4275 4360L4270 4339L4265 4339L4260 4346L4255 4336L4250 4355L4245 4356L4240 4358L4235 4335L4230 4340L4225 4363L4220 4333L4215 4339L4210 4360L4205 4336L4200 4344L4195 4339L4190 4336L4185 4382L4180 4364L4175 4351L4170 4360L4165 4343L4160 4334L4155 4354L4150 4338L4145 4338L4140 4333L4135 4342L4130 4350L4125 4356L4120 4336L4115 4333L4110 4334L4105 4336L4100 4333L4095 4349L4090 4348L4085 4367L4080 4349L4075 4360L4070 4335L4065 4363L4060 4339L4055 4355L4050 4346L4045 4335L4040 4374L4035 4361L4030 4347L4025 4348L4020 4379L4015 4387L4010 4357L4005 4343L4000 4334L3995 4355L3990 4337L3985 4371L3980 4384L3975 4341L3970 4342L3965 4392L3960 4346L3955 4349L3950 4372L3945 4337L3940 4369L3935 4347L3930 4337L3925 4333L3920 4334L3915 4333L3910 4333L3905 4336L3900 4353L3895 4337L3890 4342L3885 4333L3880 4333L3875 4333L3870 4333L3865 4352L3860 4339L3855 4348L3850 4334L3845 4336L3840 4360L3835 4353L3830 4368L3825 4339L3820 4368L3815 4333L3810 4337L3805 4355L3800 4336L3795 4333L3790 4343L3785 4335L3780 4333L3775 4351L3770 4333L3765 4348L3760 4344L3755 4338L3750 4343L3745 4333L3740 4340L3735 4336L3730 4343L3725 4334L3720 4337L3715 4358L3710 4344L3705 4341L3700 4333L3695 4345L3690 4335L3685 4339L3680 4350L3675 4333L3670 4333L3665 4348L3660 4334L3655 4334L3650 4369L3645 4375L3640 4352L3635 4381L3630 4349L3625 4368L3620 4381L3615 4360L3610 4375L3605 4364L3600 4347L3595 4365L3590 4362L3585 4339L3580 4358L3575 4337L3570 4334L3565 4333L3560 4337L3555 4333L3550 4333L3545 4364L3540 4336L3535 4339L3530 4342L3525 4360L3520 4344L3515 4333L3510 4333L3505 4346L3500 4340L3495 4355L3490 4346L3485 4333L3480 4334L3475 4365L3470 4344L3465 4333L3460 4347L3455 4362L3450 4343L3445 4340L3440 4344L3435 4335L3430 4365L3425 4365L3420 4345L3415 4340L3410 4355L3405 4343L3400 4365L3395 4338L3390 4349L3385 4338L3380 4338L3375 4347L3370 4334L3365 4347L3360 4340L3355 4337L3350 4342L3345 4350L3340 4339L3335 4335L3330 4335L3325 4355L3320 4347L3315 4353L3310 4335L3305 4352L3300 4366L3295 4336L3290 4345L3285 4346L3280 4344L3275 4334L3270 4345L3265 4352L3260 4360L3255 4366L3250 4345L3245 4344L3240 4341L3235 4358L3230 4338L3225 4333L3220 4335L3215 4346L3210 4333L3205 4351L3200 4333L3195 4341L3190 4349L3185 4336L3180 4333L3175 4346L3170 4348L3165 4333L3160 4333L3155 4357L3150 4339L3145 4345L3140 4333L3135 4333L3130 4333L3125 4355L3120 4338L3115 4334L3110 4342L3105 4359L3100 4354L3095 4349L3090 4333L3085 4340L3080 4340L3075 4356L3070 4333L3065 4355L3060 4334L3055 4333L3050 4359L3045 4333L3040 4353L3035 4345L3030 4337L3025 4368L3020 4354L3015 4336L3010 4370L3005 4366L3000 4343L2995 4350L2990 4339L2985 4363L2980 4336L2975 4343L2970 4340L2965 4334L2960 4358L2955 4348L2950 4341L2945 4361L2940 4347L2935 4336L2930 4373L2925 4355L2920 4363L2915 4362L2910 4356L2905 4335L2900 4335L2895 4342L2890 4368L2885 4368L2880 4341L2875 4333L2870 4358L2865 4345L2860 4334L2855 4333L2850 4337L2845 4349L2840 4356L2835 4347L2830 4333L2825 4335L2820 4346L2815 4346L2810 4368L2805 4352L2800 4336L2795 4334L2790 4349L2785 4360L2780 4340L2775 4334L2770 4333L2765 4336L2760 4346L2755 4339L2750 4345L2745 4346L2740 4353L2735 4355L2730 4336L2725 4376L2720 4349L2715 4355L2710 4338L2705 4337L2700 4347L2695 4363L2690 4334L2685 4363L2680 4349L2675 4338L2670 4338L2665 4358L2660 4373L2655 4349L2650 4334L2645 4335L2640 4335L2635 4357L2630 4361L2625 4335L2620 4366L2615 4335L2610 4376L2605 4367L2600 4352L2595 4356L2590 4375L2585 4372L2580 4334L2575 4366L2570 4351L2565 4334L2560 4366L2555 4362L2550 4343L2545 4344L2540 4355L2535 4351L2530 4344L2525 4347L2520 4357L2515 4339L2510 4333L2505 4360L2500 4349L2495 4368L2490 4353L2485 4367L2480 4361L2475 4338L2470 4349L2465 4358L2460 4346L2455 4381L2450 4406L2445 4354L2440 4344L2435 4347L2430 4364L2425 4352L2420 4338L2415 4356L2410 4342L2405 4333L2400 4355L2395 4354L2390 4336L2385 4353L2380 4351L2375 4365L2370 4337L2365 4340L2360 4333L2355 4351L2350 4339L2345 4344L2340 4346L2335 4361L2330 4337L2325 4339L2320 4375L2315 4364L2310 4345L2305 4333L2300 4362L2295 4333L2290 4350L2285 4345L2280 4352L2275 4365L2270 4378L2265 4346L2260 4377L2255 4376L2250 4343L2245 4360L2240 4333L2235 4357L2230 4363L2225 4335L2220 4366L2215 4339L2210 4339L2205 4366L2200 4335L2195 4362L2190 4349L2185 4356L2180 4338L2175 4371L2170 4361L2165 4346L2160 4336L2155 4368L2150 4359L2145 4363L2140 4339L2135 4352L2130 4375L2125 4370L2120 4348L2115 4347L2110 4339L2105 4333L2100 4333L2095 4366L2090 4363L2085 4346L2080 4342L2075 4368L2070 4337L2065 4340L2060 4344L2055 4340L2050 4338L2045 4370L2040 4356L2035 4371L2030 4340L2025 4343L2020 4355L2015 4392L2010 4396L2005 4357L2000 4352L1995 4338L1990 4385L1985 4347L1980 4338L1975 4374L1970 4373L1965 4355L1960 4340L1955 4364L1950 4381L1945 4340L1940 4336L1935 4365L1930 4352L1925 4350L1920 4364L1915 4350L1910 4396L1905 4347L1900 4366L1895 4336L1890 4341L1885 4371L1880 4357L1875 4375L1870 4355L1865 4351L1860 4354L1855 4345L1850 4381L1845 4368L1840 4344L1835 4376L1830 4355L1825 4356L1820 4339L1815 4366L1810 4341L1805 4369L1800 4376L1795 4334L1790 4364L1785 4362L1780 4366L1775 4361L1770 4348L1765 4336L1760 4339L1755 4334L1750 4349L1745 4363L1740 4352L1735 4346L1730 4343L1725 4375L1720 4361L1715 4389L1710 4358L1705 4365L1700 4357L1695 4348L1690 4337L1685 4335L1680 4357L1675 4339L1670 4339L1665 4347L1660 4334L1655 4335L1650 4347L1645 4358L1640 4349L1635 4371L1630 4374L1625 4347L1620 4347L1615 4385L1610 4343L1605 4347L1600 4356L1595 4382L1590 4383L1585 4343L1580 4351L1575 4355L1570 4336L1565 4350L1560 4351L1555 4342L1550 4356L1545 4338L1540 4341L1535 4343L1530 4363L1525 4354L1520 4336L1515 4344L1510 4334L1505 4356L1500 4360L1495 4370L1490 4369L1485 4338L1480 4355L1475 4372L1470 4388L1465 4380L1460 4385L1455 4366L1450 4339L1445 4335L1440 4335L1435 4333L1430 4342L1425 4353L1420 4333L1415 4333L1410 4339L1405 4350L1400 4352L1395 4336L1390 4348L1385 4352L1380 4342L1375 4354L1370 4367L1365 4346L1360 4343L1355 4368L1350 4378L1345 4353L1340 4334L1335 4343L1330 4364L1325 4355L1320 4336L1315 4340L1310 4343L1305 4344L1300 4345L1295 4347L1290 4360L1285 4337L1280 4394L1275 4363L1270 4350L1265 4388L1260 4366L1255 4381L1250 4395L1245 4371L1240 4351L1235 4352L1230 4446L1225 4438L1220 4374L1215 4400L1210 4384L1205 4364L1200 4344L1195 4347L1190 4395L1185 4343L1180 4368L1175 4382L1170 4427L1165 4350L1160 4367L1155 4354L1150 4383L1145 4360L1140 4349L1135 4356L1130 4368L1125 4341L1120 4389L1115 4349L1110 4391L1105 4338L1100 4352L1095 4418L1090 4370L1085 4354L1080 4423L1075 4380L1070 4340L1065 4364L1060 4361L1055 4338L1050 4365L1045 4377L1040 4369L1035 4350L1030 4340L1025 4347L1020 4342L1015 4399L1010 4345L1005 4338L1000 4364L995 4342L990 4367L985 4367L980 4338L975 4335L970 4355L965 4354L960 4345L955 4351L950 4400L945 4450L940 4400L935 4354L930 4359L925 4401L920 4354L915 4433L910 4388L905 4348L900 4359L895 4371L890 4346L885 4394L880 4383L875 4352L870 4368L865 4365L860 4342L855 4343L850 4359L845 4389L840 4358L835 4361L830 4358L825 4359L820 4361L815 4352L810 4346L805 4335L800 4379L795 4339L790 4362L785 4359L780 4372L775 4360L770 4337L765 4343L760 4364L755 4352L750 4371L745 4351L740 4350L735 4346L730 4357L725 4340L720 4356L715 4352L710 4338L705 4345L700 4337L695 4335L690 4338L685 4347L680 4337L675 4335L670 4334L665 4334L660 4357L655 4366L650 4335L645 4338L640 4361L635 4359L630 4347L625 4338L620 4370L615 4343L610 4355L605 4367L600 4335L595 4345L590 4335L585 4337L580 4374L575 4356L570 4355L565 4344L560 4339L555 4367L550 4358L545 4344L540 4336L535 4333L530 4338L525 4333L520 4333L515 4337L510 4344L505 4349L500 4334L495 4338L490 4357L485 4333L480 4333L475 4358L470 4335L465 4335L460 4333L455 4349L450 4346L445 4335L440 4342L435 4377Z" fill="#0000ff"/>
<path d="M438 4296v54M448 4238v148M458 4300v95M468 4294v115M478 4265v85M488 4287v87M498 4291v64M508 4305v40M518 4302v79M528 4305v43M538 4273v100M548 4260v135M558 4276v109M568 4193v184M578 4291v64M588 4288v65M598 4290v74M608 4230v136M618 4292v81M628 4220v208M638 4273v121M648 4287v129M658 4297v60M668 4301v121M678 4217v140M688 4256v135M698 4276v81M708 4277v84M718 4253v141M728 4303v74M738 4278v66M748 4283v75M758 4304v42M768 4268v136M778 4221v189M788 4279v111M798 4295v83M808 4300v76M818 4279v94M828 4267v80M838 4283v72M848 4241v173M858 4217v283M868 4238v204M878 4140v315M888 4133v443M898 4115v327M908 4232v149M918 4190v285M928 4243v201M938 4260v114M948 4271v127M958 4237v130M968 4293v74M978 4290v135M988 4278v141M998 4249v132M1008 4260v93M1018 4253v96M1028 4296v104M1038 4273v103M1048 4300v66M1058 4275v106M1068 4277v85M1078 4273v109M1088 4238v168M1098 4240v216M1108 4271v113M1118 4273v191M1128 4191v228M1138 4201v238M1148 4155v273M1158 4204v236M1168 4202v259M1178 4174v305M1188 4074v365M1198 4244v220M1208 4206v296M1218 4211v317M1228 4263v151M1238 4265v147M1248 4225v269M1258 4230v200M1268 4242v244M1278 4251v132M1288 4283v97M1298 4288v84M1308 4303v79M1318 4293v55M1328 4224v140M1338 4274v203M1348 4210v173M1358 4207v214M1368 4283v175M1378 4295v57M1388 4198v185M1398 4218v133M1408 4265v112M1418 4288v117M1428 4271v103M1438 4275v76M1448 4297v69M1458 4218v178M1468 4295v78M1478 4248v101M1488 4275v156M1498 4282v139M1508 4282v100M1518 4216v212M1528 4256v118M1538 4217v171M1548 4272v163M1558 4233v167M1568 4300v55M1578 4304v98M1588 4301v46M1598 4265v87M1608 4246v181M1618 4257v103M1628 4250v118M1638 4244v109M1648 4293v77M1658 4289v110M1668 4287v77M1678 4290v78M1688 4298v126M1698 4259v108M1708 4270v140M1718 4226v146M1728 4291v114M1738 4263v96M1748 4288v105M1758 4275v76M1768 4245v128M1778 4240v172M1788 4268v145M1798 4272v79M1808 4257v114M1818 4274v120M1828 4301v56M1838 4225v217M1848 4269v99M1858 4215v259M1868 4267v178M1878 4225v231M1888 4284v92M1898 4295v60M1908 4265v149M1918 4285v134M1928 4270v81M1938 4251v160M1948 4236v200M1958 4203v162M1968 4286v141M1978 4300v76M1988 4302v55M1998 4291v138M2008 4292v125M2018 4284v147M2028 4287v92M2038 4253v199M2048 4232v148M2058 4250v116M2068 4260v102M2078 4283v151M2088 4298v75M2098 4302v98M2108 4252v120M2118 4295v53M2128 4280v90M2138 4270v85M2148 4309v35M2158 4291v74M2168 4275v83M2178 4217v162M2188 4289v133M2198 4269v86M2208 4289v52M2218 4309v58M2228 4292v53M2238 4262v100M2248 4260v98M2258 4255v110M2268 4302v82M2278 4288v96M2288 4254v121M2298 4217v138M2308 4276v112M2318 4296v68M2328 4299v70M2338 4301v72M2348 4289v53M2358 4302v67M2368 4297v67M2378 4274v95M2388 4289v95M2398 4269v119M2408 4247v135M2418 4247v110M2428 4249v172M2438 4258v158M2448 4293v74M2458 4253v156M2468 4288v65M2478 4297v71M2488 4289v73M2498 4257v113M2508 4269v77M2518 4299v53M2528 4296v79M2538 4237v128M2548 4293v129M2558 4291v106M2568 4273v81M2578 4301v48M2588 4237v125M2598 4231v180M2608 4258v171M2618 4291v61M2628 4255v138M2638 4279v65M2648 4280v87M2658 4304v54M2668 4302v53M2678 4274v73M2688 4290v86M2698 4289v69M2708 4281v89M2718 4305v41M2728 4270v91M2738 4280v66M2748 4309v64M2758 4289v62M2768 4305v61M2778 4294v73M2788 4305v50M2798 4297v78M2808 4291v82M2818 4298v111M2828 4247v139M2838 4297v92M2848 4296v62M2858 4300v95M2868 4301v85M2878 4292v107M2888 4293v113M2898 4265v87M2908 4302v38M2918 4301v65M2928 4309v52M2938 4299v43M2948 4276v110M2958 4301v64M2968 4231v189M2978 4262v119M2988 4251v105M2998 4281v132M3008 4281v86M3018 4279v96M3028 4302v38M3038 4263v123M3048 4291v122M3058 4256v99M3068 4259v141M3078 4227v149M3088 4302v67M3098 4287v90M3108 4306v55M3118 4284v60M3128 4272v101M3138 4276v94M3148 4264v100M3158 4244v119M3168 4240v116M3178 4299v65M3188 4246v180M3198 4299v61M3208 4297v74M3218 4303v67M3228 4305v56M3238 4289v119M3248 4257v90M3258 4303v45M3268 4311v63M3278 4283v89M3288 4283v56M3298 4284v88M3308 4290v78M3318 4285v132M3328 4237v156M3338 4303v87M3348 4298v63M3358 4296v90M3368 4304v39M3378 4311v68M3388 4301v46M3398 4269v93M3408 4298v69M3418 4289v86M3428 4283v88M3438 4264v128M3448 4299v106M3458 4283v68M3468 4305v40M3478 4290v55M3488 4305v34M3498 4301v101M3508 4249v103M3518 4240v115M3528 4251v99M3538 4284v68M3548 4285v70M3558 4273v70M3568 4271v75M3578 4264v124M3588 4247v104M3598 4300v60M3608 4296v81M3618 4305v45M3628 4303v41M3638 4304v76M3648 4298v61M3658 4298v87M3668 4279v87M3678 4278v101M3688 4302v60M3698 4309v68M3708 4308v58M3718 4294v56M3728 4280v61M3738 4312v39M3748 4311v63M3758 4288v56M3768 4247v102M3778 4298v56M3788 4276v110M3798 4301v116M3808 4273v122M3818 4302v101M3828 4303v91M3838 4249v117M3848 4298v52M3858 4294v95M3868 4242v126M3878 4301v49M3888 4307v36M3898 4306v50M3908 4301v82M3918 4303v85M3928 4289v72M3938 4269v110M3948 4238v207M3958 4220v182M3968 4267v108M3978 4284v137M3988 4236v180M3998 4248v132M4008 4231v145M4018 4297v64M4028 4240v148M4038 4186v210M4048 4275v83M4058 4286v114M4068 4300v45M4078 4296v53M4088 4300v66M4098 4286v98M4108 4302v78M4118 4266v148M4128 4291v57M4138 4290v61M4148 4299v61M4158 4295v72M4168 4267v89M4178 4289v64M4188 4294v43M4198 4289v47M4208 4273v79M4218 4288v65M4228 4280v128M4238 4279v107M4248 4264v148M4258 4299v84M4268 4306v69M4278 4294v85M4288 4301v60M4298 4286v63M4308 4301v104M4318 4267v91M4328 4246v119M4338 4309v53M4348 4303v53M4358 4277v95M4368 4302v81M4378 4272v80M4388 4286v55M4398 4291v50M4408 4277v71M4418 4304v44M4428 4239v143M4438 4310v50M4448 4309v43M4458 4313v54M4468 4312v35M4478 4255v106M4488 4263v105M4498 4258v109M4508 4283v93M4518 4239v120M4528 4270v84M4538 4283v158M4548 4226v181M4558 4115v259M4568 4253v166M4578 4246v118M4588 4261v177M4598 4224v217M4608 4199v171M4618 4172v253M4628 4169v263M4638 4266v275M4648 4142v324M4658 4161v293M4668 4242v275M4678 4148v348M4688 4206v223M4698 4244v192M4708 4285v85M4718 4224v165M4728 4237v126M4738 4262v144M4748 4188v181M4758 4272v149M4768 4254v102M4778 4253v136M4788 4291v79M4798 4240v128M4808 4258v205M4818 4281v148M4828 4286v82M4838 4267v199M4848 4162v206M4858 4208v155M4868 4276v86M4878 4301v71M4888 4284v107M4898 4288v95M4908 4266v87M4918 4206v238M4928 4290v81M4938 4271v98M4948 4202v272M4958 4247v116M4968 4188v308M4978 4263v223M4988 4213v177M4998 4289v108M5008 4307v37M5018 4274v78M5028 4302v79M5038 4302v54M5048 4293v54M5058 4251v135M5068 4269v92M5078 4305v44M5088 4282v126M5098 4257v159M5108 4281v75M5118 4264v94M5128 4291v102M5138 4298v75M5148 4313v29M5158 4306v39M5168 4249v114M5178 4293v61M5188 4302v53M5198 4272v74M5208 4288v97M5218 4306v72M5228 4305v67M5238 4288v52M5248 4311v29M5258 4277v68M5268 4294v107M5278 4291v116M5288 4265v95M5298 4282v59M5308 4287v73M5318 4293v80M5328 4307v35M5338 4271v74M5348 4292v65M5358 4257v84M5368 4293v53M5378 4256v85M5388 4287v101M5398 4274v80M5408 4280v111M5418 4310v78M5428 4247v96M5438 4291v57M5448 4299v53M5458 4310v63M5468 4296v41M5478 4261v120M5488 4295v65M5498 4279v84M5508 4261v116M5518 4256v100M5528 4217v186M5538 4288v70M5548 4275v122M5558 4271v139M5568 4287v81M5578 4286v97M5588 4251v93M5598 4279v105M5608 4226v138M5618 4286v58M5628 4305v67M5638 4313v39M5648 4290v74M5658 4314v27M5668 4297v80M5678 4261v91M5688 4298v63M5698 4301v81M5708 4284v85M5718 4236v114M5728 4228v124M5738 4296v52M5748 4294v62M5758 4292v119M5768 4256v157M5778 4235v115M5788 4302v123M5798 4283v97M5808 4254v158M5818 4239v115M5828 4256v121M5838 4296v89M5848 4289v47M5858 4300v43M5868 4295v57M5878 4308v40M5888 4303v81M5898 4235v196M5908 4301v70M5918 4256v96M5928 4208v160M5938 4243v124M5948 4187v237M5958 4268v125M5968 4154v236M5978 4236v190M5988 4141v410M5998 4144v291M6008 4278v173M6018 4268v178M6028 4205v159M6038 4280v79M6048 4245v110M6058 4298v69M6068 4288v68M6078 4293v91M6088 4276v96M6098 4256v121M6108 4239v182M6118 4270v168M6128 4254v149M6138 4119v374M6148 4257v254M6158 4249v276M6168 4248v322M6178 4209v369M6188 4128v292M6198 4066v518M6208 4149v322M6218 4152v460M6228 4128v539M6238 4224v204M6248 4068v414M6258 4007v484M6268 3966v794M6278 4188v549M6288 4123v570M6298 4137v474M6308 4180v314M6318 4211v215M6328 4147v301M6338 4230v230M6348 4272v132M6358 4211v212M6368 4183v191M6378 4238v138M6388 4279v194M6398 4251v191M6408 4252v130M6418 4268v174M6428 4257v234M6438 4277v92M6448 4251v124" fill="none" stroke="#0000ff" stroke-width="5" stroke-opacity="0.8"/>
<path d="M442 4291v62M452 4295v90M462 4281v68M472 4276v86M482 4251v146M492 4296v54M502 4307v39M512 4291v62M522 4276v80M532 4306v54M542 4295v86M552 4293v74M562 4200v153M572 4237v161M582 4282v83M592 4289v105M602 4293v118M612 4238v211M622 4253v175M632 4248v133M642 4238v169M652 4242v148M662 4225v232M672 4224v231M682 4249v192M692 4240v138M702 4299v66M712 4302v47M722 4294v57M732 4253v100M742 4289v83M752 4293v71M762 4293v80M772 4272v92M782 4297v101M792 4272v131M802 4277v89M812 4218v204M822 4237v183M832 4253v103M842 4225v162M852 4218v153M862 4142v251M872 4151v373M882 4253v209M892 4188v303M902 4116v284M912 4042v382M922 4207v193M932 4254v165M942 4244v244M952 4241v241M962 4279v107M972 4269v75M982 4309v31M992 4301v77M1002 4239v142M1012 4254v145M1022 4263v94M1032 4292v125M1042 4301v74M1052 4301v56M1062 4262v97M1072 4191v237M1082 4264v221M1092 4198v313M1102 4250v211M1112 4163v206M1122 4285v142M1132 4167v303M1142 4124v334M1152 4257v186M1162 4259v163M1172 4227v239M1182 4111v293M1192 4159v325M1202 4222v346M1212 4130v368M1222 4154v318M1232 4233v154M1242 4190v188M1252 4268v224M1262 4143v234M1272 4282v185M1282 4280v188M1292 4223v156M1302 4222v139M1312 4281v101M1322 4290v74M1332 4293v78M1342 4223v190M1352 4261v109M1362 4265v97M1372 4196v168M1382 4275v131M1392 4241v116M1402 4209v201M1412 4187v167M1422 4280v111M1432 4208v147M1442 4295v99M1452 4302v116M1462 4292v68M1472 4291v75M1482 4213v149M1492 4271v170M1502 4278v110M1512 4262v164M1522 4299v99M1532 4296v77M1542 4294v115M1552 4297v116M1562 4246v107M1572 4300v79M1582 4243v197M1592 4235v118M1602 4284v109M1612 4234v193M1622 4291v133M1632 4192v203M1642 4213v173M1652 4299v126M1662 4234v119M1672 4237v121M1682 4297v105M1692 4267v96M1702 4239v111M1712 4264v103M1722 4196v160M1732 4292v107M1742 4255v108M1752 4279v121M1762 4220v143M1772 4282v74M1782 4271v129M1792 4302v76M1802 4275v75M1812 4285v86M1822 4253v126M1832 4237v134M1842 4272v93M1852 4242v207M1862 4199v187M1872 4273v123M1882 4265v112M1892 4285v77M1902 4286v102M1912 4284v169M1922 4172v310M1932 4283v126M1942 4180v183M1952 4282v88M1962 4273v178M1972 4230v152M1982 4281v73M1992 4252v119M2002 4237v133M2012 4274v89M2022 4254v182M2032 4298v60M2042 4286v103M2052 4277v132M2062 4235v165M2072 4292v78M2082 4209v151M2092 4251v130M2102 4258v113M2112 4244v152M2122 4306v39M2132 4309v67M2142 4302v71M2152 4279v101M2162 4295v62M2172 4300v63M2182 4263v123M2192 4254v134M2202 4260v147M2212 4238v122M2222 4248v129M2232 4295v58M2242 4305v91M2252 4302v81M2262 4293v116M2272 4283v85M2282 4298v75M2292 4275v82M2302 4239v134M2312 4225v175M2322 4290v58M2332 4285v79M2342 4274v84M2352 4303v48M2362 4268v105M2372 4250v109M2382 4241v114M2392 4261v112M2402 4279v90M2412 4261v101M2422 4298v80M2432 4271v108M2442 4292v89M2452 4249v145M2462 4258v144M2472 4245v139M2482 4302v50M2492 4277v124M2502 4284v103M2512 4258v99M2522 4301v70M2532 4302v40M2542 4304v91M2552 4294v71M2562 4294v67M2572 4267v87M2582 4290v86M2592 4274v89M2602 4291v79M2612 4263v107M2622 4295v105M2632 4297v95M2642 4295v105M2652 4274v75M2662 4275v105M2672 4293v52M2682 4297v55M2692 4276v79M2702 4255v125M2712 4274v89M2722 4286v109M2732 4301v65M2742 4305v74M2752 4308v40M2762 4309v31M2772 4267v96M2782 4277v79M2792 4294v108M2802 4280v128M2812 4273v79M2822 4290v89M2832 4302v46M2842 4272v128M2852 4272v76M2862 4301v85M2872 4264v116M2882 4274v100M2892 4265v89M2902 4305v80M2912 4276v123M2922 4261v140M2932 4269v106M2942 4298v48M2952 4297v83M2962 4271v76M2972 4284v111M2982 4261v92M2992 4288v65M3002 4252v167M3012 4242v155M3022 4239v153M3032 4277v80M3042 4292v88M3052 4280v110M3062 4261v120M3072 4284v76M3082 4300v64M3092 4295v83M3102 4291v131M3112 4250v111M3122 4291v111M3132 4297v60M3142 4291v85M3152 4306v64M3162 4278v61M3172 4302v43M3182 4239v119M3192 4288v124M3202 4262v109M3212 4291v73M3222 4285v77M3232 4259v88M3242 4305v42M3252 4261v86M3262 4306v76M3272 4275v93M3282 4269v76M3292 4288v104M3302 4288v68M3312 4268v74M3322 4276v68M3332 4283v85M3342 4294v49M3352 4308v41M3362 4304v62M3372 4285v83M3382 4292v115M3392 4277v79M3402 4283v73M3412 4299v52M3422 4298v81M3432 4303v50M3442 4305v57M3452 4299v87M3462 4295v80M3472 4307v30M3482 4282v84M3492 4305v40M3502 4297v47M3512 4246v161M3522 4262v125M3532 4237v121M3542 4284v66M3552 4305v43M3562 4308v75M3572 4291v60M3582 4270v130M3592 4292v119M3602 4276v76M3612 4282v118M3622 4301v105M3632 4298v95M3642 4289v106M3652 4234v117M3662 4303v44M3672 4292v110M3682 4301v50M3692 4286v120M3702 4275v134M3712 4273v103M3722 4252v145M3732 4296v69M3742 4259v147M3752 4237v118M3762 4264v130M3772 4291v92M3782 4293v96M3792 4297v93M3802 4280v84M3812 4306v63M3822 4292v54M3832 4308v42M3842 4310v42M3852 4313v25M3862 4312v33M3872 4297v60M3882 4292v47M3892 4295v41M3902 4309v30M3912 4272v146M3922 4224v195M3932 4267v112M3942 4272v143M3952 4274v134M3962 4286v95M3972 4249v124M3982 4287v92M3992 4297v100M4002 4247v101M4012 4297v65M4022 4294v64M4032 4263v131M4042 4268v87M4052 4256v98M4062 4300v42M4072 4281v82M4082 4280v64M4092 4286v55M4102 4271v88M4112 4287v60M4122 4301v52M4132 4296v87M4142 4281v91M4152 4279v74M4162 4258v132M4172 4284v78M4182 4268v123M4192 4300v84M4202 4299v71M4212 4307v51M4222 4283v56M4232 4300v43M4242 4264v104M4252 4306v48M4262 4294v57M4272 4231v134M4282 4286v70M4292 4272v146M4302 4293v106M4312 4282v69M4322 4301v52M4332 4300v64M4342 4284v80M4352 4310v45M4362 4285v58M4372 4298v41M4382 4281v77M4392 4272v71M4402 4304v55M4412 4259v99M4422 4286v62M4432 4249v105M4442 4298v74M4452 4297v54M4462 4307v55M4472 4268v96M4482 4273v121M4492 4238v123M4502 4281v74M4512 4297v86M4522 4298v57M4532 4297v54M4542 4280v77M4552 4270v131M4562 4228v189M4572 4203v223M4582 4293v61M4592 4238v142M4602 4286v103M4612 4247v140M4622 4256v163M4632 4266v84M4642 4292v57M4652 4241v141M4662 4287v81M4672 4262v156M4682 4207v253M4692 4280v159M4702 4284v78M4712 4242v117M4722 4267v114M4732 4282v78M4742 4189v253M4752 4264v184M4762 4256v177M4772 4278v178M4782 4248v122M4792 4284v184M4802 4294v85M4812 4192v171M4822 4229v148M4832 4271v161M4842 4256v277M4852 4215v162M4862 4277v136M4872 4267v170M4882 4270v126M4892 4252v136M4902 4209v182M4912 4286v105M4922 4292v65M4932 4251v195M4942 4230v147M4952 4208v225M4962 4277v112M4972 4249v152M4982 4144v333M4992 4224v155M5002 4298v62M5012 4304v112M5022 4268v75M5032 4295v46M5042 4288v51M5052 4301v44M5062 4287v82M5072 4313v24M5082 4299v62M5092 4286v80M5102 4301v130M5112 4264v119M5122 4299v69M5132 4297v59M5142 4270v77M5152 4279v89M5162 4308v100M5172 4297v65M5182 4307v57M5192 4311v62M5202 4260v93M5212 4246v102M5222 4299v79M5232 4231v185M5242 4251v107M5252 4294v59M5262 4307v74M5272 4274v75M5282 4289v72M5292 4281v73M5302 4220v138M5312 4305v101M5322 4305v89M5332 4289v58M5342 4303v72M5352 4258v83M5362 4282v74M5372 4294v100M5382 4285v86M5392 4290v74M5402 4294v81M5412 4263v110M5422 4309v54M5432 4306v33M5442 4304v83M5452 4310v47M5462 4281v62M5472 4281v81M5482 4309v40M5492 4309v65M5502 4300v66M5512 4308v79M5522 4300v47M5532 4282v79M5542 4298v57M5552 4302v100M5562 4303v73M5572 4254v96M5582 4296v45M5592 4291v76M5602 4300v81M5612 4276v93M5622 4269v129M5632 4290v62M5642 4292v110M5652 4228v165M5662 4301v63M5672 4283v67M5682 4282v74M5692 4270v89M5702 4259v82M5712 4267v83M5722 4257v90M5732 4286v116M5742 4282v83M5752 4260v89M5762 4281v82M5772 4286v76M5782 4252v94M5792 4277v69M5802 4298v86M5812 4298v52M5822 4226v203M5832 4278v122M5842 4250v95M5852 4304v84M5862 4304v78M5872 4308v50M5882 4299v72M5892 4268v79M5902 4294v98M5912 4239v121M5922 4297v102M5932 4245v176M5942 4255v122M5952 4216v212M5962 4221v264M5972 4247v241M5982 4205v227M5992 4226v200M6002 4236v327M6012 4084v359M6022 4180v216M6032 4280v92M6042 4291v65M6052 4288v81M6062 4210v163M6072 4257v99M6082 4249v106M6092 4255v124M6102 4290v96M6112 4278v124M6122 4287v130M6132 4281v89M6142 4144v394M6152 4114v437M6162 4254v233M6172 4270v135M6182 4266v167M6192 4246v167M6202 4006v435M6212 4199v238M6222 4033v456M6232 4194v232M6242 4099v354M6252 4044v600M6262 4156v314M6272 4095v377M6282 4151v365M6292 4229v196M6302 4154v286M6312 4182v222M6322 4213v167M6332 4254v145M6342 4279v112M6352 4241v164M6362 4265v108M6372 4274v89M6382 4276v155M6392 4168v216M6402 4202v303M6412 4135v266M6422 4213v213M6432 4234v220M6442 4216v299M6452 4272v128" fill="none" stroke="#0000ff" stroke-width="5" stroke-opacity="0.8"/>
<path d="M440 4303v46M450 4265v83M460 4302v98M470 4294v95M480 4293v54M490 4311v28M500 4260v139M510 4266v127M520 4301v47M530 4292v56M540 4307v56M550 4308v49M560 4305v39M570 4304v58M580 4300v60M590 4271v89M600 4243v142M610 4280v90M620 4243v118M630 4299v49M640 4308v50M650 4308v109M660 4297v98M670 4293v60M680 4171v207M690 4220v150M700 4291v66M710 4258v127M720 4294v141M730 4301v47M740 4303v42M750 4298v46M760 4282v62M770 4302v86M780 4284v69M790 4287v59M800 4308v60M810 4309v36M820 4301v50M830 4287v69M840 4195v161M850 4282v165M860 4249v126M870 4126v256M880 4277v157M890 4148v227M900 4267v166M910 4169v412M920 4170v241M930 4248v169M940 4252v290M950 4218v173M960 4288v67M970 4293v81M980 4247v109M990 4296v119M1000 4296v101M1010 4295v81M1020 4296v69M1030 4275v82M1040 4300v50M1050 4299v51M1060 4263v117M1070 4296v58M1080 4149v268M1090 4275v209M1100 4278v149M1110 4275v95M1120 4276v93M1130 4262v216M1140 4221v326M1150 4220v309M1160 4095v307M1170 4180v254M1180 4102v316M1190 4254v176M1200 4267v214M1210 4260v115M1220 4257v158M1230 4253v270M1240 4191v357M1250 4264v257M1260 4242v147M1270 4254v123M1280 4244v114M1290 4204v187M1300 4236v186M1310 4306v50M1320 4217v195M1330 4262v109M1340 4200v213M1350 4299v60M1360 4206v152M1370 4301v51M1380 4305v105M1390 4307v66M1400 4297v119M1410 4231v165M1420 4255v97M1430 4265v80M1440 4305v51M1450 4305v79M1460 4299v72M1470 4295v59M1480 4296v126M1490 4214v246M1500 4293v118M1510 4292v55M1520 4305v39M1530 4305v39M1540 4272v83M1550 4257v95M1560 4249v160M1570 4304v81M1580 4260v131M1590 4260v88M1600 4305v40M1610 4299v53M1620 4275v108M1630 4287v101M1640 4285v81M1650 4282v81M1660 4296v58M1670 4226v131M1680 4242v118M1690 4297v107M1700 4298v50M1710 4263v84M1720 4292v61M1730 4280v80M1740 4248v198M1750 4272v221M1760 4258v101M1770 4249v148M1780 4295v58M1790 4290v61M1800 4294v67M1810 4273v104M1820 4297v72M1830 4282v73M1840 4291v79M1850 4291v75M1860 4238v117M1870 4248v110M1880 4282v70M1890 4288v62M1900 4243v139M1910 4287v62M1920 4226v156M1930 4250v174M1940 4298v144M1950 4215v232M1960 4268v100M1970 4280v173M1980 4166v319M1990 4258v108M2000 4287v76M2010 4287v131M2020 4272v203M2030 4289v73M2040 4288v73M2050 4218v142M2060 4289v147M2070 4288v78M2080 4287v57M2090 4308v35M2100 4296v52M2110 4238v173M2120 4294v62M2130 4289v73M2140 4304v40M2150 4310v30M2160 4306v34M2170 4302v53M2180 4307v37M2190 4258v96M2200 4297v57M2210 4263v99M2220 4243v151M2230 4274v82M2240 4228v124M2250 4301v94M2260 4305v41M2270 4261v84M2280 4296v61M2290 4296v91M2300 4292v66M2310 4270v124M2320 4277v85M2330 4292v66M2340 4296v57M2350 4297v54M2360 4270v77M2370 4310v30M2380 4309v38M2390 4271v79M2400 4277v98M2410 4301v49M2420 4283v117M2430 4260v86M2440 4297v61M2450 4251v119M2460 4255v124M2470 4296v93M2480 4294v59M2490 4310v30M2500 4289v56M2510 4305v34M2520 4291v52M2530 4305v53M2540 4299v43M2550 4285v54M2560 4305v58M2570 4298v49M2580 4301v46M2590 4255v91M2600 4301v46M2610 4286v81M2620 4257v123M2630 4222v131M2640 4294v58M2650 4302v56M2660 4307v36M2670 4305v38M2680 4306v38M2690 4305v37M2700 4304v37M2710 4263v81M2720 4297v61M2730 4297v62M2740 4297v56M2750 4301v50M2760 4307v67M2770 4267v79M2780 4274v93M2790 4310v30M2800 4312v28M2810 4309v36M2820 4282v61M2830 4312v26M2840 4305v38M2850 4298v45M2860 4302v63M2870 4264v119M2880 4276v73M2890 4260v87M2900 4302v47M2910 4292v119M2920 4300v88M2930 4261v147M2940 4278v95M2950 4287v70M2960 4261v141M2970 4252v96M2980 4302v43M2990 4244v131M3000 4305v48M3010 4304v46M3020 4307v36M3030 4299v65M3040 4305v57M3050 4256v140M3060 4288v68M3070 4277v80M3080 4272v80M3090 4299v64M3100 4217v168M3110 4237v144M3120 4269v81M3130 4299v46M3140 4257v100M3150 4304v56M3160 4280v67M3170 4309v49M3180 4288v50M3190 4310v33M3200 4297v48M3210 4305v43M3220 4304v42M3230 4302v48M3240 4301v48M3250 4301v110M3260 4296v88M3270 4297v54M3280 4289v63M3290 4296v61M3300 4307v39M3310 4295v48M3320 4305v74M3330 4302v49M3340 4273v101M3350 4285v117M3360 4296v54M3370 4292v132M3380 4275v104M3390 4257v86M3400 4303v38M3410 4308v34M3420 4265v130M3430 4307v39M3440 4307v37M3450 4304v68M3460 4300v50M3470 4275v139M3480 4292v58M3490 4279v61M3500 4309v32M3510 4278v66M3520 4256v89M3530 4307v56M3540 4305v62M3550 4302v72M3560 4236v123M3570 4283v67M3580 4301v48M3590 4301v48M3600 4254v101M3610 4292v62M3620 4301v60M3630 4253v107M3640 4300v48M3650 4310v32M3660 4312v61M3670 4313v41M3680 4309v66M3690 4307v36M3700 4230v118M3710 4301v95M3720 4303v89M3730 4274v88M3740 4294v46M3750 4311v40M3760 4309v33M3770 4302v45M3780 4307v46M3790 4258v87M3800 4280v73M3810 4306v87M3820 4286v77M3830 4272v103M3840 4260v129M3850 4261v101M3860 4308v83M3870 4280v59M3880 4302v92M3890 4301v47M3900 4283v68M3910 4302v79M3920 4301v65M3930 4297v58M3940 4266v88M3950 4299v51M3960 4297v55M3970 4296v58M3980 4233v122M3990 4272v74M4000 4285v76M4010 4285v61M4020 4298v61M4030 4293v64M4040 4191v166M4050 4288v71M4060 4290v49M4070 4285v53M4080 4297v50M4090 4287v56M4100 4298v50M4110 4297v79M4120 4310v74M4130 4272v72M4140 4312v29M4150 4295v45M4160 4302v47M4170 4298v82M4180 4251v120M4190 4301v59M4200 4303v38M4210 4289v68M4220 4301v112M4230 4302v72M4240 4309v60M4250 4307v32M4260 4307v63M4270 4252v94M4280 4294v105M4290 4272v74M4300 4297v51M4310 4301v49M4320 4254v100M4330 4297v51M4340 4286v61M4350 4291v55M4360 4258v157M4370 4290v58M4380 4302v86M4390 4301v47M4400 4305v41M4410 4255v111M4420 4288v60M4430 4266v82M4440 4289v59M4450 4302v52M4460 4239v105M4470 4306v92M4480 4301v39M4490 4311v44M4500 4312v55M4510 4307v47M4520 4295v77M4530 4298v93M4540 4294v63M4550 4298v127M4560 4302v87M4570 4256v92M4580 4303v47M4590 4265v115M4600 4294v168M4610 4260v104M4620 4281v117M4630 4280v88M4640 4285v107M4650 4180v213M4660 4188v194M4670 4282v217M4680 4279v101M4690 4278v105M4700 4279v174M4710 4224v146M4720 4279v116M4730 4258v112M4740 4182v363M4750 4283v112M4760 4203v163M4770 4269v94M4780 4290v81M4790 4248v207M4800 4197v269M4810 4250v183M4820 4140v224M4830 4294v66M4840 4293v136M4850 4285v113M4860 4275v283M4870 4169v243M4880 4276v147M4890 4150v244M4900 4279v92M4910 4210v214M4920 4130v283M4930 4271v124M4940 4198v181M4950 4177v259M4960 4239v142M4970 4289v163M4980 4279v135M4990 4200v211M5000 4302v50M5010 4221v171M5020 4310v35M5030 4309v31M5040 4307v32M5050 4293v52M5060 4295v58M5070 4303v45M5080 4299v94M5090 4312v31M5100 4302v39M5110 4314v30M5120 4313v69M5130 4303v77M5140 4310v39M5150 4288v58M5160 4313v37M5170 4303v40M5180 4299v71M5190 4242v115M5200 4221v167M5210 4277v83M5220 4286v60M5230 4283v84M5240 4304v43M5250 4307v39M5260 4282v96M5270 4304v49M5280 4308v83M5290 4284v71M5300 4304v43M5310 4284v104M5320 4303v45M5330 4282v161M5340 4302v46M5350 4284v74M5360 4270v165M5370 4299v81M5380 4302v58M5390 4300v105M5400 4241v108M5410 4297v99M5420 4300v49M5430 4299v86M5440 4289v91M5450 4257v83M5460 4277v120M5470 4243v106M5480 4302v67M5490 4233v121M5500 4290v52M5510 4280v67M5520 4274v69M5530 4296v51M5540 4301v121M5550 4300v62M5560 4296v66M5570 4268v103M5580 4294v76M5590 4298v134M5600 4260v90M5610 4264v89M5620 4307v81M5630 4305v40M5640 4305v40M5650 4305v40M5660 4297v62M5670 4304v40M5680 4283v63M5690 4301v103M5700 4274v83M5710 4307v33M5720 4306v35M5730 4254v139M5740 4304v42M5750 4235v113M5760 4245v123M5770 4310v30M5780 4266v80M5790 4303v37M5800 4314v24M5810 4292v82M5820 4277v142M5830 4262v87M5840 4286v79M5850 4232v117M5860 4298v45M5870 4291v60M5880 4281v93M5890 4307v53M5900 4306v52M5910 4312v32M5920 4306v47M5930 4295v82M5940 4267v149M5950 4278v105M5960 4238v144M5970 4195v169M5980 4248v158M5990 4166v207M6000 4156v273M6010 4250v246M6020 4244v190M6030 4242v120M6040 4299v51M6050 4278v87M6060 4302v46M6070 4306v38M6080 4292v64M6090 4302v84M6100 4295v55M6110 4295v58M6120 4246v107M6130 4275v80M6140 4292v73M6150 4272v106M6160 4264v124M6170 4227v175M6180 4232v181M6190 4225v217M6200 4036v447M6210 4192v230M6220 4178v333M6230 4165v384M6240 4204v241M6250 4055v474M6260 3999v686M6270 4060v393M6280 4223v345M6290 4183v246M6300 4183v222M6310 4260v127M6320 4134v248M6330 4259v117M6340 4281v97M6350 4288v84M6360 4195v208M6370 4231v141M6380 4233v139M6390 4213v210M6400 4279v164M6410 4282v87M6420 4281v78M6430 4296v103M6440 4284v145M6450 4277v71" fill="none" stroke="#0000ff" stroke-width="10" stroke-opacity="0.25"/>
<path d="M633 4162v336M796 4152v357M883 3886v918M905 4050v479M930 4009v602M982 4203v306M1046 4070v255M1119 4029v561M1189 3942v689M1232 4050v479M1434 4111v214M1520 4141v388M1580 4152v173M1641 3942v383M1752 3968v571M1791 3999v591M1848 4121v459M1887 4121v408M1970 3968v683M2034 4019v306M2073 4029v296M2010 4325v163M2192 4080v449M2321 4050v275M2383 3642v969M2412 4050v652M2629 4121v204M2647 4009v316M2686 3988v602M2877 3866v581M3025 4192v276M3149 3907v551M3244 4152v173M3283 4141v184M3343 4172v153M3485 4141v317M3516 4070v255M3731 3754v836M3749 4050v612M3845 4162v163M3948 4090v235M3989 3968v520M4015 3499v1224M4033 3917v714M4098 4152v173M4134 3499v1683M4189 4172v153M4344 4080v245M4393 4162v163M4483 3846v479M4576 4162v285M4640 4192v133M4700 3876v877M4726 4111v418M4796 4121v428M4837 3876v694M4879 4141v368M4970 3968v612M5197 4213v112M5404 4223v214M5676 4223v102M5960 4152v336M5986 4080v612M6007 4121v408M6136 4172v337M6200 4050v683M6239 3978v847M6278 3703v1428M6296 3942v760M6317 4121v408M6420 3968v683M6452 3764v734" fill="none" stroke="#0000ff" stroke-width="9" stroke-opacity="0.42"/></g>
<text x="39.0" y="334.4" text-anchor="end" font-weight="normal" font-size="12.4" >1</text>
<text x="39.0" y="385.4" text-anchor="end" font-weight="normal" font-size="12.4" >0.5</text>
<text x="39.0" y="436.4" text-anchor="end" font-weight="normal" font-size="12.4" >0</text>
<text x="39.0" y="487.4" text-anchor="end" font-weight="normal" font-size="12.4" >-0.5</text>
<text x="39.0" y="538.4" text-anchor="end" font-weight="normal" font-size="12.4" >-1</text>
<text x="43.7" y="549.1" text-anchor="middle" font-weight="normal" font-size="12.4" >00:00</text>
<text x="119.0" y="549.1" text-anchor="middle" font-weight="normal" font-size="12.4" >03:00</text>
<text x="194.2" y="549.1" text-anchor="middle" font-weight="normal" font-size="12.4" >06:00</text>
<text x="269.4" y="549.1" text-anchor="middle" font-weight="normal" font-size="12.4" >09:00</text>
<text x="344.7" y="549.1" text-anchor="middle" font-weight="normal" font-size="12.4" >12:00</text>
<text x="419.9" y="549.1" text-anchor="middle" font-weight="normal" font-size="12.4" >15:00</text>
<text x="495.2" y="549.1" text-anchor="middle" font-weight="normal" font-size="12.4" >18:00</text>
<text x="570.5" y="549.1" text-anchor="middle" font-weight="normal" font-size="12.4" >21:00</text>
<text x="645.7" y="549.1" text-anchor="middle" font-weight="normal" font-size="12.4" >00:00</text>
<text transform="translate(9.0,432.5) rotate(-90)" text-anchor="middle" font-weight="bold" font-size="12.4">Y (nT)</text>
<rect x="836.5" y="330.0" width="603.0" height="204.5" fill="#00008f"/>
<g clip-path="url(#cp1)"><g fill="none" stroke-width="1" filter="url(#bl)" shape-rendering="crispEdges">
<path stroke="#0000a2" d="M848.5 517v17M849.5 509v10M850.5 508v8M851.5 509v10M852.5 517v17M853.5 511v23M854.5 477v17M855.5 467v5M856.5 466v2M857.5 467v3M858.5 473v14M859.5 500v20M860.5 492v11M861.5 488v7M862.5 489v6M863.5 494v13M864.5 512v20M869.5 523v11M870.5 491v17M871.5 483v4M872.5 481v3M873.5 481v3M874.5 485v7M875.5 499v27M877.5 510v24M878.5 456v34M879.5 399v26M880.5 381v6M881.5 381v5M882.5 393v15M883.5 419v22M884.5 379v12M885.5 375v5M886.5 381v12M887.5 418v22M888.5 459v16M889.5 467v13M890.5 469v17M891.5 488v25M892.5 521v13M897.5 513v21M898.5 489v10M899.5 482v5M900.5 481v2M901.5 481v2M902.5 447v35M903.5 360v9M904.5 372v30M905.5 483v29M906.5 502v21M907.5 473v18M908.5 452v8M909.5 447v3M910.5 447v2M911.5 447v3M912.5 450v6M913.5 447v5M914.5 447v5M915.5 455v12M916.5 466v2M917.5 466v2M918.5 468v6M919.5 478v14M920.5 502v5M921.5 506v9M922.5 518v16M929.5 517v17M930.5 507v12M931.5 504v9M932.5 473v17M933.5 467v3M934.5 466v2M935.5 467v3M936.5 473v17M937.5 511v23M939.5 513v21M940.5 481v22M941.5 472v4M942.5 471v1M943.5 471v1M944.5 471v1M945.5 471v3M946.5 474v15M947.5 439v13M947.5 479v16M947.5 501v24M948.5 434v6M948.5 489v7M948.5 531v3M949.5 437v10M949.5 483v12M968.5 485v48M969.5 331v92M971.5 426v48M972.5 514v20M985.5 465v34M986.5 330v55M988.5 411v36M989.5 495v39M1074.5 494v37M1075.5 413v35M1077.5 330v89M1078.5 496v38M1084.5 463v27M1085.5 456v11M1085.5 483v12M1086.5 456v11M1086.5 483v12M1087.5 463v27M1087.5 522v12M1088.5 486v30M1089.5 475v8M1090.5 472v4M1091.5 471v3M1092.5 473v4M1093.5 478v10M1094.5 499v35M1158.5 466v53M1161.5 423v44M1162.5 517v17M1184.5 499v35M1185.5 446v28M1186.5 367v32M1189.5 367v32M1190.5 446v28M1191.5 499v35M1199.5 345v38M1200.5 330v13M1238.5 518v16M1239.5 496v21M1240.5 484v14M1241.5 480v10M1242.5 481v11M1243.5 487v18M1244.5 504v20M1245.5 504v11M1246.5 501v6M1247.5 500v6M1248.5 501v7M1249.5 505v13M1250.5 517v17M1253.5 476v45M1256.5 408v46M1257.5 439v22M1258.5 437v19M1259.5 449v27M1260.5 480v29M1261.5 485v21M1262.5 447v21M1263.5 437v4M1264.5 435v2M1265.5 435v3M1266.5 438v8M1267.5 381v14M1267.5 433v12M1267.5 461v24M1268.5 375v7M1268.5 440v7M1268.5 500v31M1269.5 385v18M1269.5 426v18M1269.5 502v32M1270.5 452v37M1271.5 424v13M1272.5 418v6M1273.5 419v7M1274.5 432v17M1275.5 474v37M1276.5 518v16M1279.5 514v20M1280.5 421v53M1281.5 347v10M1282.5 357v55M1283.5 485v48M1302.5 484v26M1303.5 478v11M1303.5 502v12M1304.5 478v9M1304.5 504v10M1305.5 481v13M1305.5 496v16M1306.5 493v8M1320.5 527v7M1321.5 507v21M1322.5 496v14M1323.5 492v10M1324.5 492v10M1325.5 496v14M1326.5 507v21M1327.5 527v7M1346.5 519v15M1347.5 507v13M1348.5 501v9M1349.5 500v7M1350.5 501v7M1351.5 504v11M1352.5 513v18M1353.5 530v4M1377.5 530v4M1378.5 448v59M1379.5 378v37M1380.5 356v5M1381.5 356v5M1382.5 378v37M1383.5 448v20M1384.5 480v10M1385.5 497v10M1386.5 514v15M1387.5 533v1M1391.5 512v22M1392.5 481v22M1393.5 460v9M1394.5 456v3M1395.5 455v2M1396.5 455v3M1397.5 457v6M1398.5 469v20M1399.5 486v13M1400.5 464v16M1401.5 425v21M1402.5 396v9M1403.5 392v4M1404.5 394v7M1405.5 386v11M1406.5 380v5M1407.5 383v9M1408.5 378v24M1409.5 346v5M1410.5 345v3M1411.5 352v10M1412.5 395v21M1413.5 444v9M1414.5 451v2M1415.5 453v5M1416.5 446v13M1417.5 438v5M1417.5 511v15M1418.5 437v4M1418.5 512v2M1418.5 531v3M1419.5 439v8M1419.5 511v3M1419.5 531v3M1420.5 454v31M1420.5 505v18M1421.5 463v20M1422.5 434v9M1423.5 429v2M1424.5 429v1M1425.5 429v2M1426.5 434v9M1427.5 463v20M1428.5 487v3M1429.5 490v7M1430.5 501v22M1431.5 529v5"/>
<path stroke="#0000c3" d="M849.5 519v10M850.5 516v7M851.5 519v10M854.5 494v13M855.5 472v4M856.5 468v3M857.5 470v4M858.5 487v11M859.5 520v14M860.5 503v10M861.5 495v6M862.5 495v7M863.5 507v10M864.5 532v2M870.5 508v17M871.5 487v5M872.5 484v2M873.5 484v3M874.5 492v6M875.5 526v8M878.5 490v19M879.5 425v16M880.5 387v6M881.5 386v6M882.5 408v10M883.5 441v11M884.5 391v11M885.5 380v5M886.5 393v8M887.5 440v10M888.5 475v10M889.5 480v12M890.5 486v15M891.5 513v18M898.5 499v22M899.5 487v4M900.5 483v2M901.5 483v1M902.5 482v3M903.5 369v9M904.5 402v32M905.5 512v18M906.5 523v11M907.5 491v10M908.5 460v9M909.5 450v3M910.5 449v1M911.5 450v2M912.5 456v5M913.5 452v5M914.5 452v5M915.5 467v4M916.5 468v1M917.5 468v3M918.5 474v4M919.5 492v10M920.5 507v5M921.5 515v8M930.5 519v11M931.5 513v9M932.5 490v19M933.5 470v3M934.5 468v2M935.5 470v3M936.5 490v19M940.5 503v15M941.5 476v4M942.5 472v2M943.5 472v1M944.5 472v1M945.5 474v2M946.5 489v13M947.5 452v27M947.5 525v9M948.5 440v5M948.5 481v8M949.5 447v9M949.5 469v14M968.5 533v1M969.5 423v36M970.5 330v52M971.5 474v42M985.5 499v35M986.5 385v42M988.5 447v18M1074.5 531v3M1075.5 448v28M1076.5 330v29M1077.5 419v47M1085.5 467v16M1086.5 467v16M1088.5 516v18M1089.5 483v6M1090.5 476v3M1091.5 474v3M1092.5 477v5M1093.5 488v23M1158.5 519v15M1159.5 330v74M1161.5 467v49M1185.5 474v31M1186.5 399v19M1189.5 399v19M1190.5 474v31M1199.5 330v15M1239.5 517v16M1240.5 498v13M1241.5 490v11M1242.5 492v11M1243.5 505v14M1244.5 524v10M1245.5 515v9M1246.5 507v7M1247.5 506v6M1248.5 508v7M1249.5 518v10M1253.5 521v13M1254.5 330v95M1256.5 454v32M1257.5 461v20M1258.5 456v18M1259.5 476v37M1260.5 509v6M1261.5 506v5M1262.5 468v15M1263.5 441v4M1264.5 437v2M1265.5 438v2M1266.5 446v8M1267.5 395v12M1267.5 417v16M1267.5 485v18M1268.5 382v7M1268.5 433v7M1268.5 531v3M1269.5 403v23M1270.5 489v27M1271.5 437v10M1272.5 424v5M1273.5 426v7M1274.5 449v27M1275.5 511v23M1280.5 474v42M1281.5 357v10M1282.5 412v47M1283.5 533v1M1303.5 489v13M1304.5 487v17M1305.5 494v2M1321.5 528v6M1322.5 510v13M1323.5 502v10M1324.5 502v10M1325.5 510v13M1326.5 528v6M1347.5 520v11M1348.5 510v8M1349.5 507v6M1350.5 508v7M1351.5 515v10M1352.5 531v3M1378.5 507v27M1379.5 415v21M1380.5 361v5M1381.5 361v5M1382.5 415v21M1383.5 468v10M1384.5 490v6M1385.5 507v8M1386.5 529v5M1392.5 503v13M1393.5 469v11M1394.5 459v3M1395.5 457v2M1396.5 458v2M1397.5 463v5M1398.5 489v13M1399.5 499v10M1400.5 480v5M1401.5 446v11M1402.5 405v7M1403.5 396v4M1404.5 401v7M1405.5 397v9M1406.5 385v4M1407.5 392v8M1408.5 402v12M1409.5 351v4M1410.5 348v3M1411.5 362v7M1412.5 416v11M1413.5 453v2M1414.5 453v3M1415.5 458v4M1416.5 459v19M1417.5 443v5M1417.5 509v2M1417.5 526v8M1418.5 441v4M1418.5 509v3M1419.5 447v7M1419.5 507v4M1420.5 485v20M1420.5 523v11M1421.5 483v13M1422.5 443v11M1423.5 431v2M1424.5 430v1M1425.5 431v2M1426.5 443v11M1427.5 483v7M1428.5 490v3M1429.5 497v6M1430.5 523v11"/>
<path stroke="#0000e6" d="M849.5 529v5M850.5 523v8M851.5 529v5M854.5 507v14M855.5 476v3M856.5 471v2M857.5 474v3M858.5 498v11M860.5 513v8M861.5 501v6M862.5 502v6M863.5 517v9M870.5 525v9M871.5 492v4M872.5 486v2M873.5 487v3M874.5 498v11M878.5 509v18M879.5 441v11M880.5 393v6M881.5 392v4M882.5 418v8M883.5 452v9M884.5 402v15M885.5 385v5M886.5 401v11M887.5 450v8M888.5 485v8M889.5 492v13M890.5 501v13M891.5 531v3M898.5 521v13M899.5 491v4M900.5 485v3M901.5 484v2M902.5 485v3M903.5 378v9M904.5 434v15M905.5 530v4M907.5 501v9M908.5 469v9M909.5 453v2M910.5 450v2M911.5 452v2M912.5 461v8M913.5 457v5M914.5 457v5M915.5 471v3M916.5 469v2M917.5 471v2M918.5 478v5M919.5 502v9M920.5 512v5M921.5 523v7M930.5 530v4M931.5 522v8M932.5 509v13M933.5 473v3M934.5 470v1M935.5 473v3M936.5 509v14M940.5 518v12M941.5 480v10M942.5 474v1M943.5 473v1M944.5 473v1M945.5 476v3M946.5 502v12M948.5 445v6M948.5 473v8M949.5 456v13M969.5 459v51M970.5 382v40M971.5 516v18M986.5 427v17M988.5 465v20M1075.5 476v28M1076.5 359v35M1077.5 466v52M1089.5 489v21M1090.5 479v4M1091.5 477v3M1092.5 482v4M1093.5 511v23M1159.5 404v36M1161.5 516v18M1185.5 505v29M1186.5 418v16M1189.5 418v16M1190.5 505v29M1239.5 533v1M1240.5 511v12M1241.5 501v10M1242.5 503v11M1243.5 519v12M1245.5 524v9M1246.5 514v7M1247.5 512v5M1248.5 515v7M1249.5 528v6M1254.5 425v40M1256.5 486v40M1257.5 481v46M1258.5 474v40M1259.5 513v19M1260.5 515v6M1261.5 511v4M1262.5 483v13M1263.5 445v4M1264.5 439v2M1265.5 440v3M1266.5 454v12M1267.5 407v10M1267.5 503v14M1268.5 389v7M1268.5 425v8M1270.5 516v18M1271.5 447v20M1272.5 429v6M1273.5 433v6M1274.5 476v25M1280.5 516v18M1281.5 367v10M1282.5 459v51M1322.5 523v11M1323.5 512v10M1324.5 512v10M1325.5 523v11M1347.5 531v3M1348.5 518v7M1349.5 513v6M1350.5 515v7M1351.5 525v8M1379.5 436v13M1380.5 366v4M1381.5 366v4M1382.5 436v13M1383.5 478v5M1384.5 496v5M1385.5 515v7M1392.5 516v14M1393.5 480v10M1394.5 462v3M1395.5 459v2M1396.5 460v2M1397.5 468v7M1398.5 502v10M1399.5 509v8M1400.5 485v4M1401.5 457v8M1402.5 412v10M1403.5 400v4M1404.5 408v6M1405.5 406v8M1406.5 389v5M1407.5 400v6M1408.5 414v8M1409.5 355v4M1410.5 351v3M1411.5 369v6M1412.5 427v7M1413.5 455v3M1414.5 456v2M1415.5 462v4M1416.5 478v39M1417.5 448v5M1417.5 506v3M1418.5 445v3M1418.5 507v2M1419.5 454v6M1419.5 504v3M1421.5 496v11M1422.5 454v8M1423.5 433v2M1424.5 431v1M1425.5 433v2M1426.5 454v8M1427.5 490v2M1428.5 493v3M1429.5 503v12"/>
<path stroke="#0008ff" d="M850.5 531v3M854.5 521v13M855.5 479v7M856.5 473v2M857.5 477v3M858.5 509v13M860.5 521v8M861.5 507v6M862.5 508v7M863.5 526v8M871.5 496v4M872.5 488v3M873.5 490v3M874.5 509v12M878.5 527v7M879.5 452v9M880.5 399v8M881.5 396v5M882.5 426v6M883.5 461v6M884.5 417v13M885.5 390v4M886.5 412v10M887.5 458v7M888.5 493v8M889.5 505v13M890.5 514v13M899.5 495v3M900.5 488v2M901.5 486v2M902.5 488v3M903.5 387v21M904.5 449v17M907.5 510v8M908.5 478v6M909.5 455v3M910.5 452v2M911.5 454v2M912.5 469v7M913.5 462v5M914.5 462v5M915.5 474v2M916.5 471v2M917.5 473v2M918.5 483v3M919.5 511v6M920.5 517v4M921.5 530v4M931.5 530v4M932.5 522v11M933.5 476v3M934.5 471v2M935.5 476v3M936.5 523v11M940.5 530v4M941.5 490v9M942.5 475v2M943.5 474v1M944.5 474v1M945.5 479v5M946.5 514v11M948.5 451v5M948.5 465v8M969.5 510v24M970.5 422v49M986.5 444v14M987.5 330v47M988.5 485v49M1075.5 504v30M1076.5 394v26M1077.5 518v16M1089.5 510v24M1090.5 483v3M1091.5 480v3M1092.5 486v4M1159.5 440v94M1160.5 330v33M1186.5 434v14M1189.5 434v14M1240.5 523v10M1241.5 511v10M1242.5 514v10M1243.5 531v3M1245.5 533v1M1246.5 521v6M1247.5 517v6M1248.5 522v7M1254.5 465v55M1256.5 526v8M1257.5 527v7M1258.5 514v20M1259.5 532v2M1260.5 521v5M1261.5 515v4M1262.5 496v14M1263.5 449v7M1264.5 441v3M1265.5 443v2M1266.5 466v10M1267.5 517v17M1268.5 396v7M1268.5 418v7M1271.5 467v28M1272.5 435v5M1273.5 439v7M1274.5 501v27M1281.5 377v94M1282.5 510v24M1323.5 522v10M1324.5 522v10M1348.5 525v7M1349.5 519v6M1350.5 522v6M1351.5 533v1M1379.5 449v15M1380.5 370v4M1381.5 370v4M1382.5 449v10M1383.5 483v4M1384.5 501v3M1385.5 522v6M1392.5 530v4M1393.5 490v9M1394.5 465v2M1395.5 461v2M1396.5 462v2M1397.5 475v9M1398.5 512v11M1399.5 517v6M1400.5 489v3M1401.5 465v7M1402.5 422v9M1403.5 404v5M1404.5 414v8M1405.5 414v17M1406.5 394v4M1407.5 406v7M1408.5 422v7M1409.5 359v5M1410.5 354v3M1411.5 375v5M1412.5 434v5M1413.5 458v2M1414.5 458v2M1415.5 466v4M1416.5 517v15M1417.5 453v4M1417.5 504v2M1418.5 448v4M1418.5 505v2M1419.5 460v30M1419.5 501v3M1421.5 507v11M1422.5 462v7M1423.5 435v2M1424.5 432v2M1425.5 435v2M1426.5 462v7M1427.5 492v2M1428.5 496v3M1429.5 515v13"/>
<path stroke="#002aff" d="M855.5 486v7M856.5 475v2M857.5 480v7M858.5 522v12M860.5 529v5M861.5 513v6M862.5 515v6M871.5 500v11M872.5 491v2M873.5 493v2M874.5 521v11M879.5 461v15M880.5 407v8M881.5 401v7M882.5 432v6M883.5 467v5M884.5 430v12M885.5 394v5M886.5 422v9M887.5 465v6M888.5 501v9M889.5 518v12M890.5 527v7M899.5 498v9M900.5 490v2M901.5 488v2M902.5 491v2M903.5 408v25M904.5 466v15M907.5 518v10M908.5 484v5M909.5 458v2M910.5 454v2M911.5 456v3M912.5 476v6M913.5 467v5M914.5 467v5M915.5 476v3M916.5 473v2M917.5 475v2M918.5 486v6M919.5 517v5M920.5 521v5M932.5 533v1M933.5 479v9M934.5 473v2M935.5 479v9M941.5 499v9M942.5 477v1M943.5 475v1M944.5 475v1M945.5 484v8M946.5 525v9M948.5 456v9M970.5 471v63M986.5 458v13M986.5 532v2M987.5 377v42M1076.5 420v41M1090.5 486v3M1091.5 483v3M1092.5 490v30M1160.5 363v69M1160.5 503v31M1186.5 448v14M1189.5 448v14M1240.5 533v1M1241.5 521v10M1242.5 524v10M1246.5 527v6M1247.5 523v6M1248.5 529v5M1254.5 520v14M1260.5 526v5M1261.5 519v4M1262.5 510v9M1263.5 456v10M1264.5 444v2M1265.5 445v3M1266.5 476v9M1268.5 403v15M1271.5 495v32M1272.5 440v5M1273.5 446v15M1274.5 528v6M1281.5 471v63M1323.5 532v2M1324.5 532v2M1348.5 532v2M1349.5 525v7M1350.5 528v6M1379.5 464v61M1380.5 374v25M1381.5 374v25M1382.5 459v7M1383.5 487v3M1384.5 504v4M1385.5 528v5M1393.5 499v8M1394.5 467v3M1395.5 463v2M1396.5 464v3M1397.5 484v7M1398.5 523v11M1399.5 523v6M1400.5 492v5M1401.5 472v6M1402.5 431v8M1403.5 409v4M1404.5 422v8M1405.5 431v14M1406.5 398v5M1407.5 413v8M1408.5 429v5M1409.5 364v4M1410.5 357v2M1411.5 380v5M1412.5 439v5M1413.5 460v2M1414.5 460v2M1415.5 470v15M1416.5 532v2M1417.5 457v23M1417.5 501v3M1418.5 452v4M1418.5 503v2M1419.5 490v11M1421.5 518v9M1422.5 469v6M1423.5 437v2M1424.5 434v1M1425.5 437v2M1426.5 469v6M1427.5 494v3M1428.5 499v3M1429.5 528v6"/>
<path stroke="#004dff" d="M855.5 493v6M856.5 477v3M857.5 487v6M861.5 519v6M862.5 521v6M871.5 511v12M872.5 493v3M873.5 495v3M874.5 532v2M879.5 476v14M880.5 415v8M881.5 408v6M882.5 438v6M883.5 472v4M884.5 442v9M885.5 399v9M886.5 431v8M887.5 471v5M888.5 510v24M889.5 530v4M899.5 507v17M900.5 492v2M901.5 490v1M902.5 493v2M903.5 433v19M904.5 481v15M907.5 528v6M908.5 489v5M909.5 460v5M910.5 456v2M911.5 459v2M912.5 482v6M913.5 472v5M914.5 472v5M915.5 479v2M916.5 475v2M917.5 477v2M918.5 492v5M919.5 522v4M920.5 526v4M933.5 488v14M934.5 475v2M935.5 488v14M941.5 508v10M942.5 478v1M943.5 476v1M944.5 476v2M945.5 492v7M986.5 471v25M986.5 506v26M987.5 419v20M1076.5 461v73M1090.5 489v35M1091.5 486v3M1092.5 520v14M1160.5 432v71M1186.5 462v13M1186.5 495v39M1189.5 462v13M1189.5 495v39M1241.5 531v3M1246.5 533v1M1247.5 529v5M1255.5 330v204M1260.5 531v3M1261.5 523v4M1262.5 519v8M1263.5 466v9M1264.5 446v2M1265.5 448v2M1266.5 485v13M1271.5 527v7M1272.5 445v12M1273.5 461v49M1349.5 532v2M1379.5 525v9M1380.5 399v31M1381.5 399v31M1382.5 466v7M1383.5 490v3M1384.5 508v4M1385.5 533v1M1393.5 507v7M1394.5 470v7M1395.5 465v1M1396.5 467v2M1397.5 491v8M1399.5 529v5M1400.5 497v6M1401.5 478v2M1402.5 439v7M1403.5 413v6M1404.5 430v8M1405.5 445v13M1406.5 403v4M1407.5 421v10M1408.5 434v5M1409.5 368v5M1410.5 359v3M1411.5 385v5M1412.5 444v5M1413.5 462v2M1414.5 462v2M1415.5 485v17M1417.5 480v21M1418.5 456v4M1418.5 501v2M1421.5 527v7M1422.5 475v7M1423.5 439v3M1424.5 435v1M1425.5 439v3M1426.5 475v7M1427.5 497v2M1428.5 502v3"/>
<path stroke="#006eff" d="M855.5 499v6M856.5 480v4M857.5 493v5M861.5 525v6M862.5 527v6M871.5 523v11M872.5 496v2M873.5 498v5M879.5 490v11M880.5 423v7M881.5 414v6M882.5 444v4M883.5 476v4M884.5 451v9M885.5 408v10M886.5 439v5M887.5 476v5M899.5 524v10M900.5 494v2M901.5 491v2M902.5 495v2M903.5 452v23M904.5 496v14M908.5 494v5M909.5 465v5M910.5 458v1M911.5 461v4M912.5 488v5M913.5 477v11M914.5 477v11M915.5 481v2M916.5 477v1M917.5 479v3M918.5 497v5M919.5 526v5M920.5 530v4M933.5 502v14M934.5 477v2M935.5 502v14M941.5 518v9M942.5 479v5M943.5 477v1M944.5 478v1M945.5 499v8M986.5 496v10M987.5 439v12M987.5 524v10M1090.5 524v10M1091.5 489v45M1186.5 475v20M1187.5 330v13M1188.5 330v13M1189.5 475v20M1261.5 527v4M1262.5 527v5M1263.5 475v8M1264.5 448v2M1265.5 450v7M1266.5 498v14M1272.5 457v77M1273.5 510v24M1380.5 430v10M1381.5 430v10M1382.5 473v6M1383.5 493v3M1384.5 512v5M1393.5 514v11M1394.5 477v7M1395.5 466v2M1396.5 469v4M1397.5 499v7M1400.5 503v5M1401.5 480v3M1402.5 446v6M1403.5 419v7M1404.5 438v8M1405.5 458v12M1406.5 407v4M1407.5 431v9M1408.5 439v4M1409.5 373v8M1410.5 362v3M1411.5 390v7M1412.5 449v4M1413.5 464v3M1414.5 464v3M1415.5 502v19M1418.5 460v41M1422.5 482v7M1423.5 442v4M1424.5 436v1M1425.5 442v4M1426.5 482v7M1427.5 499v2M1428.5 505v12"/>
<path stroke="#0090ff" d="M855.5 505v12M855.5 533v1M856.5 484v5M857.5 498v6M861.5 531v3M862.5 533v1M872.5 498v3M873.5 503v13M879.5 501v10M880.5 430v7M881.5 420v5M882.5 448v4M883.5 480v4M884.5 460v8M885.5 418v9M886.5 444v6M887.5 481v5M900.5 496v2M901.5 493v2M902.5 497v2M903.5 475v23M904.5 510v15M908.5 499v5M909.5 470v5M910.5 459v2M911.5 465v6M912.5 493v4M913.5 488v26M914.5 488v14M915.5 483v3M916.5 478v2M917.5 482v2M918.5 502v6M919.5 531v3M933.5 516v13M934.5 479v7M935.5 516v13M941.5 527v7M942.5 484v7M943.5 478v1M944.5 479v1M945.5 507v10M987.5 451v13M987.5 511v13M1187.5 343v11M1187.5 529v5M1188.5 343v11M1188.5 529v5M1261.5 531v3M1262.5 532v2M1263.5 483v12M1264.5 450v5M1265.5 457v9M1266.5 512v22M1380.5 440v10M1381.5 440v10M1382.5 479v2M1383.5 496v2M1384.5 517v4M1393.5 525v9M1394.5 484v7M1395.5 468v3M1396.5 473v6M1397.5 506v6M1400.5 508v4M1401.5 483v2M1402.5 452v5M1403.5 426v7M1404.5 446v9M1405.5 470v5M1406.5 411v8M1407.5 440v9M1408.5 443v7M1409.5 381v7M1410.5 365v2M1411.5 397v7M1412.5 453v4M1413.5 467v2M1414.5 467v2M1415.5 521v13M1422.5 489v6M1423.5 446v4M1424.5 437v1M1425.5 446v4M1426.5 489v6M1427.5 501v2M1428.5 517v14"/>
<path stroke="#00b2ff" d="M855.5 517v16M856.5 489v5M857.5 504v12M857.5 532v2M872.5 501v13M873.5 516v12M879.5 511v18M880.5 437v6M881.5 425v5M882.5 452v4M883.5 484v3M884.5 468v10M885.5 427v10M886.5 450v5M887.5 486v4M887.5 531v3M900.5 498v2M901.5 495v2M902.5 499v5M903.5 498v15M904.5 525v9M908.5 504v5M909.5 475v5M910.5 461v5M911.5 471v4M912.5 497v4M913.5 514v12M914.5 502v15M915.5 486v3M916.5 480v2M917.5 484v2M918.5 508v10M933.5 529v5M934.5 486v17M935.5 529v5M942.5 491v7M943.5 479v1M944.5 480v6M945.5 517v10M987.5 464v47M1187.5 354v18M1187.5 515v14M1188.5 354v18M1188.5 515v14M1263.5 495v17M1263.5 529v5M1264.5 455v9M1265.5 466v8M1380.5 450v14M1381.5 450v10M1382.5 481v3M1383.5 498v3M1384.5 521v5M1394.5 491v7M1395.5 471v7M1396.5 479v7M1397.5 512v11M1400.5 512v5M1401.5 485v2M1402.5 457v6M1403.5 433v7M1404.5 455v9M1405.5 475v4M1406.5 419v14M1407.5 449v9M1408.5 450v6M1409.5 388v7M1410.5 367v3M1411.5 404v6M1412.5 457v3M1413.5 469v15M1414.5 469v15M1422.5 495v7M1423.5 450v4M1424.5 438v2M1425.5 450v4M1426.5 495v5M1427.5 503v2M1428.5 531v3"/>
<path stroke="#00d4ff" d="M856.5 494v5M857.5 516v16M872.5 514v13M873.5 528v6M879.5 529v5M880.5 443v6M881.5 430v5M882.5 456v4M883.5 487v3M884.5 478v17M885.5 437v7M886.5 455v5M887.5 490v5M887.5 525v6M900.5 500v12M901.5 497v1M902.5 504v6M903.5 513v13M908.5 509v6M909.5 480v4M910.5 466v5M911.5 475v5M912.5 501v5M913.5 526v6M914.5 517v16M915.5 489v4M916.5 482v2M917.5 486v2M918.5 518v10M934.5 503v18M942.5 498v7M943.5 480v5M944.5 486v7M945.5 527v7M1187.5 372v21M1187.5 501v14M1188.5 372v21M1188.5 501v14M1263.5 512v17M1264.5 464v9M1265.5 474v9M1380.5 464v16M1381.5 460v10M1382.5 484v3M1383.5 501v2M1384.5 526v4M1394.5 498v6M1395.5 478v6M1396.5 486v7M1397.5 523v11M1400.5 517v5M1401.5 487v2M1402.5 463v5M1403.5 440v7M1404.5 464v8M1405.5 479v4M1406.5 433v15M1407.5 458v10M1408.5 456v6M1409.5 395v6M1410.5 370v4M1411.5 410v5M1412.5 460v4M1413.5 484v20M1414.5 484v42M1422.5 502v9M1423.5 454v4M1424.5 440v2M1425.5 454v4M1426.5 500v4M1427.5 505v16"/>
<path stroke="#00f6ff" d="M856.5 499v5M856.5 532v2M872.5 527v7M880.5 449v5M881.5 435v5M882.5 460v4M883.5 490v2M884.5 495v15M885.5 444v6M885.5 530v4M886.5 460v4M886.5 532v2M887.5 495v9M887.5 518v7M900.5 512v14M901.5 498v3M902.5 510v6M903.5 526v8M908.5 515v5M909.5 484v3M910.5 471v5M911.5 480v3M912.5 506v5M913.5 532v2M914.5 533v1M915.5 493v3M916.5 484v2M917.5 488v4M918.5 528v6M934.5 521v13M942.5 505v12M943.5 485v7M944.5 493v7M1187.5 393v23M1187.5 492v9M1188.5 393v23M1188.5 492v9M1264.5 473v9M1264.5 532v2M1265.5 483v19M1265.5 527v7M1380.5 480v10M1380.5 527v7M1381.5 470v9M1382.5 487v2M1383.5 503v3M1384.5 530v4M1394.5 504v7M1395.5 484v7M1396.5 493v7M1400.5 522v4M1401.5 489v2M1402.5 468v5M1403.5 447v7M1404.5 472v9M1405.5 483v4M1406.5 448v14M1407.5 468v4M1408.5 462v7M1409.5 401v7M1410.5 374v5M1411.5 415v4M1412.5 464v4M1413.5 504v25M1414.5 526v8M1422.5 511v9M1423.5 458v5M1424.5 442v4M1425.5 458v5M1426.5 504v11M1427.5 521v13"/>
<path stroke="#1affe5" d="M856.5 504v18M856.5 526v6M880.5 454v5M881.5 440v5M882.5 464v3M883.5 492v3M884.5 510v22M885.5 450v7M885.5 526v4M886.5 464v5M886.5 528v4M887.5 504v14M900.5 526v8M901.5 501v10M902.5 516v7M908.5 520v8M909.5 487v3M910.5 476v4M911.5 483v4M912.5 511v6M915.5 496v4M916.5 486v2M917.5 492v4M942.5 517v12M943.5 492v7M944.5 500v9M1187.5 416v28M1187.5 483v9M1188.5 416v28M1188.5 483v9M1264.5 482v24M1264.5 523v9M1265.5 502v25M1380.5 490v37M1381.5 479v4M1382.5 489v3M1383.5 506v3M1394.5 511v12M1395.5 491v7M1396.5 500v6M1400.5 526v5M1401.5 491v2M1402.5 473v5M1403.5 454v7M1404.5 481v11M1405.5 487v3M1406.5 462v9M1407.5 472v3M1408.5 469v6M1409.5 408v6M1410.5 379v4M1411.5 419v4M1412.5 468v4M1413.5 529v5M1422.5 520v10M1423.5 463v4M1424.5 446v3M1425.5 463v4M1426.5 515v11"/>
<path stroke="#3cffc3" d="M856.5 522v4M880.5 459v5M881.5 445v5M882.5 467v3M883.5 495v3M884.5 532v2M885.5 457v6M885.5 523v3M886.5 469v5M886.5 525v3M901.5 511v9M902.5 523v6M908.5 528v6M909.5 490v4M910.5 480v3M911.5 487v3M912.5 517v4M915.5 500v4M916.5 488v3M917.5 496v4M942.5 529v5M943.5 499v8M944.5 509v15M1187.5 444v39M1188.5 444v39M1264.5 506v17M1381.5 483v4M1382.5 492v3M1383.5 509v5M1394.5 523v11M1395.5 498v7M1396.5 506v7M1400.5 531v3M1401.5 493v4M1402.5 478v2M1403.5 461v7M1404.5 492v19M1405.5 490v4M1406.5 471v3M1407.5 475v3M1408.5 475v5M1409.5 414v4M1410.5 383v5M1411.5 423v4M1412.5 472v5M1422.5 530v4M1423.5 467v4M1424.5 449v4M1425.5 467v4M1426.5 526v8"/>
<path stroke="#5effa2" d="M880.5 464v13M881.5 450v4M882.5 470v4M883.5 498v4M885.5 463v6M885.5 519v4M886.5 474v6M886.5 521v4M901.5 520v11M902.5 529v5M909.5 494v3M910.5 483v3M911.5 490v3M912.5 521v3M915.5 504v13M916.5 491v4M917.5 500v3M943.5 507v19M944.5 524v10M1381.5 487v4M1382.5 495v3M1383.5 514v5M1395.5 505v7M1396.5 513v21M1401.5 497v5M1402.5 480v2M1403.5 468v7M1404.5 511v13M1405.5 494v3M1406.5 474v3M1407.5 478v3M1408.5 480v5M1409.5 418v4M1410.5 388v7M1411.5 427v4M1412.5 477v4M1423.5 471v4M1424.5 453v3M1425.5 471v4"/>
<path stroke="#80ff80" d="M880.5 477v9M881.5 454v4M882.5 474v3M883.5 502v3M885.5 469v7M885.5 515v4M886.5 480v6M886.5 517v4M901.5 531v3M909.5 497v3M910.5 486v3M911.5 493v3M912.5 524v3M915.5 517v17M916.5 495v3M917.5 503v13M943.5 526v8M1381.5 491v5M1382.5 498v3M1383.5 519v6M1395.5 512v22M1401.5 502v6M1402.5 482v3M1403.5 475v5M1404.5 524v10M1405.5 497v4M1406.5 477v3M1407.5 481v3M1408.5 485v5M1409.5 422v3M1410.5 395v8M1411.5 431v2M1412.5 481v5M1423.5 475v6M1424.5 456v4M1425.5 475v6"/>
<path stroke="#a2ff5e" d="M880.5 486v8M881.5 458v4M882.5 477v3M883.5 505v4M885.5 476v13M885.5 509v6M886.5 486v6M886.5 514v3M909.5 500v6M910.5 489v4M911.5 496v3M912.5 527v2M916.5 498v4M917.5 516v18M1381.5 496v6M1382.5 501v3M1383.5 525v7M1401.5 508v5M1402.5 485v2M1403.5 480v3M1405.5 501v8M1406.5 480v3M1407.5 484v2M1408.5 490v6M1409.5 425v4M1410.5 403v7M1411.5 433v3M1412.5 486v5M1423.5 481v7M1424.5 460v4M1425.5 481v7"/>
<path stroke="#c3ff3c" d="M880.5 494v12M881.5 462v4M882.5 480v3M883.5 509v3M885.5 489v20M886.5 492v22M909.5 506v5M910.5 493v3M911.5 499v6M912.5 529v3M916.5 502v11M1381.5 502v32M1382.5 504v5M1383.5 532v2M1401.5 513v6M1402.5 487v2M1403.5 483v4M1405.5 509v8M1406.5 483v3M1407.5 486v3M1408.5 496v4M1409.5 429v3M1410.5 410v6M1411.5 436v3M1412.5 491v5M1423.5 488v8M1424.5 464v4M1425.5 488v8"/>
<path stroke="#e5ff1a" d="M880.5 506v28M881.5 466v6M882.5 483v3M883.5 512v4M909.5 511v6M910.5 496v3M911.5 505v5M912.5 532v2M916.5 513v21M1382.5 509v25M1401.5 519v7M1402.5 489v2M1403.5 487v3M1405.5 517v7M1406.5 486v3M1407.5 489v3M1408.5 500v10M1409.5 432v2M1410.5 416v4M1411.5 439v2M1412.5 496v8M1412.5 521v13M1423.5 496v14M1424.5 468v5M1425.5 496v14"/>
<path stroke="#fff700" d="M881.5 472v6M882.5 486v3M883.5 516v6M909.5 517v6M910.5 499v5M911.5 510v6M1401.5 526v7M1402.5 491v5M1403.5 490v12M1405.5 524v8M1406.5 489v3M1407.5 492v3M1408.5 510v14M1409.5 434v3M1410.5 420v4M1411.5 441v3M1412.5 504v17M1423.5 510v24M1424.5 473v4M1425.5 510v24"/>
<path stroke="#ffd500" d="M881.5 478v5M882.5 489v3M883.5 522v9M909.5 523v7M910.5 504v6M911.5 516v5M1401.5 533v1M1402.5 496v13M1403.5 502v30M1405.5 532v2M1406.5 492v3M1407.5 495v2M1408.5 524v10M1409.5 437v3M1410.5 424v4M1411.5 444v3M1424.5 477v8"/>
<path stroke="#ffb300" d="M881.5 483v5M882.5 492v3M883.5 531v3M909.5 530v4M910.5 510v7M911.5 521v4M1402.5 509v16M1403.5 532v2M1406.5 495v3M1407.5 497v3M1409.5 440v2M1410.5 428v3M1411.5 447v4M1424.5 485v11M1424.5 530v4"/>
<path stroke="#ff9100" d="M881.5 488v4M882.5 495v5M910.5 517v6M911.5 525v3M1402.5 525v9M1406.5 498v5M1407.5 500v8M1409.5 442v5M1409.5 529v5M1410.5 431v3M1411.5 451v4M1411.5 532v2M1424.5 496v34"/>
<path stroke="#ff6e00" d="M881.5 492v7M882.5 500v5M910.5 523v4M911.5 528v4M1406.5 503v11M1407.5 508v9M1409.5 447v7M1409.5 523v6M1410.5 434v3M1410.5 529v5M1411.5 455v3M1411.5 526v6"/>
<path stroke="#ff4c00" d="M881.5 499v9M881.5 525v9M882.5 505v6M910.5 527v5M911.5 532v2M1406.5 514v11M1407.5 517v9M1409.5 454v7M1409.5 517v6M1410.5 437v2M1410.5 524v5M1411.5 458v4M1411.5 521v5"/>
<path stroke="#ff2a00" d="M881.5 508v17M882.5 511v23M910.5 532v2M1406.5 525v9M1407.5 526v8M1409.5 461v14M1409.5 509v8M1410.5 439v3M1410.5 519v5M1411.5 462v7M1411.5 515v6"/>
<path stroke="#ff0800" d="M1409.5 475v23M1409.5 501v8M1410.5 442v5M1410.5 514v5M1411.5 469v11M1411.5 509v6"/>
<path stroke="#e50000" d="M1409.5 498v3M1410.5 447v6M1410.5 508v6M1411.5 480v16M1411.5 502v7"/>
<path stroke="#c30000" d="M1410.5 453v8M1410.5 503v5M1411.5 496v6"/>
<path stroke="#a20000" d="M1410.5 461v42"/>
</g></g>
<path d="M836.5 348.90h6M1439.5 348.90h-6M836.5 367.00h6M1439.5 367.00h-6M836.5 387.50h6M1439.5 387.50h-6M836.5 411.20h6M1439.5 411.20h-6M836.5 438.10h6M1439.5 438.10h-6M836.5 469.30h6M1439.5 469.30h-6M836.5 488.30h6M1439.5 488.30h-6M836.5 508.30h6M1439.5 508.30h-6M836.5 532.30h6M1439.5 532.30h-6M911.88 330.5v6M911.88 534.5v-6M987.25 330.5v6M987.25 534.5v-6M1062.62 330.5v6M1062.62 534.5v-6M1138.00 330.5v6M1138.00 534.5v-6M1213.38 330.5v6M1213.38 534.5v-6M1288.75 330.5v6M1288.75 534.5v-6M1364.12 330.5v6M1364.12 534.5v-6" stroke="#000060" stroke-width="1" fill="none" opacity="0.55"/>
<path d="M836.0 534.5H1440.0" stroke="#555" stroke-width="1" fill="none" opacity="0.8"/>
<text x="832.2" y="334.6" text-anchor="end" font-weight="normal" font-size="12.4" >22</text>
<text x="832.2" y="353.3" text-anchor="end" font-weight="normal" font-size="12.4" >20</text>
<text x="832.2" y="371.4" text-anchor="end" font-weight="normal" font-size="12.4" >18</text>
<text x="832.2" y="391.9" text-anchor="end" font-weight="normal" font-size="12.4" >16</text>
<text x="832.2" y="415.6" text-anchor="end" font-weight="normal" font-size="12.4" >14</text>
<text x="832.2" y="442.5" text-anchor="end" font-weight="normal" font-size="12.4" >12</text>
<text x="832.2" y="473.7" text-anchor="end" font-weight="normal" font-size="12.4" >10</text>
<text x="832.2" y="492.7" text-anchor="end" font-weight="normal" font-size="12.4" >9</text>
<text x="832.2" y="512.7" text-anchor="end" font-weight="normal" font-size="12.4" >8</text>
<text x="832.2" y="536.7" text-anchor="end" font-weight="normal" font-size="12.4" >7</text>
<text x="836.4" y="549.1" text-anchor="middle" font-weight="normal" font-size="12.4" >00:00</text>
<text x="911.8" y="549.1" text-anchor="middle" font-weight="normal" font-size="12.4" >03:00</text>
<text x="987.1" y="549.1" text-anchor="middle" font-weight="normal" font-size="12.4" >06:00</text>
<text x="1062.5" y="549.1" text-anchor="middle" font-weight="normal" font-size="12.4" >09:00</text>
<text x="1137.9" y="549.1" text-anchor="middle" font-weight="normal" font-size="12.4" >12:00</text>
<text x="1213.3" y="549.1" text-anchor="middle" font-weight="normal" font-size="12.4" >15:00</text>
<text x="1288.7" y="549.1" text-anchor="middle" font-weight="normal" font-size="12.4" >18:00</text>
<text x="1364.0" y="549.1" text-anchor="middle" font-weight="normal" font-size="12.4" >21:00</text>
<text x="1439.4" y="549.1" text-anchor="middle" font-weight="normal" font-size="12.4" >00:00</text>
<text transform="translate(809.3,432.0) rotate(-90)" text-anchor="middle" font-weight="bold" font-size="12.4">freq (mHz)</text>
<rect x="1458.0" y="330.0" width="26.0" height="204.5" fill="url(#jet)"/>
<rect x="1458.5" y="330.5" width="25.0" height="204.0" fill="none" stroke="#444" stroke-opacity="0.45" stroke-width="1"/>
<text x="1487.0" y="334.5" text-anchor="start" font-weight="normal" font-size="12.4" >4</text>
<text x="1487.0" y="368.5" text-anchor="start" font-weight="normal" font-size="12.4" >3</text>
<text x="1487.0" y="402.5" text-anchor="start" font-weight="normal" font-size="12.4" >2</text>
<text x="1487.0" y="436.5" text-anchor="start" font-weight="normal" font-size="12.4" >1</text>
<text x="1487.0" y="470.5" text-anchor="start" font-weight="normal" font-size="12.4" >0</text>
<text x="1487.0" y="504.5" text-anchor="start" font-weight="normal" font-size="12.4" >-1</text>
<text x="1487.0" y="538.5" text-anchor="start" font-weight="normal" font-size="12.4" >-2</text>
<path d="M1458.5 364.50h3M1483.5 364.50h-3M1458.5 398.50h3M1483.5 398.50h-3M1458.5 432.50h3M1483.5 432.50h-3M1458.5 466.50h3M1483.5 466.50h-3M1458.5 500.50h3M1483.5 500.50h-3" stroke="#333" stroke-width="1" fill="none" opacity="0.6"/>
<text transform="translate(1518.8,432.5) rotate(-90)" text-anchor="middle" font-weight="bold" font-size="12.4">log<tspan dy="4.5" font-size="10.5">2</tspan><tspan dy="-4.5">(nT</tspan><tspan dy="-5.5" font-size="10.5">2</tspan><tspan dy="5.5">/Hz)</tspan></text>
<path d="M43.5 613.5V818.5M645.5 613.5V818.5" stroke="#b4b4b4" stroke-width="1" fill="none"/>
<path d="M43.0 614.0H646.0" stroke="#b0b0b0" stroke-width="1" fill="none"/>
<path d="M43.0 818.0H646.0" stroke="#8e8e8e" stroke-width="1" fill="none"/>
<path d="M118.75 614.0v6M118.75 818.0v-6M194.00 614.0v6M194.00 818.0v-6M269.25 614.0v6M269.25 818.0v-6M344.50 614.0v6M344.50 818.0v-6M419.75 614.0v6M419.75 818.0v-6M495.00 614.0v6M495.00 818.0v-6M570.25 614.0v6M570.25 818.0v-6M43.5 654.80h6M645.5 654.80h-6M43.5 695.60h6M645.5 695.60h-6M43.5 736.40h6M645.5 736.40h-6M43.5 777.20h6M645.5 777.20h-6" stroke="#a4a4a4" stroke-width="1" fill="none"/>
<g transform="scale(0.1)"><path d="M435 6943L440 6932L445 6933L450 6943L455 6934L460 6904L465 6934L470 6899L475 6940L480 6891L485 6942L490 6937L495 6931L500 6945L505 6934L510 6947L515 6924L520 6947L525 6938L530 6948L535 6916L540 6934L545 6933L550 6936L555 6910L560 6904L565 6944L570 6903L575 6933L580 6903L585 6942L590 6899L595 6919L600 6930L605 6945L610 6938L615 6896L620 6907L625 6897L630 6923L635 6920L640 6939L645 6912L650 6893L655 6932L660 6895L665 6910L670 6941L675 6933L680 6939L685 6945L690 6906L695 6944L700 6908L705 6914L710 6945L715 6941L720 6919L725 6926L730 6906L735 6883L740 6919L745 6938L750 6934L755 6898L760 6895L765 6894L770 6934L775 6911L780 6927L785 6942L790 6947L795 6923L800 6947L805 6924L810 6935L815 6936L820 6944L825 6948L830 6937L835 6947L840 6914L845 6939L850 6938L855 6945L860 6939L865 6942L870 6940L875 6906L880 6920L885 6880L890 6930L895 6931L900 6939L905 6943L910 6914L915 6926L920 6943L925 6914L930 6941L935 6940L940 6941L945 6942L950 6947L955 6922L960 6943L965 6945L970 6920L975 6929L980 6929L985 6903L990 6918L995 6946L1000 6910L1005 6946L1010 6918L1015 6940L1020 6927L1025 6929L1030 6930L1035 6931L1040 6934L1045 6924L1050 6946L1055 6943L1060 6944L1065 6939L1070 6920L1075 6936L1080 6899L1085 6903L1090 6943L1095 6896L1100 6944L1105 6940L1110 6909L1115 6914L1120 6948L1125 6922L1130 6936L1135 6923L1140 6948L1145 6927L1150 6923L1155 6938L1160 6945L1165 6943L1170 6937L1175 6914L1180 6912L1185 6944L1190 6941L1195 6936L1200 6942L1205 6916L1210 6938L1215 6922L1220 6871L1225 6905L1230 6934L1235 6875L1240 6942L1245 6892L1250 6922L1255 6888L1260 6902L1265 6907L1270 6900L1275 6906L1280 6932L1285 6926L1290 6907L1295 6918L1300 6933L1305 6946L1310 6948L1315 6940L1320 6946L1325 6928L1330 6940L1335 6915L1340 6910L1345 6947L1350 6915L1355 6910L1360 6938L1365 6896L1370 6938L1375 6922L1380 6931L1385 6945L1390 6915L1395 6918L1400 6909L1405 6938L1410 6876L1415 6939L1420 6925L1425 6879L1430 6907L1435 6918L1440 6924L1445 6945L1450 6948L1455 6948L1460 6948L1465 6947L1470 6943L1475 6922L1480 6915L1485 6901L1490 6934L1495 6902L1500 6946L1505 6942L1510 6941L1515 6924L1520 6926L1525 6919L1530 6931L1535 6946L1540 6933L1545 6941L1550 6948L1555 6944L1560 6924L1565 6932L1570 6919L1575 6945L1580 6946L1585 6929L1590 6927L1595 6945L1600 6913L1605 6940L1610 6946L1615 6947L1620 6923L1625 6918L1630 6915L1635 6908L1640 6923L1645 6939L1650 6925L1655 6925L1660 6945L1665 6918L1670 6896L1675 6943L1680 6923L1685 6931L1690 6923L1695 6888L1700 6924L1705 6935L1710 6886L1715 6928L1720 6884L1725 6920L1730 6943L1735 6932L1740 6930L1745 6918L1750 6925L1755 6933L1760 6898L1765 6884L1770 6944L1775 6937L1780 6901L1785 6913L1790 6907L1795 6926L1800 6910L1805 6927L1810 6942L1815 6932L1820 6929L1825 6926L1830 6916L1835 6943L1840 6896L1845 6924L1850 6920L1855 6942L1860 6933L1865 6902L1870 6945L1875 6895L1880 6941L1885 6940L1890 6925L1895 6908L1900 6930L1905 6944L1910 6925L1915 6937L1920 6948L1925 6930L1930 6948L1935 6942L1940 6930L1945 6932L1950 6897L1955 6912L1960 6912L1965 6942L1970 6914L1975 6910L1980 6931L1985 6942L1990 6936L1995 6939L2000 6942L2005 6945L2010 6933L2015 6887L2020 6897L2025 6912L2030 6904L2035 6936L2040 6902L2045 6932L2050 6918L2055 6906L2060 6911L2065 6920L2070 6919L2075 6938L2080 6901L2085 6942L2090 6913L2095 6911L2100 6933L2105 6924L2110 6917L2115 6898L2120 6930L2125 6915L2130 6922L2135 6921L2140 6925L2145 6937L2150 6923L2155 6937L2160 6932L2165 6942L2170 6899L2175 6939L2180 6895L2185 6930L2190 6931L2195 6936L2200 6939L2205 6927L2210 6889L2215 6916L2220 6930L2225 6936L2230 6944L2235 6927L2240 6930L2245 6943L2250 6932L2255 6893L2260 6944L2265 6940L2270 6899L2275 6941L2280 6934L2285 6888L2290 6916L2295 6933L2300 6942L2305 6917L2310 6921L2315 6945L2320 6936L2325 6945L2330 6914L2335 6915L2340 6904L2345 6936L2350 6946L2355 6917L2360 6945L2365 6913L2370 6926L2375 6944L2380 6908L2385 6925L2390 6889L2395 6935L2400 6921L2405 6918L2410 6917L2415 6898L2420 6927L2425 6945L2430 6909L2435 6892L2440 6943L2445 6935L2450 6940L2455 6915L2460 6941L2465 6941L2470 6935L2475 6941L2480 6929L2485 6941L2490 6940L2495 6946L2500 6941L2505 6930L2510 6915L2515 6924L2520 6908L2525 6925L2530 6926L2535 6939L2540 6933L2545 6895L2550 6945L2555 6925L2560 6929L2565 6917L2570 6937L2575 6919L2580 6884L2585 6911L2590 6903L2595 6913L2600 6903L2605 6942L2610 6943L2615 6943L2620 6930L2625 6918L2630 6897L2635 6944L2640 6919L2645 6925L2650 6920L2655 6933L2660 6937L2665 6925L2670 6942L2675 6922L2680 6902L2685 6896L2690 6928L2695 6919L2700 6922L2705 6901L2710 6909L2715 6934L2720 6902L2725 6933L2730 6930L2735 6925L2740 6948L2745 6930L2750 6945L2755 6930L2760 6939L2765 6939L2770 6934L2775 6912L2780 6946L2785 6935L2790 6915L2795 6907L2800 6929L2805 6933L2810 6924L2815 6942L2820 6934L2825 6944L2830 6934L2835 6928L2840 6910L2845 6940L2850 6942L2855 6925L2860 6940L2865 6926L2870 6934L2875 6844L2880 6824L2885 6878L2890 6777L2895 6831L2900 6907L2905 6736L2910 6726L2915 6835L2920 6889L2925 6857L2930 6895L2935 6865L2940 6787L2945 6891L2950 6878L2955 6817L2960 6878L2965 6861L2970 6827L2975 6872L2980 6901L2985 6899L2990 6900L2995 6872L3000 6844L3005 6827L3010 6816L3015 6854L3020 6789L3025 6891L3030 6807L3035 6774L3040 6874L3045 6779L3050 6892L3055 6841L3060 6911L3065 6797L3070 6915L3075 6771L3080 6893L3085 6805L3090 6864L3095 6759L3100 6778L3105 6782L3110 6756L3115 6894L3120 6880L3125 6908L3130 6712L3135 6875L3140 6878L3145 6796L3150 6768L3155 6711L3160 6711L3165 6868L3170 6711L3175 6780L3180 6854L3185 6801L3190 6812L3195 6789L3200 6710L3205 6755L3210 6863L3215 6862L3220 6849L3225 6749L3230 6871L3235 6876L3240 6810L3245 6729L3250 6876L3255 6767L3260 6880L3265 6857L3270 6778L3275 6770L3280 6913L3285 6907L3290 6894L3295 6742L3300 6777L3305 6839L3310 6776L3315 6901L3320 6793L3325 6858L3330 6917L3335 6773L3340 6892L3345 6844L3350 6933L3355 6915L3360 6901L3365 6927L3370 6869L3375 6914L3380 6928L3385 6915L3390 6875L3395 6883L3400 6881L3405 6929L3410 6909L3415 6931L3420 6938L3425 6928L3430 6929L3435 6906L3440 6905L3445 6933L3450 6928L3455 6909L3460 6904L3465 6930L3470 6892L3475 6935L3480 6928L3485 6934L3490 6931L3495 6939L3500 6918L3505 6925L3510 6884L3515 6870L3520 6914L3525 6919L3530 6941L3535 6916L3540 6936L3545 6922L3550 6941L3555 6905L3560 6925L3565 6920L3570 6937L3575 6935L3580 6927L3585 6915L3590 6912L3595 6890L3600 6926L3605 6937L3610 6919L3615 6913L3620 6922L3625 6943L3630 6947L3635 6910L3640 6939L3645 6908L3650 6908L3655 6872L3660 6897L3665 6897L3670 6935L3675 6926L3680 6925L3685 6912L3690 6900L3695 6943L3700 6943L3705 6905L3710 6941L3715 6905L3720 6875L3725 6930L3730 6934L3735 6938L3740 6899L3745 6920L3750 6927L3755 6932L3760 6918L3765 6933L3770 6936L3775 6943L3780 6939L3785 6897L3790 6937L3795 6935L3800 6861L3805 6916L3810 6940L3815 6935L3820 6906L3825 6910L3830 6943L3835 6944L3840 6899L3845 6942L3850 6897L3855 6931L3860 6897L3865 6878L3870 6888L3875 6942L3880 6942L3885 6927L3890 6931L3895 6943L3900 6925L3905 6920L3910 6922L3915 6928L3920 6903L3925 6932L3930 6898L3935 6869L3940 6938L3945 6920L3950 6903L3955 6931L3960 6932L3965 6938L3970 6905L3975 6914L3980 6911L3985 6939L3990 6938L3995 6943L4000 6921L4005 6905L4010 6923L4015 6940L4020 6939L4025 6907L4030 6937L4035 6937L4040 6906L4045 6943L4050 6917L4055 6907L4060 6932L4065 6909L4070 6944L4075 6940L4080 6931L4085 6947L4090 6933L4095 6945L4100 6928L4105 6934L4110 6928L4115 6901L4120 6932L4125 6934L4130 6912L4135 6933L4140 6908L4145 6927L4150 6947L4155 6923L4160 6935L4165 6923L4170 6940L4175 6931L4180 6934L4185 6912L4190 6913L4195 6909L4200 6946L4205 6918L4210 6931L4215 6947L4220 6932L4225 6906L4230 6915L4235 6946L4240 6940L4245 6908L4250 6942L4255 6938L4260 6946L4265 6942L4270 6911L4275 6911L4280 6921L4285 6937L4290 6946L4295 6932L4300 6890L4305 6912L4310 6881L4315 6911L4320 6928L4325 6927L4330 6887L4335 6942L4340 6920L4345 6923L4350 6941L4355 6914L4360 6922L4365 6930L4370 6915L4375 6923L4380 6897L4385 6933L4390 6939L4395 6920L4400 6909L4405 6895L4410 6925L4415 6930L4420 6920L4425 6917L4430 6912L4435 6927L4440 6940L4445 6930L4450 6942L4455 6934L4460 6912L4465 6936L4470 6946L4475 6900L4480 6934L4485 6943L4490 6899L4495 6940L4500 6935L4505 6947L4510 6920L4515 6947L4520 6945L4525 6937L4530 6942L4535 6943L4540 6945L4545 6942L4550 6937L4555 6941L4560 6906L4565 6917L4570 6939L4575 6925L4580 6916L4585 6918L4590 6932L4595 6922L4600 6902L4605 6911L4610 6902L4615 6923L4620 6940L4625 6873L4630 6926L4635 6924L4640 6942L4645 6897L4650 6941L4655 6941L4660 6941L4665 6934L4670 6903L4675 6930L4680 6926L4685 6895L4690 6874L4695 6924L4700 6939L4705 6887L4710 6880L4715 6887L4720 6942L4725 6941L4730 6944L4735 6910L4740 6875L4745 6940L4750 6903L4755 6924L4760 6918L4765 6926L4770 6931L4775 6924L4780 6894L4785 6922L4790 6920L4795 6934L4800 6927L4805 6883L4810 6933L4815 6939L4820 6928L4825 6940L4830 6938L4835 6893L4840 6917L4845 6898L4850 6934L4855 6925L4860 6891L4865 6943L4870 6934L4875 6943L4880 6937L4885 6938L4890 6944L4895 6924L4900 6938L4905 6943L4910 6933L4915 6935L4920 6877L4925 6921L4930 6939L4935 6859L4940 6900L4945 6909L4950 6906L4955 6912L4960 6927L4965 6935L4970 6913L4975 6930L4980 6917L4985 6926L4990 6946L4995 6922L5000 6937L5005 6945L5010 6945L5015 6943L5020 6945L5025 6928L5030 6927L5035 6942L5040 6948L5045 6935L5050 6934L5055 6943L5060 6915L5065 6932L5070 6934L5075 6930L5080 6883L5085 6898L5090 6892L5095 6919L5100 6936L5105 6918L5110 6916L5115 6922L5120 6948L5125 6946L5130 6921L5135 6936L5140 6909L5145 6942L5150 6926L5155 6944L5160 6934L5165 6941L5170 6947L5175 6919L5180 6937L5185 6945L5190 6930L5195 6944L5200 6935L5205 6924L5210 6948L5215 6943L5220 6948L5225 6928L5230 6925L5235 6941L5240 6904L5245 6941L5250 6938L5255 6947L5260 6913L5265 6910L5270 6920L5275 6944L5280 6946L5285 6927L5290 6935L5295 6937L5300 6945L5305 6922L5310 6948L5315 6931L5320 6946L5325 6943L5330 6947L5335 6922L5340 6909L5345 6906L5350 6935L5355 6890L5360 6907L5365 6918L5370 6936L5375 6929L5380 6927L5385 6905L5390 6897L5395 6944L5400 6928L5405 6924L5410 6933L5415 6938L5420 6942L5425 6946L5430 6925L5435 6933L5440 6944L5445 6948L5450 6948L5455 6942L5460 6948L5465 6948L5470 6938L5475 6948L5480 6927L5485 6946L5490 6928L5495 6931L5500 6945L5505 6912L5510 6946L5515 6947L5520 6907L5525 6909L5530 6916L5535 6947L5540 6945L5545 6935L5550 6940L5555 6918L5560 6942L5565 6911L5570 6940L5575 6929L5580 6937L5585 6946L5590 6943L5595 6899L5600 6944L5605 6921L5610 6927L5615 6918L5620 6925L5625 6948L5630 6919L5635 6934L5640 6923L5645 6942L5650 6915L5655 6905L5660 6924L5665 6934L5670 6942L5675 6927L5680 6945L5685 6944L5690 6922L5695 6919L5700 6927L5705 6940L5710 6914L5715 6945L5720 6914L5725 6898L5730 6887L5735 6938L5740 6910L5745 6936L5750 6942L5755 6924L5760 6929L5765 6934L5770 6933L5775 6937L5780 6941L5785 6920L5790 6887L5795 6920L5800 6927L5805 6912L5810 6889L5815 6941L5820 6945L5825 6941L5830 6933L5835 6918L5840 6911L5845 6920L5850 6937L5855 6904L5860 6944L5865 6942L5870 6928L5875 6943L5880 6929L5885 6912L5890 6937L5895 6940L5900 6935L5905 6937L5910 6940L5915 6905L5920 6941L5925 6928L5930 6919L5935 6937L5940 6919L5945 6923L5950 6933L5955 6923L5960 6881L5965 6927L5970 6925L5975 6902L5980 6945L5985 6914L5990 6942L5995 6905L6000 6945L6005 6944L6010 6927L6015 6882L6020 6901L6025 6911L6030 6939L6035 6930L6040 6908L6045 6918L6050 6917L6055 6944L6060 6948L6065 6936L6070 6940L6075 6920L6080 6943L6085 6937L6090 6918L6095 6909L6100 6944L6105 6902L6110 6885L6115 6895L6120 6914L6125 6915L6130 6901L6135 6940L6140 6929L6145 6889L6150 6938L6155 6870L6160 6932L6165 6937L6170 6928L6175 6866L6180 6859L6185 6875L6190 6887L6195 6793L6200 6907L6205 6897L6210 6926L6215 6909L6220 6917L6225 6933L6230 6935L6235 6934L6240 6886L6245 6935L6250 6935L6255 6901L6260 6894L6265 6922L6270 6937L6275 6928L6280 6907L6285 6919L6290 6918L6295 6893L6300 6884L6305 6874L6310 6879L6315 6892L6320 6923L6325 6926L6330 6915L6335 6940L6340 6913L6345 6901L6350 6903L6355 6908L6360 6919L6365 6903L6370 6929L6375 6925L6380 6934L6385 6932L6390 6942L6395 6940L6400 6893L6405 6940L6410 6942L6415 6917L6420 6903L6425 6934L6430 6887L6435 6943L6440 6917L6445 6912L6450 6875L6455 6921L6455 6994L6450 7038L6445 7001L6440 7034L6435 7024L6430 7012L6425 6978L6420 7004L6415 6989L6410 6977L6405 6969L6400 7009L6395 6989L6390 7021L6385 6971L6380 7001L6375 6999L6370 6978L6365 6978L6360 6965L6355 7005L6350 6999L6345 7018L6340 6973L6335 7044L6330 7010L6325 6979L6320 6984L6315 6971L6310 6971L6305 7004L6300 6989L6295 6982L6290 6998L6285 7067L6280 7030L6275 7033L6270 6973L6265 6983L6260 6989L6255 7031L6250 7002L6245 7013L6240 7026L6235 6976L6230 7004L6225 6970L6220 7012L6215 6972L6210 7028L6205 6978L6200 7056L6195 7083L6190 7022L6185 7122L6180 7018L6175 7054L6170 7049L6165 7011L6160 7009L6155 6996L6150 7005L6145 6990L6140 6985L6135 6978L6130 6971L6125 6984L6120 6995L6115 6976L6110 6970L6105 6982L6100 6969L6095 7000L6090 6974L6085 6974L6080 6976L6075 7019L6070 6990L6065 6977L6060 6969L6055 6968L6050 6988L6045 6979L6040 6979L6035 6999L6030 6970L6025 6998L6020 6988L6015 7036L6010 6989L6005 6998L6000 6989L5995 6967L5990 7011L5985 7001L5980 6983L5975 6972L5970 7015L5965 6975L5960 7037L5955 6972L5950 6976L5945 7025L5940 7009L5935 6987L5930 7011L5925 6968L5920 6966L5915 6991L5910 7009L5905 6998L5900 7013L5895 7012L5890 7007L5885 6977L5880 6964L5875 6976L5870 6964L5865 7006L5860 6979L5855 7014L5850 6970L5845 6977L5840 6984L5835 6965L5830 6966L5825 6968L5820 6993L5815 6976L5810 6990L5805 6975L5800 6977L5795 6972L5790 6981L5785 7020L5780 7001L5775 6991L5770 6989L5765 6984L5760 7004L5755 7002L5750 6971L5745 6986L5740 6971L5735 7004L5730 6981L5725 6972L5720 7006L5715 6993L5710 6979L5705 6994L5700 7002L5695 6969L5690 6983L5685 6964L5680 6976L5675 6998L5670 6966L5665 6989L5660 7006L5655 7015L5650 6973L5645 6978L5640 6973L5635 6979L5630 6989L5625 6982L5620 6965L5615 7007L5610 6994L5605 6968L5600 6974L5595 6985L5590 6990L5585 6977L5580 7004L5575 6988L5570 6989L5565 6996L5560 6987L5555 7001L5550 6976L5545 7008L5540 6966L5535 6971L5530 6983L5525 6976L5520 6967L5515 6975L5510 6986L5505 6970L5500 6982L5495 6967L5490 6979L5485 6981L5480 6972L5475 6977L5470 6966L5465 6984L5460 6964L5455 6971L5450 6980L5445 6964L5440 6978L5435 6991L5430 6999L5425 7000L5420 7015L5415 6967L5410 7004L5405 6974L5400 6982L5395 7010L5390 6987L5385 7001L5380 6998L5375 7021L5370 6970L5365 6994L5360 7006L5355 6974L5350 6977L5345 6978L5340 6966L5335 6992L5330 6965L5325 6964L5320 6998L5315 6979L5310 6986L5305 6972L5300 6979L5295 6965L5290 7001L5285 6965L5280 6967L5275 6981L5270 6989L5265 6982L5260 6966L5255 6993L5250 6966L5245 6991L5240 6977L5235 6975L5230 7007L5225 6965L5220 6965L5215 6982L5210 6978L5205 6968L5200 6964L5195 6968L5190 6984L5185 6966L5180 6978L5175 7002L5170 6983L5165 6979L5160 6967L5155 7005L5150 6971L5145 6972L5140 7004L5135 7001L5130 6988L5125 6967L5120 6980L5115 6968L5110 6994L5105 6977L5100 6965L5095 7012L5090 6969L5085 7021L5080 6991L5075 6984L5070 6994L5065 7014L5060 6966L5055 6968L5050 6970L5045 6987L5040 6974L5035 6964L5030 6990L5025 6964L5020 6965L5015 6969L5010 6966L5005 6966L5000 6973L4995 6986L4990 7004L4985 6965L4980 6967L4975 6971L4970 6967L4965 6975L4960 6981L4955 7034L4950 6993L4945 7020L4940 6988L4935 7039L4930 6983L4925 7005L4920 6976L4915 7022L4910 7013L4905 6982L4900 6968L4895 6989L4890 6985L4885 6966L4880 6971L4875 6986L4870 6993L4865 7012L4860 6998L4855 7005L4850 6967L4845 6969L4840 7012L4835 7020L4830 6974L4825 6968L4820 6985L4815 6983L4810 7019L4805 7009L4800 6992L4795 7005L4790 6978L4785 6986L4780 6970L4775 6987L4770 6986L4765 6983L4760 7015L4755 7000L4750 6985L4745 7011L4740 7010L4735 6969L4730 6992L4725 7015L4720 6969L4715 7004L4710 6974L4705 6980L4700 6974L4695 7000L4690 6992L4685 7000L4680 6988L4675 6984L4670 6975L4665 6985L4660 6995L4655 6991L4650 6970L4645 7006L4640 6985L4635 6978L4630 6976L4625 6988L4620 7000L4615 7003L4610 6996L4605 7017L4600 6990L4595 6967L4590 7005L4585 6968L4580 6966L4575 6991L4570 6970L4565 6983L4560 6974L4555 6977L4550 7003L4545 6982L4540 6972L4535 6982L4530 6997L4525 6979L4520 6967L4515 6984L4510 6991L4505 6976L4500 6994L4495 6972L4490 6975L4485 6991L4480 6997L4475 6966L4470 6994L4465 6969L4460 6978L4455 6977L4450 6975L4445 6998L4440 7014L4435 6981L4430 7024L4425 6993L4420 7007L4415 6983L4410 7001L4405 6984L4400 7000L4395 7003L4390 6993L4385 6990L4380 7017L4375 6975L4370 6982L4365 6974L4360 7036L4355 7037L4350 6972L4345 6997L4340 6969L4335 6970L4330 6976L4325 6974L4320 6994L4315 7016L4310 6980L4305 6972L4300 6986L4295 7006L4290 6979L4285 7008L4280 7000L4275 6979L4270 6971L4265 6979L4260 6992L4255 6967L4250 6973L4245 6991L4240 7001L4235 6995L4230 6965L4225 7005L4220 6991L4215 6974L4210 6972L4205 6986L4200 6967L4195 6989L4190 6990L4185 6993L4180 7002L4175 6978L4170 6982L4165 6974L4160 6972L4155 6967L4150 6986L4145 6985L4140 6975L4135 7006L4130 6966L4125 6967L4120 6967L4115 6993L4110 7001L4105 6968L4100 6979L4095 6965L4090 6987L4085 6968L4080 6986L4075 6990L4070 6983L4065 6998L4060 6966L4055 6974L4050 6978L4045 7002L4040 7014L4035 6981L4030 7008L4025 7025L4020 6983L4015 6999L4010 7021L4005 7026L4000 6980L3995 6972L3990 6990L3985 7015L3980 7016L3975 7010L3970 7006L3965 6974L3960 6991L3955 7059L3950 7008L3945 7041L3940 7047L3935 6978L3930 6974L3925 6978L3920 7040L3915 7021L3910 6983L3905 7044L3900 6994L3895 6973L3890 7008L3885 6968L3880 7013L3875 6976L3870 7011L3865 6991L3860 7038L3855 7011L3850 6986L3845 7015L3840 7001L3835 6983L3830 6975L3825 6983L3820 6969L3815 7034L3810 7012L3805 7035L3800 6977L3795 6984L3790 7049L3785 7054L3780 6984L3775 7021L3770 6971L3765 6969L3760 6968L3755 6965L3750 6979L3745 6972L3740 6987L3735 6970L3730 7041L3725 6973L3720 7009L3715 6982L3710 6970L3705 7016L3700 7027L3695 6977L3690 6983L3685 6993L3680 7020L3675 6983L3670 6993L3665 6990L3660 7004L3655 7045L3650 7001L3645 6991L3640 6970L3635 6968L3630 6997L3625 6968L3620 6967L3615 7010L3610 7004L3605 7042L3600 7009L3595 7021L3590 6976L3585 7000L3580 7030L3575 6989L3570 6971L3565 6967L3560 7006L3555 6967L3550 7003L3545 6972L3540 6992L3535 6985L3530 6981L3525 6981L3520 7026L3515 6981L3510 7049L3505 6975L3500 7047L3495 6978L3490 6992L3485 6977L3480 6991L3475 7040L3470 7056L3465 6990L3460 6992L3455 6979L3450 7004L3445 6980L3440 6971L3435 6986L3430 6981L3425 6975L3420 6981L3415 6988L3410 6999L3405 6988L3400 7019L3395 7006L3390 7021L3385 6979L3380 6982L3375 6981L3370 7022L3365 7033L3360 7000L3355 7023L3350 7074L3345 6983L3340 7040L3335 7033L3330 7121L3325 7017L3320 7059L3315 7017L3310 7010L3305 7025L3300 7130L3295 7051L3290 7146L3285 7110L3280 7135L3275 7057L3270 7012L3265 7018L3260 7082L3255 7203L3250 7203L3245 7172L3240 7078L3235 7203L3230 7149L3225 7202L3220 7024L3215 7159L3210 7179L3205 7047L3200 7202L3195 7202L3190 7057L3185 7201L3180 7022L3175 7187L3170 7147L3165 7140L3160 7119L3155 7201L3150 7049L3145 7200L3140 7053L3135 7064L3130 7072L3125 7046L3120 7069L3115 7151L3110 7200L3105 7031L3100 7035L3095 7053L3090 7146L3085 7028L3080 7050L3075 6997L3070 7023L3065 7015L3060 6999L3055 7128L3050 7176L3045 7063L3040 7175L3035 7014L3030 7105L3025 7047L3020 7009L3015 7133L3010 7142L3005 7010L3000 7197L2995 7197L2990 7196L2985 7155L2980 7066L2975 7022L2970 7059L2965 7047L2960 7069L2955 7020L2950 7176L2945 7014L2940 7031L2935 7060L2930 7062L2925 7059L2920 7142L2915 7035L2910 7013L2905 7018L2900 7176L2895 7013L2890 7037L2885 7115L2880 7053L2875 7088L2870 6994L2865 6993L2860 6966L2855 6965L2850 6992L2845 6967L2840 6980L2835 6986L2830 6968L2825 6997L2820 6999L2815 7010L2810 6992L2805 6966L2800 6993L2795 6968L2790 6983L2785 7001L2780 6983L2775 6982L2770 6998L2765 6968L2760 6966L2755 6981L2750 6989L2745 6981L2740 6964L2735 6967L2730 7010L2725 6984L2720 7010L2715 6974L2710 6991L2705 6971L2700 7015L2695 6976L2690 6993L2685 7005L2680 6999L2675 6982L2670 6973L2665 6983L2660 6966L2655 6978L2650 6965L2645 6988L2640 7009L2635 6968L2630 7007L2625 7002L2620 7007L2615 6978L2610 6981L2605 7014L2600 6985L2595 6969L2590 6977L2585 6975L2580 6996L2575 6987L2570 6988L2565 6993L2560 6978L2555 7008L2550 7006L2545 6974L2540 6986L2535 6993L2530 6993L2525 6975L2520 7010L2515 6965L2510 6985L2505 6964L2500 6977L2495 6978L2490 6983L2485 6979L2480 6982L2475 6978L2470 6978L2465 6997L2460 6999L2455 6994L2450 6970L2445 7014L2440 6969L2435 7012L2430 7006L2425 6976L2420 6974L2415 6982L2410 6978L2405 6982L2400 7022L2395 6983L2390 6992L2385 6999L2380 7001L2375 6978L2370 6998L2365 6967L2360 6967L2355 7000L2350 6974L2345 7015L2340 6995L2335 7006L2330 7011L2325 6970L2320 6981L2315 6967L2310 7001L2305 6992L2300 6994L2295 6993L2290 7021L2285 7019L2280 7017L2275 6986L2270 7021L2265 7018L2260 6982L2255 7014L2250 6971L2245 6989L2240 6978L2235 7011L2230 6967L2225 6974L2220 6985L2215 7009L2210 6969L2205 6967L2200 6980L2195 6969L2190 7004L2185 6974L2180 6981L2175 7024L2170 6973L2165 6979L2160 7016L2155 7010L2150 6984L2145 6985L2140 6967L2135 6967L2130 6965L2125 6968L2120 6969L2115 6967L2110 6980L2105 6996L2100 6975L2095 6975L2090 7003L2085 6985L2080 6979L2075 7010L2070 6976L2065 7011L2060 6968L2055 6971L2050 6970L2045 6981L2040 7033L2035 6982L2030 6976L2025 7028L2020 7001L2015 7012L2010 6968L2005 6970L2000 6969L1995 6971L1990 6987L1985 6970L1980 6987L1975 6967L1970 6989L1965 7014L1960 7003L1955 6986L1950 7004L1945 6968L1940 7009L1935 7002L1930 6981L1925 6993L1920 6976L1915 6968L1910 6983L1905 6969L1900 7002L1895 6966L1890 6965L1885 6972L1880 7011L1875 6995L1870 6968L1865 7019L1860 7006L1855 6993L1850 7000L1845 6994L1840 6976L1835 6973L1830 6972L1825 6969L1820 6990L1815 7010L1810 6968L1805 6971L1800 6983L1795 6987L1790 6965L1785 6998L1780 6980L1775 6969L1770 7026L1765 6973L1760 6977L1755 7018L1750 6992L1745 6985L1740 6967L1735 6970L1730 7001L1725 6973L1720 6997L1715 6989L1710 6985L1705 6976L1700 6982L1695 6970L1690 6972L1685 7035L1680 7033L1675 6970L1670 7007L1665 6992L1660 7010L1655 7009L1650 6997L1645 7004L1640 6972L1635 6980L1630 6964L1625 6971L1620 6993L1615 6999L1610 6970L1605 6974L1600 6998L1595 6981L1590 6978L1585 6964L1580 6973L1575 6996L1570 6967L1565 6983L1560 6965L1555 6966L1550 6980L1545 6992L1540 6967L1535 6972L1530 6979L1525 6982L1520 6977L1515 6967L1510 6964L1505 6967L1500 6972L1495 6991L1490 6972L1485 7004L1480 6968L1475 6982L1470 7010L1465 7003L1460 6993L1455 6966L1450 6969L1445 7004L1440 6965L1435 6993L1430 6967L1425 6983L1420 6986L1415 6989L1410 7034L1405 6983L1400 6997L1395 6992L1390 6983L1385 6968L1380 6990L1375 7031L1370 6971L1365 7012L1360 6970L1355 6981L1350 6977L1345 6983L1340 6965L1335 6999L1330 6976L1325 6969L1320 6966L1315 6985L1310 6988L1305 6970L1300 6993L1295 6970L1290 6994L1285 6993L1280 6968L1275 7014L1270 6985L1265 6978L1260 7000L1255 6995L1250 6977L1245 7020L1240 7012L1235 6972L1230 7017L1225 7027L1220 7000L1215 6979L1210 7002L1205 6968L1200 6968L1195 6975L1190 7017L1185 6977L1180 6970L1175 6966L1170 7003L1165 6964L1160 6968L1155 6964L1150 6966L1145 6985L1140 6972L1135 6964L1130 6995L1125 6967L1120 6976L1115 6980L1110 6976L1105 6984L1100 6984L1095 6974L1090 6997L1085 6974L1080 7002L1075 6967L1070 6984L1065 6968L1060 6973L1055 7001L1050 6966L1045 6966L1040 6985L1035 6980L1030 6994L1025 6969L1020 6991L1015 6969L1010 6988L1005 7005L1000 6966L995 6970L990 6981L985 6982L980 7005L975 6973L970 6996L965 7001L960 7002L955 6968L950 6978L945 6968L940 6966L935 6964L930 6975L925 6966L920 6972L915 6978L910 6990L905 6983L900 6973L895 6984L890 6989L885 7036L880 7018L875 7024L870 6998L865 6998L860 6991L855 6970L850 6994L845 7002L840 6974L835 6972L830 6970L825 6984L820 6990L815 6989L810 6987L805 6982L800 6971L795 6964L790 6988L785 7008L780 7003L775 6973L770 6985L765 7015L760 6976L755 6997L750 7017L745 6973L740 7024L735 6994L730 6973L725 6980L720 6987L715 7001L710 6968L705 6989L700 6974L695 6974L690 6976L685 6978L680 6977L675 6993L670 6967L665 6972L660 6990L655 6974L650 7005L645 7028L640 6989L635 6986L630 6969L625 6967L620 7004L615 7001L610 6969L605 7005L600 6996L595 7009L590 6971L585 6980L580 6985L575 6991L570 7001L565 6992L560 7004L555 6994L550 6966L545 6996L540 6987L535 6997L530 6986L525 6989L520 6964L515 6973L510 6967L505 6986L500 6991L495 6975L490 7019L485 6983L480 6969L475 6977L470 7016L465 6975L460 6999L455 6983L450 6972L445 6990L440 7014L435 7009Z" fill="#0000ff"/>
<path d="M438 6929v99M448 6935v74M458 6938v60M468 6931v64M478 6911v84M488 6926v54M498 6916v107M508 6927v101M518 6928v106M528 6924v68M538 6894v107M548 6873v112M558 6928v79M568 6930v54M578 6931v42M588 6913v80M598 6909v114M608 6926v59M618 6884v157M628 6925v71M638 6900v90M648 6883v109M658 6918v82M668 6922v113M678 6910v80M688 6929v51M698 6901v115M708 6902v80M718 6931v70M728 6933v69M738 6920v53M748 6929v51M758 6893v117M768 6901v150M778 6905v103M788 6923v67M798 6900v95M808 6914v118M818 6921v131M828 6924v87M838 6896v114M848 6865v170M858 6905v86M868 6924v82M878 6884v98M888 6905v115M898 6920v105M908 6930v60M918 6930v59M928 6930v47M938 6900v80M948 6907v79M958 6884v117M968 6886v163M978 6926v58M988 6929v99M998 6924v112M1008 6909v81M1018 6856v174M1028 6919v95M1038 6878v102M1048 6881v118M1058 6890v89M1068 6902v114M1078 6873v108M1088 6906v80M1098 6871v144M1108 6915v71M1118 6876v151M1128 6877v163M1138 6931v57M1148 6880v103M1158 6929v67M1168 6901v141M1178 6892v93M1188 6899v117M1198 6880v103M1208 6909v148M1218 6896v96M1228 6883v163M1238 6853v207M1248 6920v114M1258 6930v96M1268 6932v91M1278 6916v65M1288 6922v65M1298 6912v92M1308 6853v132M1318 6933v93M1328 6929v52M1338 6925v71M1348 6925v69M1358 6932v54M1368 6923v62M1378 6912v75M1388 6929v63M1398 6871v162M1408 6905v139M1418 6927v56M1428 6867v136M1438 6874v112M1448 6910v76M1458 6916v71M1468 6897v89M1478 6926v65M1488 6892v153M1498 6895v87M1508 6929v94M1518 6883v127M1528 6899v115M1538 6834v245M1548 6913v75M1558 6918v86M1568 6935v53M1578 6901v72M1588 6931v79M1598 6907v103M1608 6906v160M1618 6879v130M1628 6913v87M1638 6866v174M1648 6929v73M1658 6898v100M1668 6918v77M1678 6908v121M1688 6899v127M1698 6900v87M1708 6908v113M1718 6910v88M1728 6863v120M1738 6856v226M1748 6915v176M1758 6807v210M1768 6902v132M1778 6859v218M1788 6785v325M1798 6844v253M1808 6916v164M1818 6889v106M1828 6894v135M1838 6917v86M1848 6916v200M1858 6906v200M1868 6830v165M1878 6823v213M1888 6858v183M1898 6843v184M1908 6933v62M1918 6922v117M1928 6873v187M1938 6810v239M1948 6830v179M1958 6880v127M1968 6819v185M1978 6885v120M1988 6911v196M1998 6785v276M2008 6815v242M2018 6924v83M2028 6920v77M2038 6857v188M2048 6935v78M2058 6918v56M2068 6928v65M2078 6895v88M2088 6923v72M2098 6899v83M2108 6909v72M2118 6912v91M2128 6912v79M2138 6890v106M2148 6920v77M2158 6878v115M2168 6928v64M2178 6912v95M2188 6895v155M2198 6894v111M2208 6854v141M2218 6881v193M2228 6900v126M2238 6893v85M2248 6902v133M2258 6870v111M2268 6883v126M2278 6911v153M2288 6896v140M2298 6881v111M2308 6928v65M2318 6878v135M2328 6886v126M2338 6900v77M2348 6938v46M2358 6936v38M2368 6908v137M2378 6892v123M2388 6829v243M2398 6901v142M2408 6884v185M2418 6898v118M2428 6816v274M2438 6851v164M2448 6874v117M2458 6934v97M2468 6936v50M2478 6934v98M2488 6873v116M2498 6863v128M2508 6891v151M2518 6926v114M2528 6925v55M2538 6894v90M2548 6893v81M2558 6879v101M2568 6904v94M2578 6897v111M2588 6877v129M2598 6920v108M2608 6890v170M2618 6914v145M2628 6916v76M2638 6862v134M2648 6898v190M2658 6852v175M2668 6903v118M2678 6905v88M2688 6931v43M2698 6916v77M2708 6873v122M2718 6884v108M2728 6878v157M2738 6854v191M2748 6893v122M2758 6916v67M2768 6932v54M2778 6928v64M2788 6890v98M2798 6896v90M2808 6929v75M2818 6892v114M2828 6853v159M2838 6910v112M2848 6859v167M2858 6920v70M2868 6843v198M2878 6792v354M2888 6725v373M2898 6741v414M2908 6754v359M2918 6766v387M2928 6795v378M2938 6772v350M2948 6756v398M2958 6742v489M2968 6674v586M2978 6748v415M2988 6712v395M2998 6824v263M3008 6778v353M3018 6671v522M3028 6678v567M3038 6628v532M3048 6731v452M3058 6821v321M3068 6831v223M3078 6860v223M3088 6832v293M3098 6796v355M3108 6801v312M3118 6761v387M3128 6694v444M3138 6710v491M3148 6701v557M3158 6757v482M3168 6695v445M3178 6701v503M3188 6818v273M3198 6824v252M3208 6861v228M3218 6846v211M3228 6845v268M3238 6749v405M3248 6759v404M3258 6657v574M3268 6694v468M3278 6800v336M3288 6772v305M3298 6807v316M3308 6790v300M3318 6743v349M3328 6697v409M3338 6766v309M3348 6754v318M3358 6851v173M3368 6872v170M3378 6811v207M3388 6804v320M3398 6899v159M3408 6857v184M3418 6849v154M3428 6911v147M3438 6877v112M3448 6895v92M3458 6873v151M3468 6826v212M3478 6806v269M3488 6891v123M3498 6857v197M3508 6851v165M3518 6912v101M3528 6815v188M3538 6838v250M3548 6882v159M3558 6902v105M3568 6920v93M3578 6865v126M3588 6885v129M3598 6907v116M3608 6906v79M3618 6922v99M3628 6909v85M3638 6888v109M3648 6915v78M3658 6885v134M3668 6904v82M3678 6926v100M3688 6930v79M3698 6921v61M3708 6893v121M3718 6915v89M3728 6883v119M3738 6907v141M3748 6846v194M3758 6884v165M3768 6922v87M3778 6858v161M3788 6913v86M3798 6922v64M3808 6913v104M3818 6917v115M3828 6818v248M3838 6909v92M3848 6922v70M3858 6927v69M3868 6931v54M3878 6934v42M3888 6905v73M3898 6926v54M3908 6937v45M3918 6910v77M3928 6839v209M3938 6822v210M3948 6887v143M3958 6894v131M3968 6913v110M3978 6914v148M3988 6886v102M3998 6899v164M4008 6903v216M4018 6815v314M4028 6871v145M4038 6893v128M4048 6905v174M4058 6883v199M4068 6906v81M4078 6884v176M4088 6853v184M4098 6911v133M4108 6928v83M4118 6931v51M4128 6930v84M4138 6870v127M4148 6912v89M4158 6897v117M4168 6827v258M4178 6908v99M4188 6877v112M4198 6922v82M4208 6881v133M4218 6907v106M4228 6932v45M4238 6929v73M4248 6924v94M4258 6934v94M4268 6898v77M4278 6912v115M4288 6871v168M4298 6877v136M4308 6909v99M4318 6908v83M4328 6824v221M4338 6901v133M4348 6903v138M4358 6847v149M4368 6841v219M4378 6871v186M4388 6925v74M4398 6932v109M4408 6900v145M4418 6922v111M4428 6867v135M4438 6915v118M4448 6918v138M4458 6900v185M4468 6855v171M4478 6896v150M4488 6924v81M4498 6926v79M4508 6924v54M4518 6897v82M4528 6918v101M4538 6915v89M4548 6920v140M4558 6836v226M4568 6848v151M4578 6931v46M4588 6896v79M4598 6896v88M4608 6901v131M4618 6823v174M4628 6893v129M4638 6879v117M4648 6911v88M4658 6875v175M4668 6878v235M4678 6853v185M4688 6885v143M4698 6902v131M4708 6905v117M4718 6798v323M4728 6881v120M4738 6918v110M4748 6915v93M4758 6858v197M4768 6897v108M4778 6901v80M4788 6884v154M4798 6859v216M4808 6916v77M4818 6808v194M4828 6908v209M4838 6896v207M4848 6831v182M4858 6842v209M4868 6865v183M4878 6837v292M4888 6796v230M4898 6910v89M4908 6897v201M4918 6904v150M4928 6884v120M4938 6907v90M4948 6877v129M4958 6911v91M4968 6923v163M4978 6819v287M4988 6925v96M4998 6926v56M5008 6900v81M5018 6909v92M5028 6906v82M5038 6905v93M5048 6930v52M5058 6914v70M5068 6915v110M5078 6892v119M5088 6884v117M5098 6912v85M5108 6873v121M5118 6912v120M5128 6874v122M5138 6871v135M5148 6899v126M5158 6898v93M5168 6929v70M5178 6900v96M5188 6898v105M5198 6866v156M5208 6914v66M5218 6912v64M5228 6918v67M5238 6922v83M5248 6881v120M5258 6912v91M5268 6895v98M5278 6887v95M5288 6931v72M5298 6890v121M5308 6885v161M5318 6920v73M5328 6921v70M5338 6889v111M5348 6914v136M5358 6920v126M5368 6893v106M5378 6882v106M5388 6926v68M5398 6920v91M5408 6919v79M5418 6898v96M5428 6925v71M5438 6934v53M5448 6920v60M5458 6893v145M5468 6898v135M5478 6923v112M5488 6907v117M5498 6928v70M5508 6900v79M5518 6918v63M5528 6879v108M5538 6918v133M5548 6876v161M5558 6861v152M5568 6860v185M5578 6920v73M5588 6913v118M5598 6919v78M5608 6859v160M5618 6890v114M5628 6923v67M5638 6883v100M5648 6900v88M5658 6931v83M5668 6931v69M5678 6918v80M5688 6933v51M5698 6886v99M5708 6920v76M5718 6902v106M5728 6926v58M5738 6908v71M5748 6923v58M5758 6932v64M5768 6890v121M5778 6928v78M5788 6901v81M5798 6923v79M5808 6909v129M5818 6922v74M5828 6906v120M5838 6929v79M5848 6883v118M5858 6863v128M5868 6873v160M5878 6888v132M5888 6919v56M5898 6930v55M5908 6930v52M5918 6934v46M5928 6924v61M5938 6891v176M5948 6890v104M5958 6828v215M5968 6902v132M5978 6864v180M5988 6915v100M5998 6928v57M6008 6922v85M6018 6909v112M6028 6902v111M6038 6876v121M6048 6865v147M6058 6901v119M6068 6906v146M6078 6883v161M6088 6887v126M6098 6929v53M6108 6924v67M6118 6923v80M6128 6913v91M6138 6868v116M6148 6903v102M6158 6906v187M6168 6846v233M6178 6892v123M6188 6917v86M6198 6904v127M6208 6861v263M6218 6855v236M6228 6868v195M6238 6836v203M6248 6742v277M6258 6753v341M6268 6833v187M6278 6881v148M6288 6820v189M6298 6897v152M6308 6915v102M6318 6901v184M6328 6900v143M6338 6905v189M6348 6795v264M6358 6896v177M6368 6886v143M6378 6841v208M6388 6912v133M6398 6915v149M6408 6909v91M6418 6913v111M6428 6846v202M6438 6911v157M6448 6849v156" fill="none" stroke="#0000ff" stroke-width="5" stroke-opacity="0.8"/>
<path d="M442 6899v114M452 6900v92M462 6920v96M472 6922v63M482 6922v67M492 6893v98M502 6930v97M512 6931v76M522 6925v100M532 6930v95M542 6928v95M552 6916v68M562 6929v55M572 6901v100M582 6893v129M592 6915v113M602 6890v117M612 6924v96M622 6900v87M632 6885v155M642 6876v112M652 6899v135M662 6896v112M672 6930v59M682 6926v48M692 6922v90M702 6931v83M712 6896v118M722 6928v89M732 6893v128M742 6912v144M752 6863v154M762 6851v191M772 6907v109M782 6919v128M792 6889v111M802 6921v119M812 6921v69M822 6908v83M832 6909v71M842 6908v99M852 6926v76M862 6934v83M872 6931v66M882 6930v104M892 6894v106M902 6892v133M912 6922v59M922 6892v117M932 6930v58M942 6913v78M952 6889v143M962 6862v158M972 6859v199M982 6872v122M992 6930v52M1002 6894v88M1012 6897v88M1022 6890v144M1032 6911v131M1042 6898v93M1052 6911v127M1062 6875v151M1072 6916v74M1082 6885v106M1092 6853v162M1102 6857v174M1112 6890v95M1122 6933v50M1132 6889v111M1142 6889v115M1152 6881v138M1162 6905v82M1172 6913v153M1182 6920v103M1192 6863v212M1202 6900v126M1212 6868v123M1222 6916v104M1232 6914v73M1242 6923v72M1252 6860v164M1262 6870v161M1272 6893v141M1282 6900v110M1292 6925v65M1302 6929v71M1312 6907v164M1322 6879v143M1332 6891v171M1342 6850v183M1352 6907v87M1362 6891v154M1372 6921v120M1382 6878v191M1392 6913v133M1402 6915v98M1412 6899v105M1422 6920v81M1432 6917v138M1442 6920v128M1452 6897v102M1462 6912v130M1472 6918v64M1482 6927v52M1492 6933v76M1502 6899v117M1512 6883v99M1522 6921v103M1532 6896v129M1542 6931v48M1552 6923v92M1562 6896v146M1572 6917v74M1582 6913v114M1592 6877v158M1602 6938v36M1612 6938v36M1622 6893v88M1632 6891v92M1642 6899v89M1652 6888v107M1662 6908v77M1672 6882v102M1682 6933v68M1692 6908v67M1702 6935v78M1712 6890v117M1722 6928v109M1732 6914v95M1742 6888v89M1752 6931v55M1762 6859v133M1772 6896v183M1782 6813v244M1792 6912v119M1802 6833v173M1812 6872v124M1822 6933v63M1832 6904v113M1842 6873v213M1852 6823v272M1862 6917v86M1872 6909v118M1882 6843v210M1892 6922v79M1902 6917v87M1912 6911v102M1922 6908v76M1932 6901v133M1942 6899v148M1952 6915v83M1962 6917v116M1972 6910v161M1982 6907v90M1992 6914v160M2002 6797v210M2012 6815v219M2022 6870v153M2032 6915v148M2042 6914v129M2052 6915v87M2062 6922v153M2072 6860v126M2082 6931v73M2092 6918v60M2102 6923v98M2112 6907v68M2122 6926v53M2132 6880v120M2142 6875v170M2152 6826v166M2162 6898v186M2172 6897v147M2182 6896v145M2192 6916v115M2202 6883v105M2212 6881v161M2222 6921v78M2232 6896v103M2242 6920v124M2252 6837v193M2262 6842v155M2272 6915v132M2282 6879v132M2292 6860v134M2302 6920v124M2312 6913v84M2322 6856v165M2332 6919v79M2342 6876v114M2352 6919v66M2362 6939v35M2372 6920v98M2382 6877v127M2392 6922v55M2402 6886v102M2412 6877v103M2422 6906v79M2432 6891v108M2442 6891v96M2452 6922v53M2462 6928v71M2472 6887v186M2482 6859v142M2492 6867v128M2502 6868v179M2512 6916v131M2522 6920v74M2532 6817v212M2542 6885v101M2552 6911v95M2562 6882v123M2572 6884v101M2582 6875v150M2592 6926v85M2602 6902v81M2612 6931v50M2622 6912v103M2632 6929v92M2642 6931v47M2652 6935v59M2662 6934v65M2672 6928v56M2682 6884v101M2692 6903v131M2702 6921v121M2712 6904v85M2722 6869v124M2732 6914v118M2742 6891v156M2752 6827v247M2762 6854v210M2772 6874v135M2782 6904v113M2792 6817v200M2802 6916v166M2812 6919v85M2822 6881v208M2832 6918v85M2842 6902v91M2852 6928v54M2862 6918v68M2872 6896v189M2882 6841v247M2892 6811v406M2902 6788v385M2912 6778v368M2922 6721v433M2932 6704v537M2942 6741v502M2952 6744v390M2962 6705v498M2972 6721v436M2982 6650v511M2992 6793v313M3002 6858v194M3012 6857v239M3022 6846v206M3032 6855v197M3042 6809v254M3052 6830v234M3062 6829v236M3072 6811v281M3082 6779v360M3092 6815v351M3102 6815v287M3112 6759v431M3122 6738v382M3132 6706v434M3142 6723v427M3152 6737v384M3162 6759v333M3172 6786v374M3182 6790v312M3192 6828v248M3202 6836v257M3212 6860v256M3222 6780v323M3232 6771v378M3242 6754v390M3252 6812v286M3262 6822v334M3272 6748v468M3282 6780v443M3292 6666v484M3302 6753v356M3312 6798v320M3322 6827v273M3332 6820v272M3342 6823v262M3352 6856v152M3362 6916v121M3372 6854v187M3382 6869v144M3392 6915v86M3402 6859v159M3412 6867v149M3422 6864v142M3432 6886v156M3442 6894v109M3452 6859v140M3462 6889v140M3472 6851v205M3482 6893v101M3492 6844v173M3502 6908v144M3512 6846v158M3522 6848v151M3532 6861v216M3542 6911v153M3552 6840v157M3562 6852v143M3572 6918v79M3582 6866v140M3592 6906v98M3602 6894v119M3612 6898v134M3622 6885v125M3632 6898v93M3642 6934v63M3652 6930v47M3662 6907v121M3672 6928v63M3682 6908v128M3692 6894v103M3702 6834v201M3712 6911v93M3722 6873v133M3732 6905v151M3742 6924v63M3752 6924v117M3762 6888v128M3772 6916v118M3782 6863v160M3792 6884v155M3802 6825v233M3812 6834v196M3822 6839v172M3832 6834v244M3842 6898v101M3852 6829v222M3862 6919v154M3872 6861v137M3882 6914v94M3892 6895v144M3902 6877v180M3912 6850v194M3922 6893v128M3932 6843v235M3942 6910v91M3952 6851v258M3962 6891v114M3972 6910v166M3982 6903v77M3992 6931v58M4002 6929v77M4012 6885v152M4022 6862v177M4032 6892v112M4042 6892v98M4052 6874v141M4062 6896v81M4072 6908v115M4082 6884v109M4092 6898v123M4102 6838v171M4112 6881v171M4122 6833v209M4132 6913v84M4142 6898v134M4152 6851v206M4162 6887v137M4172 6868v161M4182 6909v127M4192 6915v100M4202 6914v112M4212 6884v140M4222 6881v137M4232 6906v101M4242 6865v162M4252 6857v210M4262 6906v179M4272 6878v129M4282 6898v93M4292 6934v56M4302 6929v69M4312 6893v103M4322 6931v48M4332 6921v57M4342 6883v95M4352 6927v63M4362 6901v116M4372 6894v170M4382 6865v174M4392 6904v115M4402 6901v90M4412 6893v158M4422 6819v210M4432 6819v226M4442 6842v165M4452 6860v133M4462 6923v62M4472 6929v56M4482 6916v108M4492 6909v76M4502 6914v73M4512 6894v147M4522 6916v83M4532 6877v106M4542 6862v131M4552 6881v162M4562 6844v177M4572 6888v140M4582 6829v221M4592 6882v170M4602 6856v135M4612 6900v87M4622 6910v76M4632 6929v61M4642 6892v107M4652 6857v216M4662 6852v179M4672 6828v171M4682 6856v161M4692 6893v111M4702 6910v125M4712 6919v110M4722 6820v244M4732 6789v231M4742 6893v190M4752 6864v138M4762 6883v113M4772 6924v104M4782 6912v113M4792 6870v131M4802 6925v108M4812 6923v64M4822 6918v145M4832 6911v116M4842 6920v115M4852 6894v91M4862 6926v66M4872 6894v116M4882 6869v186M4892 6899v93M4902 6869v113M4912 6927v87M4922 6892v119M4932 6920v86M4942 6822v203M4952 6888v219M4962 6897v206M4972 6869v156M4982 6815v294M4992 6845v222M5002 6916v136M5012 6869v144M5022 6927v66M5032 6912v99M5042 6925v62M5052 6912v104M5062 6911v75M5072 6917v83M5082 6894v114M5092 6888v118M5102 6906v101M5112 6919v85M5122 6927v85M5132 6923v57M5142 6939v51M5152 6923v53M5162 6937v38M5172 6906v70M5182 6923v64M5192 6889v112M5202 6918v71M5212 6903v76M5222 6909v84M5232 6937v55M5242 6934v53M5252 6915v79M5262 6875v120M5272 6890v106M5282 6858v164M5292 6923v113M5302 6925v95M5312 6914v77M5322 6930v71M5332 6927v79M5342 6894v94M5352 6931v69M5362 6930v48M5372 6928v55M5382 6916v85M5392 6917v98M5402 6887v111M5412 6889v115M5422 6920v85M5432 6913v69M5442 6925v89M5452 6916v74M5462 6918v105M5472 6881v112M5482 6910v130M5492 6916v116M5502 6914v138M5512 6905v96M5522 6890v112M5532 6920v72M5542 6922v76M5552 6922v79M5562 6894v147M5572 6870v127M5582 6889v101M5592 6868v123M5602 6921v73M5612 6893v94M5622 6924v68M5632 6921v85M5642 6912v88M5652 6909v101M5662 6932v49M5672 6921v75M5682 6896v111M5692 6887v104M5702 6914v101M5712 6915v74M5722 6881v133M5732 6893v133M5742 6865v126M5752 6919v90M5762 6918v109M5772 6871v155M5782 6865v157M5792 6915v88M5802 6922v120M5812 6911v95M5822 6897v109M5832 6911v75M5842 6912v99M5852 6911v109M5862 6870v134M5872 6909v125M5882 6914v82M5892 6919v80M5902 6921v84M5912 6925v79M5922 6932v82M5932 6928v95M5942 6885v121M5952 6875v154M5962 6909v81M5972 6922v89M5982 6875v137M5992 6820v272M6002 6878v146M6012 6912v86M6022 6904v86M6032 6874v114M6042 6879v123M6052 6897v96M6062 6918v73M6072 6909v147M6082 6886v127M6092 6866v163M6102 6912v82M6112 6908v152M6122 6804v303M6132 6905v97M6142 6900v106M6152 6858v142M6162 6807v325M6172 6875v295M6182 6776v348M6192 6905v119M6202 6872v135M6212 6846v158M6222 6832v191M6232 6876v142M6242 6866v252M6252 6852v313M6262 6792v387M6272 6804v221M6282 6900v226M6292 6846v222M6302 6875v302M6312 6811v384M6322 6873v257M6332 6793v233M6342 6802v330M6352 6878v130M6362 6853v148M6372 6873v146M6382 6904v96M6392 6925v106M6402 6865v175M6412 6898v114M6422 6884v158M6432 6883v140M6442 6916v98M6452 6921v104" fill="none" stroke="#0000ff" stroke-width="5" stroke-opacity="0.8"/>
<path d="M440 6913v80M450 6925v51M460 6921v58M470 6915v71M480 6921v78M490 6923v84M500 6912v67M510 6932v69M520 6921v79M530 6922v136M540 6922v70M550 6922v71M560 6899v111M570 6924v78M580 6927v80M590 6929v96M600 6905v107M610 6863v175M620 6853v158M630 6922v104M640 6876v130M650 6935v44M660 6917v68M670 6927v60M680 6923v73M690 6926v80M700 6927v57M710 6929v68M720 6931v91M730 6910v80M740 6904v108M750 6888v107M760 6924v113M770 6932v53M780 6921v65M790 6870v198M800 6853v134M810 6898v109M820 6916v59M830 6936v82M840 6922v56M850 6934v43M860 6933v97M870 6905v82M880 6871v122M890 6922v68M900 6886v132M910 6899v85M920 6905v101M930 6922v68M940 6920v112M950 6918v77M960 6913v77M970 6922v120M980 6850v140M990 6916v72M1000 6919v58M1010 6934v63M1020 6893v109M1030 6896v89M1040 6918v65M1050 6932v94M1060 6929v62M1070 6918v55M1080 6936v40M1090 6937v43M1100 6879v109M1110 6920v71M1120 6921v75M1130 6921v71M1140 6924v64M1150 6826v178M1160 6922v67M1170 6900v149M1180 6920v106M1190 6920v84M1200 6921v88M1210 6925v98M1220 6933v51M1230 6935v92M1240 6904v82M1250 6931v59M1260 6929v74M1270 6929v61M1280 6864v131M1290 6888v142M1300 6930v78M1310 6884v99M1320 6918v72M1330 6914v82M1340 6878v126M1350 6932v57M1360 6921v122M1370 6879v144M1380 6934v72M1390 6911v63M1400 6936v39M1410 6933v46M1420 6876v106M1430 6906v76M1440 6928v56M1450 6928v52M1460 6911v75M1470 6921v65M1480 6899v131M1490 6915v81M1500 6923v115M1510 6923v104M1520 6816v181M1530 6898v182M1540 6920v103M1550 6923v138M1560 6869v117M1570 6932v113M1580 6919v83M1590 6922v61M1600 6931v64M1610 6919v63M1620 6926v151M1630 6820v171M1640 6919v92M1650 6922v116M1660 6844v142M1670 6919v72M1680 6830v161M1690 6934v87M1700 6892v94M1710 6855v130M1720 6917v75M1730 6910v155M1740 6871v131M1750 6938v76M1760 6935v66M1770 6932v82M1780 6880v134M1790 6925v61M1800 6919v143M1810 6923v95M1820 6928v138M1830 6921v97M1840 6913v66M1850 6928v55M1860 6922v69M1870 6878v123M1880 6912v213M1890 6835v161M1900 6917v102M1910 6910v153M1920 6843v165M1930 6910v86M1940 6913v206M1950 6918v178M1960 6914v103M1970 6917v77M1980 6854v139M1990 6842v145M2000 6922v117M2010 6937v81M2020 6901v131M2030 6934v45M2040 6891v90M2050 6935v55M2060 6868v169M2070 6930v66M2080 6929v55M2090 6924v73M2100 6923v66M2110 6865v140M2120 6851v248M2130 6877v148M2140 6902v79M2150 6929v50M2160 6934v76M2170 6936v40M2180 6920v108M2190 6937v44M2200 6885v88M2210 6904v118M2220 6916v62M2230 6928v57M2240 6874v151M2250 6924v64M2260 6873v109M2270 6919v69M2280 6919v96M2290 6907v87M2300 6927v55M2310 6932v49M2320 6935v40M2330 6938v39M2340 6895v80M2350 6918v92M2360 6914v68M2370 6914v72M2380 6913v125M2390 6878v113M2400 6918v144M2410 6904v83M2420 6931v51M2430 6933v44M2440 6887v141M2450 6894v94M2460 6898v90M2470 6848v142M2480 6859v131M2490 6919v172M2500 6898v131M2510 6890v101M2520 6883v138M2530 6914v71M2540 6879v114M2550 6898v85M2560 6917v89M2570 6907v84M2580 6928v93M2590 6882v160M2600 6900v159M2610 6920v74M2620 6919v73M2630 6921v108M2640 6847v158M2650 6883v113M2660 6934v43M2670 6938v65M2680 6912v111M2690 6911v64M2700 6934v43M2710 6931v49M2720 6924v121M2730 6896v100M2740 6901v91M2750 6858v149M2760 6919v168M2770 6929v131M2780 6932v77M2790 6877v193M2800 6843v148M2810 6903v107M2820 6900v107M2830 6920v64M2840 6845v177M2850 6925v103M2860 6927v139M2870 6819v271M2880 6863v198M2890 6858v194M2900 6817v304M2910 6689v425M2920 6800v371M2930 6796v321M2940 6733v409M2950 6772v370M2960 6779v355M2970 6784v342M2980 6732v363M2990 6837v234M3000 6851v230M3010 6854v266M3020 6801v255M3030 6848v240M3040 6755v335M3050 6699v427M3060 6783v379M3070 6782v351M3080 6743v523M3090 6757v450M3100 6705v510M3110 6833v260M3120 6797v282M3130 6798v283M3140 6747v468M3150 6736v500M3160 6652v506M3170 6757v437M3180 6809v294M3190 6831v244M3200 6832v262M3210 6811v397M3220 6776v346M3230 6716v482M3240 6710v493M3250 6752v428M3260 6771v382M3270 6762v319M3280 6851v279M3290 6843v206M3300 6867v176M3310 6866v204M3320 6798v271M3330 6836v255M3340 6820v250M3350 6877v156M3360 6880v118M3370 6918v92M3380 6883v116M3390 6906v107M3400 6881v133M3410 6907v133M3420 6831v190M3430 6897v203M3440 6904v106M3450 6881v187M3460 6900v210M3470 6888v117M3480 6907v98M3490 6931v57M3500 6934v44M3510 6927v100M3520 6857v161M3530 6916v85M3540 6911v95M3550 6846v166M3560 6843v173M3570 6917v79M3580 6880v152M3590 6904v93M3600 6879v124M3610 6912v88M3620 6916v112M3630 6904v170M3640 6918v85M3650 6889v111M3660 6837v180M3670 6917v130M3680 6926v72M3690 6902v81M3700 6923v66M3710 6846v153M3720 6907v94M3730 6914v84M3740 6915v123M3750 6903v86M3760 6929v52M3770 6929v73M3780 6880v142M3790 6929v106M3800 6936v42M3810 6891v85M3820 6903v72M3830 6924v89M3840 6937v52M3850 6905v70M3860 6924v107M3870 6916v66M3880 6928v52M3890 6927v84M3900 6882v142M3910 6926v62M3920 6930v52M3930 6929v51M3940 6877v102M3950 6927v101M3960 6924v121M3970 6832v169M3980 6910v105M3990 6893v168M4000 6906v90M4010 6907v143M4020 6928v97M4030 6929v58M4040 6927v67M4050 6913v86M4060 6861v154M4070 6873v123M4080 6900v94M4090 6923v65M4100 6929v65M4110 6883v102M4120 6868v116M4130 6930v54M4140 6929v54M4150 6926v70M4160 6924v106M4170 6899v87M4180 6878v125M4190 6842v167M4200 6916v90M4210 6918v76M4220 6926v114M4230 6927v57M4240 6858v138M4250 6925v106M4260 6917v73M4270 6918v137M4280 6830v214M4290 6919v116M4300 6918v153M4310 6903v163M4320 6929v52M4330 6937v54M4340 6921v86M4350 6932v71M4360 6929v59M4370 6929v107M4380 6927v57M4390 6873v110M4400 6927v66M4410 6921v69M4420 6917v105M4430 6914v134M4440 6918v134M4450 6859v191M4460 6903v119M4470 6859v131M4480 6878v124M4490 6917v131M4500 6911v81M4510 6870v117M4520 6914v69M4530 6887v98M4540 6921v72M4550 6879v123M4560 6925v65M4570 6930v55M4580 6873v116M4590 6886v163M4600 6890v130M4610 6924v54M4620 6937v71M4630 6933v49M4640 6880v110M4650 6909v88M4660 6912v85M4670 6828v168M4680 6907v87M4690 6915v145M4700 6930v52M4710 6876v117M4720 6918v75M4730 6914v83M4740 6832v157M4750 6928v54M4760 6892v93M4770 6837v197M4780 6906v96M4790 6851v151M4800 6825v181M4810 6901v190M4820 6781v238M4830 6904v102M4840 6899v103M4850 6912v88M4860 6928v108M4870 6911v74M4880 6887v91M4890 6921v61M4900 6909v83M4910 6918v157M4920 6917v100M4930 6932v70M4940 6927v108M4950 6910v92M4960 6910v131M4970 6877v125M4980 6910v95M4990 6918v84M5000 6921v81M5010 6928v111M5020 6930v52M5030 6931v69M5040 6928v66M5050 6931v51M5060 6921v63M5070 6895v99M5080 6919v74M5090 6921v71M5100 6878v105M5110 6929v54M5120 6924v124M5130 6906v105M5140 6917v76M5150 6934v43M5160 6938v35M5170 6935v53M5180 6934v44M5190 6933v79M5200 6938v43M5210 6937v56M5220 6937v37M5230 6926v79M5240 6933v61M5250 6931v48M5260 6895v97M5270 6928v56M5280 6929v53M5290 6934v51M5300 6936v40M5310 6907v93M5320 6931v46M5330 6927v77M5340 6895v134M5350 6852v140M5360 6914v98M5370 6927v63M5380 6897v97M5390 6931v52M5400 6929v71M5410 6919v73M5420 6921v74M5430 6931v72M5440 6933v62M5450 6929v51M5460 6899v83M5470 6921v62M5480 6904v86M5490 6923v92M5500 6919v134M5510 6921v70M5520 6920v115M5530 6922v68M5540 6921v71M5550 6920v72M5560 6887v107M5570 6921v70M5580 6862v129M5590 6921v81M5600 6910v76M5610 6911v75M5620 6925v95M5630 6921v71M5640 6918v103M5650 6886v112M5660 6917v106M5670 6924v112M5680 6927v57M5690 6932v47M5700 6926v52M5710 6935v45M5720 6934v58M5730 6934v51M5740 6932v49M5750 6920v66M5760 6923v64M5770 6929v63M5780 6889v97M5790 6893v87M5800 6930v54M5810 6926v93M5820 6918v73M5830 6918v126M5840 6920v80M5850 6921v81M5860 6920v85M5870 6860v198M5880 6900v112M5890 6911v88M5900 6905v82M5910 6921v64M5920 6921v59M5930 6928v109M5940 6930v125M5950 6924v55M5960 6923v68M5970 6874v108M5980 6933v49M5990 6916v97M6000 6921v69M6010 6869v149M6020 6913v74M6030 6927v96M6040 6915v117M6050 6923v116M6060 6922v68M6070 6917v72M6080 6897v106M6090 6924v80M6100 6920v80M6110 6922v68M6120 6867v130M6130 6905v99M6140 6904v104M6150 6882v130M6160 6893v121M6170 6882v146M6180 6884v133M6190 6916v93M6200 6876v169M6210 6891v129M6220 6898v119M6230 6858v159M6240 6885v193M6250 6738v274M6260 6894v183M6270 6901v114M6280 6768v241M6290 6774v256M6300 6896v115M6310 6888v153M6320 6895v123M6330 6790v217M6340 6912v88M6350 6896v101M6360 6924v67M6370 6879v113M6380 6873v127M6390 6905v99M6400 6915v82M6410 6915v88M6420 6912v81M6430 6889v140M6440 6906v99M6450 6910v97" fill="none" stroke="#0000ff" stroke-width="10" stroke-opacity="0.25"/>
<path d="M1052 6956v347M1124 6956v122M1189 6844v234M1253 6834v122M1302 6956v318M1326 6834v122M1351 6834v591M1377 6956v163M1447 6956v204M1481 6956v314M1540 6956v122M1615 6956v133M1641 6834v518M1747 6409v990M1762 6701v663M1770 6956v469M1791 6597v861M1858 6364v1061M1876 6450v1002M1887 6956v408M1905 6454v1016M1971 6779v650M2030 6956v184M2073 6813v637M2140 6813v143M2192 6752v789M2244 6834v122M2321 6701v600M2360 6779v924M2383 6481v842M2412 6834v914M2523 6779v789M2629 6844v540M2650 6956v314M2686 6834v448M2815 6803v286M2877 6725v808M2913 6956v347M3025 6711v245M3193 6674v282M3361 6644v312M3149 6956v649M3169 6956v702M3247 6956v528M3485 6956v275M3522 6956v275M3731 6644v516M3746 6956v367M3845 6956v265M3873 6956v235M3948 6956v353M3987 6713v784M4015 6540v1303M4033 6752v930M4098 6956v184M4134 6344v1489M4144 6956v235M4344 6956v345M4377 6956v235M4439 6956v265M4483 6813v520M4581 6956v508M4700 6532v893M4724 6752v763M4745 6956v367M4817 6779v697M4837 6956v388M4866 6956v810M4887 6956v339M4968 6748v561M4913 6956v184M5184 6813v314M5283 6691v544M5484 6681v434M5567 6956v275M5583 6548v510M5986 6740v375M6206 6793v361M6239 6758v369M6283 6691v506M6309 6834v255" fill="none" stroke="#0000ff" stroke-width="9" stroke-opacity="0.42"/></g>
<text x="39.0" y="617.9" text-anchor="end" font-weight="normal" font-size="12.4" >0.4</text>
<text x="39.0" y="658.7" text-anchor="end" font-weight="normal" font-size="12.4" >0.2</text>
<text x="39.0" y="699.5" text-anchor="end" font-weight="normal" font-size="12.4" >0</text>
<text x="39.0" y="740.3" text-anchor="end" font-weight="normal" font-size="12.4" >-0.2</text>
<text x="39.0" y="781.1" text-anchor="end" font-weight="normal" font-size="12.4" >-0.4</text>
<text x="39.0" y="821.9" text-anchor="end" font-weight="normal" font-size="12.4" >-0.6</text>
<text x="43.7" y="832.6" text-anchor="middle" font-weight="normal" font-size="12.4" >00:00</text>
<text x="119.0" y="832.6" text-anchor="middle" font-weight="normal" font-size="12.4" >03:00</text>
<text x="194.2" y="832.6" text-anchor="middle" font-weight="normal" font-size="12.4" >06:00</text>
<text x="269.4" y="832.6" text-anchor="middle" font-weight="normal" font-size="12.4" >09:00</text>
<text x="344.7" y="832.6" text-anchor="middle" font-weight="normal" font-size="12.4" >12:00</text>
<text x="419.9" y="832.6" text-anchor="middle" font-weight="normal" font-size="12.4" >15:00</text>
<text x="495.2" y="832.6" text-anchor="middle" font-weight="normal" font-size="12.4" >18:00</text>
<text x="570.5" y="832.6" text-anchor="middle" font-weight="normal" font-size="12.4" >21:00</text>
<text x="645.7" y="832.6" text-anchor="middle" font-weight="normal" font-size="12.4" >00:00</text>
<text transform="translate(9.0,716.0) rotate(-90)" text-anchor="middle" font-weight="bold" font-size="12.4">Z (nT)</text>
<rect x="836.5" y="613.5" width="603.0" height="204.5" fill="#00008f"/>
<g clip-path="url(#cp2)"><g fill="none" stroke-width="1" filter="url(#bl)" shape-rendering="crispEdges">
<path stroke="#0000a2" d="M970.5 649.5v58M973.5 781.5v36M974.5 714.5v49M975.5 667.5v20M976.5 662.5v13M977.5 682.5v22M978.5 726.5v31M979.5 771.5v29M980.5 804.5v13M1007.5 725.5v56M1008.5 706.5v22M1008.5 763.5v25M1009.5 708.5v23M1009.5 760.5v27M1010.5 732.5v44M1074.5 768.5v11M1075.5 764.5v19M1076.5 764.5v19M1077.5 768.5v11M1187.5 633.5v86M1187.5 755.5v8M1188.5 760.5v4M1189.5 693.5v68M1255.5 629.5v21M1255.5 655.5v19M1255.5 720.5v66M1256.5 700.5v18M1256.5 773.5v18M1257.5 700.5v18M1257.5 773.5v18M1258.5 720.5v66M1264.5 772.5v25M1265.5 761.5v12M1265.5 793.5v9M1266.5 759.5v7M1266.5 797.5v6M1267.5 759.5v9M1267.5 796.5v7M1268.5 764.5v14M1268.5 789.5v12M1269.5 780.5v11M1279.5 722.5v5M1280.5 693.5v18M1280.5 736.5v14M1281.5 689.5v12M1281.5 741.5v10M1282.5 701.5v46M1402.5 783.5v33M1403.5 773.5v11M1404.5 770.5v7M1405.5 770.5v7M1406.5 773.5v11M1407.5 782.5v11M1408.5 758.5v36M1409.5 740.5v11M1409.5 798.5v2M1410.5 737.5v5M1410.5 799.5v17M1411.5 737.5v5M1411.5 799.5v3M1412.5 740.5v11M1412.5 797.5v4M1413.5 758.5v41"/>
<path stroke="#0000c3" d="M974.5 763.5v35M975.5 687.5v19M976.5 675.5v12M977.5 704.5v15M978.5 757.5v21M979.5 800.5v17M1008.5 728.5v35M1009.5 731.5v29M1187.5 719.5v36M1188.5 613.5v26M1188.5 756.5v4M1255.5 650.5v5M1256.5 718.5v17M1256.5 754.5v19M1257.5 718.5v17M1257.5 754.5v19M1265.5 773.5v20M1266.5 766.5v7M1266.5 791.5v6M1267.5 768.5v8M1267.5 790.5v6M1268.5 778.5v11M1280.5 711.5v25M1281.5 701.5v13M1281.5 731.5v10M1403.5 784.5v32M1404.5 777.5v7M1405.5 777.5v7M1406.5 784.5v14M1407.5 793.5v4M1408.5 794.5v5M1409.5 751.5v11M1409.5 793.5v5M1409.5 800.5v16M1410.5 742.5v5M1410.5 797.5v2M1411.5 742.5v5M1411.5 797.5v2M1412.5 751.5v11M1412.5 793.5v4"/>
<path stroke="#0000e6" d="M974.5 798.5v19M975.5 706.5v21M976.5 687.5v12M977.5 719.5v19M978.5 778.5v19M1188.5 639.5v36M1188.5 752.5v4M1256.5 735.5v19M1257.5 735.5v19M1266.5 773.5v8M1266.5 785.5v6M1267.5 776.5v14M1281.5 714.5v17M1404.5 784.5v8M1404.5 797.5v19M1405.5 784.5v8M1405.5 797.5v19M1406.5 798.5v18M1407.5 797.5v4M1407.5 809.5v7M1408.5 799.5v17M1409.5 762.5v31M1410.5 747.5v5M1410.5 794.5v3M1411.5 747.5v5M1411.5 794.5v3M1412.5 762.5v31"/>
<path stroke="#0008ff" d="M975.5 727.5v47M976.5 699.5v11M977.5 738.5v22M978.5 797.5v19M1188.5 675.5v77M1266.5 781.5v4M1404.5 792.5v5M1405.5 792.5v5M1407.5 801.5v8M1410.5 752.5v7M1410.5 791.5v3M1411.5 752.5v7M1411.5 791.5v3"/>
<path stroke="#002aff" d="M975.5 774.5v43M976.5 710.5v14M977.5 760.5v25M978.5 816.5v1M1410.5 759.5v32M1411.5 759.5v32"/>
<path stroke="#004dff" d="M976.5 724.5v59M977.5 785.5v28"/>
<path stroke="#006eff" d="M976.5 783.5v34M977.5 813.5v4"/>
</g></g>
<path d="M836.5 632.40h6M1439.5 632.40h-6M836.5 650.50h6M1439.5 650.50h-6M836.5 671.00h6M1439.5 671.00h-6M836.5 694.70h6M1439.5 694.70h-6M836.5 721.60h6M1439.5 721.60h-6M836.5 752.80h6M1439.5 752.80h-6M836.5 771.80h6M1439.5 771.80h-6M836.5 791.80h6M1439.5 791.80h-6M836.5 815.80h6M1439.5 815.80h-6M911.88 614.0v6M911.88 818.0v-6M987.25 614.0v6M987.25 818.0v-6M1062.62 614.0v6M1062.62 818.0v-6M1138.00 614.0v6M1138.00 818.0v-6M1213.38 614.0v6M1213.38 818.0v-6M1288.75 614.0v6M1288.75 818.0v-6M1364.12 614.0v6M1364.12 818.0v-6" stroke="#000060" stroke-width="1" fill="none" opacity="0.55"/>
<path d="M836.0 818.0H1440.0" stroke="#555" stroke-width="1" fill="none" opacity="0.8"/>
<text x="832.2" y="618.1" text-anchor="end" font-weight="normal" font-size="12.4" >22</text>
<text x="832.2" y="636.8" text-anchor="end" font-weight="normal" font-size="12.4" >20</text>
<text x="832.2" y="654.9" text-anchor="end" font-weight="normal" font-size="12.4" >18</text>
<text x="832.2" y="675.4" text-anchor="end" font-weight="normal" font-size="12.4" >16</text>
<text x="832.2" y="699.1" text-anchor="end" font-weight="normal" font-size="12.4" >14</text>
<text x="832.2" y="726.0" text-anchor="end" font-weight="normal" font-size="12.4" >12</text>
<text x="832.2" y="757.2" text-anchor="end" font-weight="normal" font-size="12.4" >10</text>
<text x="832.2" y="776.2" text-anchor="end" font-weight="normal" font-size="12.4" >9</text>
<text x="832.2" y="796.2" text-anchor="end" font-weight="normal" font-size="12.4" >8</text>
<text x="832.2" y="820.2" text-anchor="end" font-weight="normal" font-size="12.4" >7</text>
<text x="836.4" y="832.6" text-anchor="middle" font-weight="normal" font-size="12.4" >00:00</text>
<text x="911.8" y="832.6" text-anchor="middle" font-weight="normal" font-size="12.4" >03:00</text>
<text x="987.1" y="832.6" text-anchor="middle" font-weight="normal" font-size="12.4" >06:00</text>
<text x="1062.5" y="832.6" text-anchor="middle" font-weight="normal" font-size="12.4" >09:00</text>
<text x="1137.9" y="832.6" text-anchor="middle" font-weight="normal" font-size="12.4" >12:00</text>
<text x="1213.3" y="832.6" text-anchor="middle" font-weight="normal" font-size="12.4" >15:00</text>
<text x="1288.7" y="832.6" text-anchor="middle" font-weight="normal" font-size="12.4" >18:00</text>
<text x="1364.0" y="832.6" text-anchor="middle" font-weight="normal" font-size="12.4" >21:00</text>
<text x="1439.4" y="832.6" text-anchor="middle" font-weight="normal" font-size="12.4" >00:00</text>
<text transform="translate(809.3,715.5) rotate(-90)" text-anchor="middle" font-weight="bold" font-size="12.4">freq (mHz)</text>
<rect x="1458.0" y="613.5" width="26.0" height="204.5" fill="url(#jet)"/>
<rect x="1458.5" y="614.0" width="25.0" height="204.0" fill="none" stroke="#444" stroke-opacity="0.45" stroke-width="1"/>
<text x="1487.0" y="618.0" text-anchor="start" font-weight="normal" font-size="12.4" >4</text>
<text x="1487.0" y="652.0" text-anchor="start" font-weight="normal" font-size="12.4" >3</text>
<text x="1487.0" y="686.0" text-anchor="start" font-weight="normal" font-size="12.4" >2</text>
<text x="1487.0" y="720.0" text-anchor="start" font-weight="normal" font-size="12.4" >1</text>
<text x="1487.0" y="754.0" text-anchor="start" font-weight="normal" font-size="12.4" >0</text>
<text x="1487.0" y="788.0" text-anchor="start" font-weight="normal" font-size="12.4" >-1</text>
<text x="1487.0" y="822.0" text-anchor="start" font-weight="normal" font-size="12.4" >-2</text>
<path d="M1458.5 648.00h3M1483.5 648.00h-3M1458.5 682.00h3M1483.5 682.00h-3M1458.5 716.00h3M1483.5 716.00h-3M1458.5 750.00h3M1483.5 750.00h-3M1458.5 784.00h3M1483.5 784.00h-3" stroke="#333" stroke-width="1" fill="none" opacity="0.6"/>
<text transform="translate(1518.8,716.0) rotate(-90)" text-anchor="middle" font-weight="bold" font-size="12.4">log<tspan dy="4.5" font-size="10.5">2</tspan><tspan dy="-4.5">(nT</tspan><tspan dy="-5.5" font-size="10.5">2</tspan><tspan dy="5.5">/Hz)</tspan></text>
</svg></body></html>
